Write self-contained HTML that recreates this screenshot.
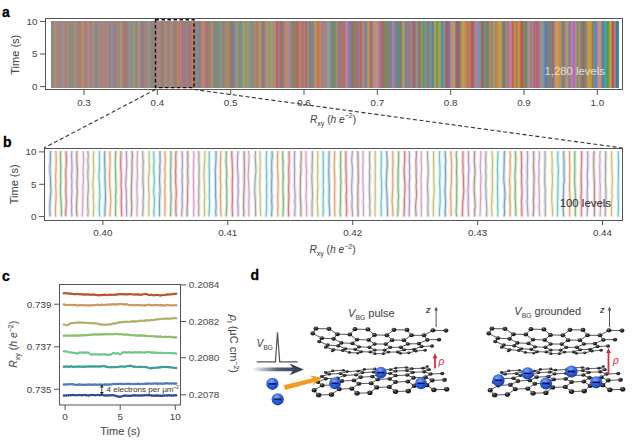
<!DOCTYPE html>
<html><head><meta charset="utf-8"><style>
html,body{margin:0;padding:0;background:#fff;}
svg{display:block;}
text{font-family:"Liberation Sans",sans-serif;}
</style></head><body>
<svg width="632" height="444" viewBox="0 0 632 444">
<rect width="632" height="444" fill="#fff"/>
<g id="pa">
<g shape-rendering="crispEdges">
<rect x="51.0" y="21" width="1.02" height="66.7" fill="rgb(137,142,114)"/>
<rect x="52.0" y="21" width="1.02" height="66.7" fill="rgb(138,137,132)"/>
<rect x="53.0" y="21" width="1.02" height="66.7" fill="rgb(147,141,132)"/>
<rect x="54.0" y="21" width="1.02" height="66.7" fill="rgb(150,147,131)"/>
<rect x="55.0" y="21" width="1.02" height="66.7" fill="rgb(161,146,121)"/>
<rect x="56.0" y="21" width="1.02" height="66.7" fill="rgb(176,136,111)"/>
<rect x="57.0" y="21" width="1.02" height="66.7" fill="rgb(178,124,113)"/>
<rect x="58.0" y="21" width="1.02" height="66.7" fill="rgb(172,126,127)"/>
<rect x="59.0" y="21" width="1.02" height="66.7" fill="rgb(160,135,139)"/>
<rect x="60.0" y="21" width="1.02" height="66.7" fill="rgb(156,132,133)"/>
<rect x="61.0" y="21" width="1.02" height="66.7" fill="rgb(147,137,137)"/>
<rect x="62.0" y="21" width="1.02" height="66.7" fill="rgb(144,143,146)"/>
<rect x="63.0" y="21" width="1.02" height="66.7" fill="rgb(169,136,148)"/>
<rect x="64.0" y="21" width="1.02" height="66.7" fill="rgb(176,130,140)"/>
<rect x="65.0" y="21" width="1.02" height="66.7" fill="rgb(166,127,119)"/>
<rect x="66.0" y="21" width="1.02" height="66.7" fill="rgb(154,140,112)"/>
<rect x="67.0" y="21" width="1.02" height="66.7" fill="rgb(162,144,117)"/>
<rect x="68.0" y="21" width="1.02" height="66.7" fill="rgb(155,137,130)"/>
<rect x="69.0" y="21" width="1.02" height="66.7" fill="rgb(140,141,122)"/>
<rect x="70.0" y="21" width="1.02" height="66.7" fill="rgb(137,143,128)"/>
<rect x="71.0" y="21" width="1.02" height="66.7" fill="rgb(147,135,129)"/>
<rect x="72.0" y="21" width="1.02" height="66.7" fill="rgb(161,129,119)"/>
<rect x="73.0" y="21" width="1.02" height="66.7" fill="rgb(168,136,118)"/>
<rect x="74.0" y="21" width="1.02" height="66.7" fill="rgb(145,147,137)"/>
<rect x="75.0" y="21" width="1.02" height="66.7" fill="rgb(149,148,131)"/>
<rect x="76.0" y="21" width="1.02" height="66.7" fill="rgb(161,139,118)"/>
<rect x="77.0" y="21" width="1.02" height="66.7" fill="rgb(159,130,121)"/>
<rect x="78.0" y="21" width="1.02" height="66.7" fill="rgb(158,130,127)"/>
<rect x="79.0" y="21" width="1.02" height="66.7" fill="rgb(167,124,120)"/>
<rect x="80.0" y="21" width="1.02" height="66.7" fill="rgb(177,123,111)"/>
<rect x="81.0" y="21" width="1.02" height="66.7" fill="rgb(182,133,107)"/>
<rect x="82.0" y="21" width="1.02" height="66.7" fill="rgb(177,142,108)"/>
<rect x="83.0" y="21" width="1.02" height="66.7" fill="rgb(169,144,111)"/>
<rect x="84.0" y="21" width="1.02" height="66.7" fill="rgb(161,132,119)"/>
<rect x="85.0" y="21" width="1.02" height="66.7" fill="rgb(159,128,131)"/>
<rect x="86.0" y="21" width="1.02" height="66.7" fill="rgb(163,129,138)"/>
<rect x="87.0" y="21" width="1.02" height="66.7" fill="rgb(174,132,123)"/>
<rect x="88.0" y="21" width="1.02" height="66.7" fill="rgb(182,134,117)"/>
<rect x="89.0" y="21" width="1.02" height="66.7" fill="rgb(176,132,134)"/>
<rect x="90.0" y="21" width="1.02" height="66.7" fill="rgb(161,129,128)"/>
<rect x="91.0" y="21" width="1.02" height="66.7" fill="rgb(161,133,124)"/>
<rect x="92.0" y="21" width="1.02" height="66.7" fill="rgb(172,137,116)"/>
<rect x="93.0" y="21" width="1.02" height="66.7" fill="rgb(153,144,131)"/>
<rect x="94.0" y="21" width="1.02" height="66.7" fill="rgb(138,145,143)"/>
<rect x="95.0" y="21" width="1.02" height="66.7" fill="rgb(148,134,130)"/>
<rect x="96.0" y="21" width="1.02" height="66.7" fill="rgb(151,131,126)"/>
<rect x="97.0" y="21" width="1.02" height="66.7" fill="rgb(140,141,140)"/>
<rect x="98.0" y="21" width="1.02" height="66.7" fill="rgb(145,141,139)"/>
<rect x="99.0" y="21" width="1.02" height="66.7" fill="rgb(160,136,126)"/>
<rect x="100.0" y="21" width="1.02" height="66.7" fill="rgb(172,135,116)"/>
<rect x="101.0" y="21" width="1.02" height="66.7" fill="rgb(161,135,126)"/>
<rect x="102.0" y="21" width="1.02" height="66.7" fill="rgb(163,135,124)"/>
<rect x="103.0" y="21" width="1.02" height="66.7" fill="rgb(179,134,112)"/>
<rect x="104.0" y="21" width="1.02" height="66.7" fill="rgb(174,133,121)"/>
<rect x="105.0" y="21" width="1.02" height="66.7" fill="rgb(161,132,135)"/>
<rect x="106.0" y="21" width="1.02" height="66.7" fill="rgb(159,134,136)"/>
<rect x="107.0" y="21" width="1.02" height="66.7" fill="rgb(168,133,140)"/>
<rect x="108.0" y="21" width="1.02" height="66.7" fill="rgb(167,129,133)"/>
<rect x="109.0" y="21" width="1.02" height="66.7" fill="rgb(159,126,123)"/>
<rect x="110.0" y="21" width="1.02" height="66.7" fill="rgb(152,132,128)"/>
<rect x="111.0" y="21" width="1.02" height="66.7" fill="rgb(139,142,142)"/>
<rect x="112.0" y="21" width="1.02" height="66.7" fill="rgb(132,143,148)"/>
<rect x="113.0" y="21" width="1.02" height="66.7" fill="rgb(140,134,146)"/>
<rect x="114.0" y="21" width="1.02" height="66.7" fill="rgb(159,125,137)"/>
<rect x="115.0" y="21" width="1.02" height="66.7" fill="rgb(167,121,122)"/>
<rect x="116.0" y="21" width="1.02" height="66.7" fill="rgb(162,130,130)"/>
<rect x="117.0" y="21" width="1.02" height="66.7" fill="rgb(162,135,136)"/>
<rect x="118.0" y="21" width="1.02" height="66.7" fill="rgb(146,141,120)"/>
<rect x="119.0" y="21" width="1.02" height="66.7" fill="rgb(147,146,110)"/>
<rect x="120.0" y="21" width="1.02" height="66.7" fill="rgb(165,149,110)"/>
<rect x="121.0" y="21" width="1.02" height="66.7" fill="rgb(173,144,121)"/>
<rect x="122.0" y="21" width="1.02" height="66.7" fill="rgb(177,130,132)"/>
<rect x="123.0" y="21" width="1.02" height="66.7" fill="rgb(177,115,116)"/>
<rect x="124.0" y="21" width="1.02" height="66.7" fill="rgb(169,117,109)"/>
<rect x="125.0" y="21" width="1.02" height="66.7" fill="rgb(152,129,109)"/>
<rect x="126.0" y="21" width="1.02" height="66.7" fill="rgb(158,125,116)"/>
<rect x="127.0" y="21" width="1.02" height="66.7" fill="rgb(149,133,136)"/>
<rect x="128.0" y="21" width="1.02" height="66.7" fill="rgb(159,132,147)"/>
<rect x="129.0" y="21" width="1.02" height="66.7" fill="rgb(164,135,150)"/>
<rect x="130.0" y="21" width="1.02" height="66.7" fill="rgb(137,147,149)"/>
<rect x="131.0" y="21" width="1.02" height="66.7" fill="rgb(128,148,134)"/>
<rect x="132.0" y="21" width="1.02" height="66.7" fill="rgb(136,146,114)"/>
<rect x="133.0" y="21" width="1.02" height="66.7" fill="rgb(156,148,108)"/>
<rect x="134.0" y="21" width="1.02" height="66.7" fill="rgb(160,147,115)"/>
<rect x="135.0" y="21" width="1.02" height="66.7" fill="rgb(136,136,138)"/>
<rect x="136.0" y="21" width="1.02" height="66.7" fill="rgb(135,136,139)"/>
<rect x="137.0" y="21" width="1.02" height="66.7" fill="rgb(159,145,120)"/>
<rect x="138.0" y="21" width="1.02" height="66.7" fill="rgb(174,143,126)"/>
<rect x="139.0" y="21" width="1.02" height="66.7" fill="rgb(174,135,141)"/>
<rect x="140.0" y="21" width="1.02" height="66.7" fill="rgb(156,134,137)"/>
<rect x="141.0" y="21" width="1.02" height="66.7" fill="rgb(138,133,140)"/>
<rect x="142.0" y="21" width="1.02" height="66.7" fill="rgb(138,129,138)"/>
<rect x="143.0" y="21" width="1.02" height="66.7" fill="rgb(165,120,117)"/>
<rect x="144.0" y="21" width="1.02" height="66.7" fill="rgb(180,126,106)"/>
<rect x="145.0" y="21" width="1.02" height="66.7" fill="rgb(166,132,117)"/>
<rect x="146.0" y="21" width="1.02" height="66.7" fill="rgb(135,137,141)"/>
<rect x="147.0" y="21" width="1.02" height="66.7" fill="rgb(138,145,142)"/>
<rect x="148.0" y="21" width="1.02" height="66.7" fill="rgb(165,141,120)"/>
<rect x="149.0" y="21" width="1.02" height="66.7" fill="rgb(142,147,139)"/>
<rect x="150.0" y="21" width="1.02" height="66.7" fill="rgb(134,145,146)"/>
<rect x="151.0" y="21" width="1.02" height="66.7" fill="rgb(150,130,124)"/>
<rect x="152.0" y="21" width="1.02" height="66.7" fill="rgb(141,136,110)"/>
<rect x="153.0" y="21" width="1.02" height="66.7" fill="rgb(138,137,110)"/>
<rect x="154.0" y="21" width="1.02" height="66.7" fill="rgb(152,127,116)"/>
<rect x="155.0" y="21" width="1.02" height="66.7" fill="rgb(155,128,123)"/>
<rect x="156.0" y="21" width="1.02" height="66.7" fill="rgb(154,132,132)"/>
<rect x="157.0" y="21" width="1.02" height="66.7" fill="rgb(161,131,137)"/>
<rect x="158.0" y="21" width="1.02" height="66.7" fill="rgb(172,131,126)"/>
<rect x="159.0" y="21" width="1.02" height="66.7" fill="rgb(170,130,132)"/>
<rect x="160.0" y="21" width="1.02" height="66.7" fill="rgb(157,130,139)"/>
<rect x="161.0" y="21" width="1.02" height="66.7" fill="rgb(142,136,122)"/>
<rect x="162.0" y="21" width="1.02" height="66.7" fill="rgb(147,131,109)"/>
<rect x="163.0" y="21" width="1.02" height="66.7" fill="rgb(170,119,106)"/>
<rect x="164.0" y="21" width="1.02" height="66.7" fill="rgb(174,134,105)"/>
<rect x="165.0" y="21" width="1.02" height="66.7" fill="rgb(166,147,109)"/>
<rect x="166.0" y="21" width="1.02" height="66.7" fill="rgb(148,142,126)"/>
<rect x="167.0" y="21" width="1.02" height="66.7" fill="rgb(138,133,143)"/>
<rect x="168.0" y="21" width="1.02" height="66.7" fill="rgb(154,128,148)"/>
<rect x="169.0" y="21" width="1.02" height="66.7" fill="rgb(167,129,135)"/>
<rect x="170.0" y="21" width="1.02" height="66.7" fill="rgb(185,133,107)"/>
<rect x="171.0" y="21" width="1.02" height="66.7" fill="rgb(185,133,107)"/>
<rect x="172.0" y="21" width="1.02" height="66.7" fill="rgb(167,129,136)"/>
<rect x="173.0" y="21" width="1.02" height="66.7" fill="rgb(153,131,140)"/>
<rect x="174.0" y="21" width="1.02" height="66.7" fill="rgb(139,137,115)"/>
<rect x="175.0" y="21" width="1.02" height="66.7" fill="rgb(153,127,106)"/>
<rect x="176.0" y="21" width="1.02" height="66.7" fill="rgb(171,124,105)"/>
<rect x="177.0" y="21" width="1.02" height="66.7" fill="rgb(173,140,104)"/>
<rect x="178.0" y="21" width="1.02" height="66.7" fill="rgb(175,131,105)"/>
<rect x="179.0" y="21" width="1.02" height="66.7" fill="rgb(179,119,118)"/>
<rect x="180.0" y="21" width="1.02" height="66.7" fill="rgb(182,126,140)"/>
<rect x="181.0" y="21" width="1.02" height="66.7" fill="rgb(181,121,132)"/>
<rect x="182.0" y="21" width="1.02" height="66.7" fill="rgb(177,113,113)"/>
<rect x="183.0" y="21" width="1.02" height="66.7" fill="rgb(164,121,119)"/>
<rect x="184.0" y="21" width="1.02" height="66.7" fill="rgb(144,131,134)"/>
<rect x="185.0" y="21" width="1.02" height="66.7" fill="rgb(133,131,146)"/>
<rect x="186.0" y="21" width="1.02" height="66.7" fill="rgb(149,128,150)"/>
<rect x="187.0" y="21" width="1.02" height="66.7" fill="rgb(160,124,145)"/>
<rect x="188.0" y="21" width="1.02" height="66.7" fill="rgb(170,116,124)"/>
<rect x="189.0" y="21" width="1.02" height="66.7" fill="rgb(171,112,111)"/>
<rect x="190.0" y="21" width="1.02" height="66.7" fill="rgb(162,119,112)"/>
<rect x="191.0" y="21" width="1.02" height="66.7" fill="rgb(169,126,108)"/>
<rect x="192.0" y="21" width="1.02" height="66.7" fill="rgb(185,129,100)"/>
<rect x="193.0" y="21" width="1.02" height="66.7" fill="rgb(182,120,102)"/>
<rect x="194.0" y="21" width="1.02" height="66.7" fill="rgb(169,116,109)"/>
<rect x="195.0" y="21" width="1.02" height="66.7" fill="rgb(152,125,121)"/>
<rect x="196.0" y="21" width="1.02" height="66.7" fill="rgb(129,142,144)"/>
<rect x="197.0" y="21" width="1.02" height="66.7" fill="rgb(121,139,150)"/>
<rect x="198.0" y="21" width="1.02" height="66.7" fill="rgb(125,132,145)"/>
<rect x="199.0" y="21" width="1.02" height="66.7" fill="rgb(138,126,131)"/>
<rect x="200.0" y="21" width="1.02" height="66.7" fill="rgb(159,124,115)"/>
<rect x="201.0" y="21" width="1.02" height="66.7" fill="rgb(183,130,100)"/>
<rect x="202.0" y="21" width="1.02" height="66.7" fill="rgb(190,133,106)"/>
<rect x="203.0" y="21" width="1.02" height="66.7" fill="rgb(186,132,137)"/>
<rect x="204.0" y="21" width="1.02" height="66.7" fill="rgb(183,128,144)"/>
<rect x="205.0" y="21" width="1.02" height="66.7" fill="rgb(181,114,120)"/>
<rect x="206.0" y="21" width="1.02" height="66.7" fill="rgb(172,113,106)"/>
<rect x="207.0" y="21" width="1.02" height="66.7" fill="rgb(145,130,104)"/>
<rect x="208.0" y="21" width="1.02" height="66.7" fill="rgb(136,136,107)"/>
<rect x="209.0" y="21" width="1.02" height="66.7" fill="rgb(154,126,117)"/>
<rect x="210.0" y="21" width="1.02" height="66.7" fill="rgb(173,127,129)"/>
<rect x="211.0" y="21" width="1.02" height="66.7" fill="rgb(187,132,116)"/>
<rect x="212.0" y="21" width="1.02" height="66.7" fill="rgb(179,136,100)"/>
<rect x="213.0" y="21" width="1.02" height="66.7" fill="rgb(138,142,103)"/>
<rect x="214.0" y="21" width="1.02" height="66.7" fill="rgb(123,141,116)"/>
<rect x="215.0" y="21" width="1.02" height="66.7" fill="rgb(120,134,141)"/>
<rect x="216.0" y="21" width="1.02" height="66.7" fill="rgb(124,132,146)"/>
<rect x="217.0" y="21" width="1.02" height="66.7" fill="rgb(136,134,134)"/>
<rect x="218.0" y="21" width="1.02" height="66.7" fill="rgb(133,140,116)"/>
<rect x="219.0" y="21" width="1.02" height="66.7" fill="rgb(124,145,112)"/>
<rect x="220.0" y="21" width="1.02" height="66.7" fill="rgb(119,151,135)"/>
<rect x="221.0" y="21" width="1.02" height="66.7" fill="rgb(122,149,147)"/>
<rect x="222.0" y="21" width="1.02" height="66.7" fill="rgb(142,132,129)"/>
<rect x="223.0" y="21" width="1.02" height="66.7" fill="rgb(155,125,114)"/>
<rect x="224.0" y="21" width="1.02" height="66.7" fill="rgb(160,136,110)"/>
<rect x="225.0" y="21" width="1.02" height="66.7" fill="rgb(151,141,119)"/>
<rect x="226.0" y="21" width="1.02" height="66.7" fill="rgb(152,135,123)"/>
<rect x="227.0" y="21" width="1.02" height="66.7" fill="rgb(181,134,101)"/>
<rect x="228.0" y="21" width="1.02" height="66.7" fill="rgb(175,137,95)"/>
<rect x="229.0" y="21" width="1.02" height="66.7" fill="rgb(141,139,101)"/>
<rect x="230.0" y="21" width="1.02" height="66.7" fill="rgb(151,124,102)"/>
<rect x="231.0" y="21" width="1.02" height="66.7" fill="rgb(164,112,110)"/>
<rect x="232.0" y="21" width="1.02" height="66.7" fill="rgb(135,123,136)"/>
<rect x="233.0" y="21" width="1.02" height="66.7" fill="rgb(126,129,149)"/>
<rect x="234.0" y="21" width="1.02" height="66.7" fill="rgb(142,130,152)"/>
<rect x="235.0" y="21" width="1.02" height="66.7" fill="rgb(135,141,156)"/>
<rect x="236.0" y="21" width="1.02" height="66.7" fill="rgb(129,153,148)"/>
<rect x="237.0" y="21" width="1.02" height="66.7" fill="rgb(151,154,115)"/>
<rect x="238.0" y="21" width="1.02" height="66.7" fill="rgb(145,150,102)"/>
<rect x="239.0" y="21" width="1.02" height="66.7" fill="rgb(133,141,104)"/>
<rect x="240.0" y="21" width="1.02" height="66.7" fill="rgb(140,132,120)"/>
<rect x="241.0" y="21" width="1.02" height="66.7" fill="rgb(122,149,150)"/>
<rect x="242.0" y="21" width="1.02" height="66.7" fill="rgb(122,156,150)"/>
<rect x="243.0" y="21" width="1.02" height="66.7" fill="rgb(152,156,119)"/>
<rect x="244.0" y="21" width="1.02" height="66.7" fill="rgb(163,154,101)"/>
<rect x="245.0" y="21" width="1.02" height="66.7" fill="rgb(144,150,100)"/>
<rect x="246.0" y="21" width="1.02" height="66.7" fill="rgb(139,149,100)"/>
<rect x="247.0" y="21" width="1.02" height="66.7" fill="rgb(161,152,101)"/>
<rect x="248.0" y="21" width="1.02" height="66.7" fill="rgb(163,146,112)"/>
<rect x="249.0" y="21" width="1.02" height="66.7" fill="rgb(147,140,131)"/>
<rect x="250.0" y="21" width="1.02" height="66.7" fill="rgb(126,148,150)"/>
<rect x="251.0" y="21" width="1.02" height="66.7" fill="rgb(115,154,151)"/>
<rect x="252.0" y="21" width="1.02" height="66.7" fill="rgb(121,148,130)"/>
<rect x="253.0" y="21" width="1.02" height="66.7" fill="rgb(144,139,121)"/>
<rect x="254.0" y="21" width="1.02" height="66.7" fill="rgb(172,134,109)"/>
<rect x="255.0" y="21" width="1.02" height="66.7" fill="rgb(187,132,96)"/>
<rect x="256.0" y="21" width="1.02" height="66.7" fill="rgb(173,125,102)"/>
<rect x="257.0" y="21" width="1.02" height="66.7" fill="rgb(161,126,107)"/>
<rect x="258.0" y="21" width="1.02" height="66.7" fill="rgb(167,146,101)"/>
<rect x="259.0" y="21" width="1.02" height="66.7" fill="rgb(177,151,95)"/>
<rect x="260.0" y="21" width="1.02" height="66.7" fill="rgb(188,138,94)"/>
<rect x="261.0" y="21" width="1.02" height="66.7" fill="rgb(168,132,111)"/>
<rect x="262.0" y="21" width="1.02" height="66.7" fill="rgb(126,131,141)"/>
<rect x="263.0" y="21" width="1.02" height="66.7" fill="rgb(123,129,151)"/>
<rect x="264.0" y="21" width="1.02" height="66.7" fill="rgb(154,127,145)"/>
<rect x="265.0" y="21" width="1.02" height="66.7" fill="rgb(177,132,117)"/>
<rect x="266.0" y="21" width="1.02" height="66.7" fill="rgb(180,146,98)"/>
<rect x="267.0" y="21" width="1.02" height="66.7" fill="rgb(179,150,94)"/>
<rect x="268.0" y="21" width="1.02" height="66.7" fill="rgb(175,143,104)"/>
<rect x="269.0" y="21" width="1.02" height="66.7" fill="rgb(132,152,142)"/>
<rect x="270.0" y="21" width="1.02" height="66.7" fill="rgb(137,157,133)"/>
<rect x="271.0" y="21" width="1.02" height="66.7" fill="rgb(165,157,104)"/>
<rect x="272.0" y="21" width="1.02" height="66.7" fill="rgb(170,150,107)"/>
<rect x="273.0" y="21" width="1.02" height="66.7" fill="rgb(163,136,134)"/>
<rect x="274.0" y="21" width="1.02" height="66.7" fill="rgb(168,144,116)"/>
<rect x="275.0" y="21" width="1.02" height="66.7" fill="rgb(175,140,99)"/>
<rect x="276.0" y="21" width="1.02" height="66.7" fill="rgb(181,110,97)"/>
<rect x="277.0" y="21" width="1.02" height="66.7" fill="rgb(178,104,109)"/>
<rect x="278.0" y="21" width="1.02" height="66.7" fill="rgb(162,119,143)"/>
<rect x="279.0" y="21" width="1.02" height="66.7" fill="rgb(162,119,143)"/>
<rect x="280.0" y="21" width="1.02" height="66.7" fill="rgb(178,104,109)"/>
<rect x="281.0" y="21" width="1.02" height="66.7" fill="rgb(173,106,97)"/>
<rect x="282.0" y="21" width="1.02" height="66.7" fill="rgb(140,130,98)"/>
<rect x="283.0" y="21" width="1.02" height="66.7" fill="rgb(127,142,104)"/>
<rect x="284.0" y="21" width="1.02" height="66.7" fill="rgb(152,138,128)"/>
<rect x="285.0" y="21" width="1.02" height="66.7" fill="rgb(183,132,139)"/>
<rect x="286.0" y="21" width="1.02" height="66.7" fill="rgb(196,132,109)"/>
<rect x="287.0" y="21" width="1.02" height="66.7" fill="rgb(195,132,113)"/>
<rect x="288.0" y="21" width="1.02" height="66.7" fill="rgb(188,130,146)"/>
<rect x="289.0" y="21" width="1.02" height="66.7" fill="rgb(173,128,154)"/>
<rect x="290.0" y="21" width="1.02" height="66.7" fill="rgb(147,132,135)"/>
<rect x="291.0" y="21" width="1.02" height="66.7" fill="rgb(123,142,107)"/>
<rect x="292.0" y="21" width="1.02" height="66.7" fill="rgb(126,138,101)"/>
<rect x="293.0" y="21" width="1.02" height="66.7" fill="rgb(147,122,108)"/>
<rect x="294.0" y="21" width="1.02" height="66.7" fill="rgb(148,121,108)"/>
<rect x="295.0" y="21" width="1.02" height="66.7" fill="rgb(137,130,102)"/>
<rect x="296.0" y="21" width="1.02" height="66.7" fill="rgb(157,117,97)"/>
<rect x="297.0" y="21" width="1.02" height="66.7" fill="rgb(179,102,95)"/>
<rect x="298.0" y="21" width="1.02" height="66.7" fill="rgb(188,107,93)"/>
<rect x="299.0" y="21" width="1.02" height="66.7" fill="rgb(196,127,88)"/>
<rect x="300.0" y="21" width="1.02" height="66.7" fill="rgb(186,133,97)"/>
<rect x="301.0" y="21" width="1.02" height="66.7" fill="rgb(161,129,119)"/>
<rect x="302.0" y="21" width="1.02" height="66.7" fill="rgb(167,117,118)"/>
<rect x="303.0" y="21" width="1.02" height="66.7" fill="rgb(182,114,124)"/>
<rect x="304.0" y="21" width="1.02" height="66.7" fill="rgb(179,122,137)"/>
<rect x="305.0" y="21" width="1.02" height="66.7" fill="rgb(160,119,118)"/>
<rect x="306.0" y="21" width="1.02" height="66.7" fill="rgb(160,118,106)"/>
<rect x="307.0" y="21" width="1.02" height="66.7" fill="rgb(181,126,95)"/>
<rect x="308.0" y="21" width="1.02" height="66.7" fill="rgb(179,131,100)"/>
<rect x="309.0" y="21" width="1.02" height="66.7" fill="rgb(127,130,139)"/>
<rect x="310.0" y="21" width="1.02" height="66.7" fill="rgb(116,130,148)"/>
<rect x="311.0" y="21" width="1.02" height="66.7" fill="rgb(136,132,137)"/>
<rect x="312.0" y="21" width="1.02" height="66.7" fill="rgb(128,131,142)"/>
<rect x="313.0" y="21" width="1.02" height="66.7" fill="rgb(123,135,140)"/>
<rect x="314.0" y="21" width="1.02" height="66.7" fill="rgb(157,150,108)"/>
<rect x="315.0" y="21" width="1.02" height="66.7" fill="rgb(182,149,90)"/>
<rect x="316.0" y="21" width="1.02" height="66.7" fill="rgb(196,134,85)"/>
<rect x="317.0" y="21" width="1.02" height="66.7" fill="rgb(195,119,87)"/>
<rect x="318.0" y="21" width="1.02" height="66.7" fill="rgb(193,113,89)"/>
<rect x="319.0" y="21" width="1.02" height="66.7" fill="rgb(199,127,84)"/>
<rect x="320.0" y="21" width="1.02" height="66.7" fill="rgb(195,131,94)"/>
<rect x="321.0" y="21" width="1.02" height="66.7" fill="rgb(167,129,123)"/>
<rect x="322.0" y="21" width="1.02" height="66.7" fill="rgb(143,135,126)"/>
<rect x="323.0" y="21" width="1.02" height="66.7" fill="rgb(159,135,136)"/>
<rect x="324.0" y="21" width="1.02" height="66.7" fill="rgb(173,128,154)"/>
<rect x="325.0" y="21" width="1.02" height="66.7" fill="rgb(162,124,157)"/>
<rect x="326.0" y="21" width="1.02" height="66.7" fill="rgb(160,130,144)"/>
<rect x="327.0" y="21" width="1.02" height="66.7" fill="rgb(165,152,109)"/>
<rect x="328.0" y="21" width="1.02" height="66.7" fill="rgb(144,160,122)"/>
<rect x="329.0" y="21" width="1.02" height="66.7" fill="rgb(111,160,156)"/>
<rect x="330.0" y="21" width="1.02" height="66.7" fill="rgb(113,151,154)"/>
<rect x="331.0" y="21" width="1.02" height="66.7" fill="rgb(141,125,122)"/>
<rect x="332.0" y="21" width="1.02" height="66.7" fill="rgb(137,120,122)"/>
<rect x="333.0" y="21" width="1.02" height="66.7" fill="rgb(114,132,130)"/>
<rect x="334.0" y="21" width="1.02" height="66.7" fill="rgb(110,144,105)"/>
<rect x="335.0" y="21" width="1.02" height="66.7" fill="rgb(127,145,92)"/>
<rect x="336.0" y="21" width="1.02" height="66.7" fill="rgb(173,136,88)"/>
<rect x="337.0" y="21" width="1.02" height="66.7" fill="rgb(167,132,107)"/>
<rect x="338.0" y="21" width="1.02" height="66.7" fill="rgb(129,128,144)"/>
<rect x="339.0" y="21" width="1.02" height="66.7" fill="rgb(142,124,157)"/>
<rect x="340.0" y="21" width="1.02" height="66.7" fill="rgb(160,117,146)"/>
<rect x="341.0" y="21" width="1.02" height="66.7" fill="rgb(180,107,108)"/>
<rect x="342.0" y="21" width="1.02" height="66.7" fill="rgb(189,117,90)"/>
<rect x="343.0" y="21" width="1.02" height="66.7" fill="rgb(170,119,98)"/>
<rect x="344.0" y="21" width="1.02" height="66.7" fill="rgb(163,118,116)"/>
<rect x="345.0" y="21" width="1.02" height="66.7" fill="rgb(184,126,150)"/>
<rect x="346.0" y="21" width="1.02" height="66.7" fill="rgb(188,128,160)"/>
<rect x="347.0" y="21" width="1.02" height="66.7" fill="rgb(174,125,159)"/>
<rect x="348.0" y="21" width="1.02" height="66.7" fill="rgb(160,122,158)"/>
<rect x="349.0" y="21" width="1.02" height="66.7" fill="rgb(146,123,157)"/>
<rect x="350.0" y="21" width="1.02" height="66.7" fill="rgb(114,127,155)"/>
<rect x="351.0" y="21" width="1.02" height="66.7" fill="rgb(120,122,142)"/>
<rect x="352.0" y="21" width="1.02" height="66.7" fill="rgb(166,103,104)"/>
<rect x="353.0" y="21" width="1.02" height="66.7" fill="rgb(159,112,91)"/>
<rect x="354.0" y="21" width="1.02" height="66.7" fill="rgb(120,139,92)"/>
<rect x="355.0" y="21" width="1.02" height="66.7" fill="rgb(120,139,92)"/>
<rect x="356.0" y="21" width="1.02" height="66.7" fill="rgb(157,114,96)"/>
<rect x="357.0" y="21" width="1.02" height="66.7" fill="rgb(170,107,120)"/>
<rect x="358.0" y="21" width="1.02" height="66.7" fill="rgb(160,118,150)"/>
<rect x="359.0" y="21" width="1.02" height="66.7" fill="rgb(161,116,147)"/>
<rect x="360.0" y="21" width="1.02" height="66.7" fill="rgb(178,102,109)"/>
<rect x="361.0" y="21" width="1.02" height="66.7" fill="rgb(183,112,91)"/>
<rect x="362.0" y="21" width="1.02" height="66.7" fill="rgb(174,144,97)"/>
<rect x="363.0" y="21" width="1.02" height="66.7" fill="rgb(164,138,129)"/>
<rect x="364.0" y="21" width="1.02" height="66.7" fill="rgb(152,125,153)"/>
<rect x="365.0" y="21" width="1.02" height="66.7" fill="rgb(129,125,157)"/>
<rect x="366.0" y="21" width="1.02" height="66.7" fill="rgb(122,134,142)"/>
<rect x="367.0" y="21" width="1.02" height="66.7" fill="rgb(160,155,100)"/>
<rect x="368.0" y="21" width="1.02" height="66.7" fill="rgb(176,156,87)"/>
<rect x="369.0" y="21" width="1.02" height="66.7" fill="rgb(180,131,88)"/>
<rect x="370.0" y="21" width="1.02" height="66.7" fill="rgb(181,104,93)"/>
<rect x="371.0" y="21" width="1.02" height="66.7" fill="rgb(167,112,110)"/>
<rect x="372.0" y="21" width="1.02" height="66.7" fill="rgb(157,128,131)"/>
<rect x="373.0" y="21" width="1.02" height="66.7" fill="rgb(174,134,141)"/>
<rect x="374.0" y="21" width="1.02" height="66.7" fill="rgb(180,148,117)"/>
<rect x="375.0" y="21" width="1.02" height="66.7" fill="rgb(178,156,99)"/>
<rect x="376.0" y="21" width="1.02" height="66.7" fill="rgb(184,145,124)"/>
<rect x="377.0" y="21" width="1.02" height="66.7" fill="rgb(191,132,154)"/>
<rect x="378.0" y="21" width="1.02" height="66.7" fill="rgb(183,126,161)"/>
<rect x="379.0" y="21" width="1.02" height="66.7" fill="rgb(162,122,160)"/>
<rect x="380.0" y="21" width="1.02" height="66.7" fill="rgb(160,117,151)"/>
<rect x="381.0" y="21" width="1.02" height="66.7" fill="rgb(174,103,119)"/>
<rect x="382.0" y="21" width="1.02" height="66.7" fill="rgb(177,98,94)"/>
<rect x="383.0" y="21" width="1.02" height="66.7" fill="rgb(147,119,89)"/>
<rect x="384.0" y="21" width="1.02" height="66.7" fill="rgb(123,135,93)"/>
<rect x="385.0" y="21" width="1.02" height="66.7" fill="rgb(140,121,101)"/>
<rect x="386.0" y="21" width="1.02" height="66.7" fill="rgb(136,125,100)"/>
<rect x="387.0" y="21" width="1.02" height="66.7" fill="rgb(112,143,92)"/>
<rect x="388.0" y="21" width="1.02" height="66.7" fill="rgb(113,144,100)"/>
<rect x="389.0" y="21" width="1.02" height="66.7" fill="rgb(131,131,135)"/>
<rect x="390.0" y="21" width="1.02" height="66.7" fill="rgb(120,126,154)"/>
<rect x="391.0" y="21" width="1.02" height="66.7" fill="rgb(122,128,158)"/>
<rect x="392.0" y="21" width="1.02" height="66.7" fill="rgb(168,127,161)"/>
<rect x="393.0" y="21" width="1.02" height="66.7" fill="rgb(166,122,161)"/>
<rect x="394.0" y="21" width="1.02" height="66.7" fill="rgb(152,121,160)"/>
<rect x="395.0" y="21" width="1.02" height="66.7" fill="rgb(131,124,159)"/>
<rect x="396.0" y="21" width="1.02" height="66.7" fill="rgb(105,129,152)"/>
<rect x="397.0" y="21" width="1.02" height="66.7" fill="rgb(100,137,128)"/>
<rect x="398.0" y="21" width="1.02" height="66.7" fill="rgb(102,143,106)"/>
<rect x="399.0" y="21" width="1.02" height="66.7" fill="rgb(103,136,125)"/>
<rect x="400.0" y="21" width="1.02" height="66.7" fill="rgb(117,124,133)"/>
<rect x="401.0" y="21" width="1.02" height="66.7" fill="rgb(147,122,109)"/>
<rect x="402.0" y="21" width="1.02" height="66.7" fill="rgb(167,145,91)"/>
<rect x="403.0" y="21" width="1.02" height="66.7" fill="rgb(172,160,86)"/>
<rect x="404.0" y="21" width="1.02" height="66.7" fill="rgb(154,153,104)"/>
<rect x="405.0" y="21" width="1.02" height="66.7" fill="rgb(118,133,144)"/>
<rect x="406.0" y="21" width="1.02" height="66.7" fill="rgb(130,123,159)"/>
<rect x="407.0" y="21" width="1.02" height="66.7" fill="rgb(151,120,161)"/>
<rect x="408.0" y="21" width="1.02" height="66.7" fill="rgb(145,126,147)"/>
<rect x="409.0" y="21" width="1.02" height="66.7" fill="rgb(125,140,112)"/>
<rect x="410.0" y="21" width="1.02" height="66.7" fill="rgb(151,136,131)"/>
<rect x="411.0" y="21" width="1.02" height="66.7" fill="rgb(169,121,149)"/>
<rect x="412.0" y="21" width="1.02" height="66.7" fill="rgb(175,104,124)"/>
<rect x="413.0" y="21" width="1.02" height="66.7" fill="rgb(174,95,102)"/>
<rect x="414.0" y="21" width="1.02" height="66.7" fill="rgb(141,111,122)"/>
<rect x="415.0" y="21" width="1.02" height="66.7" fill="rgb(143,126,122)"/>
<rect x="416.0" y="21" width="1.02" height="66.7" fill="rgb(169,138,104)"/>
<rect x="417.0" y="21" width="1.02" height="66.7" fill="rgb(115,152,149)"/>
<rect x="418.0" y="21" width="1.02" height="66.7" fill="rgb(105,135,153)"/>
<rect x="419.0" y="21" width="1.02" height="66.7" fill="rgb(149,108,116)"/>
<rect x="420.0" y="21" width="1.02" height="66.7" fill="rgb(179,111,89)"/>
<rect x="421.0" y="21" width="1.02" height="66.7" fill="rgb(163,147,83)"/>
<rect x="422.0" y="21" width="1.02" height="66.7" fill="rgb(116,152,86)"/>
<rect x="423.0" y="21" width="1.02" height="66.7" fill="rgb(100,151,95)"/>
<rect x="424.0" y="21" width="1.02" height="66.7" fill="rgb(95,157,129)"/>
<rect x="425.0" y="21" width="1.02" height="66.7" fill="rgb(96,159,158)"/>
<rect x="426.0" y="21" width="1.02" height="66.7" fill="rgb(116,142,142)"/>
<rect x="427.0" y="21" width="1.02" height="66.7" fill="rgb(142,120,115)"/>
<rect x="428.0" y="21" width="1.02" height="66.7" fill="rgb(146,124,120)"/>
<rect x="429.0" y="21" width="1.02" height="66.7" fill="rgb(139,134,133)"/>
<rect x="430.0" y="21" width="1.02" height="66.7" fill="rgb(117,146,150)"/>
<rect x="431.0" y="21" width="1.02" height="66.7" fill="rgb(96,149,163)"/>
<rect x="432.0" y="21" width="1.02" height="66.7" fill="rgb(95,134,158)"/>
<rect x="433.0" y="21" width="1.02" height="66.7" fill="rgb(116,138,137)"/>
<rect x="434.0" y="21" width="1.02" height="66.7" fill="rgb(162,158,94)"/>
<rect x="435.0" y="21" width="1.02" height="66.7" fill="rgb(165,162,81)"/>
<rect x="436.0" y="21" width="1.02" height="66.7" fill="rgb(126,155,84)"/>
<rect x="437.0" y="21" width="1.02" height="66.7" fill="rgb(113,152,84)"/>
<rect x="438.0" y="21" width="1.02" height="66.7" fill="rgb(144,158,82)"/>
<rect x="439.0" y="21" width="1.02" height="66.7" fill="rgb(168,163,82)"/>
<rect x="440.0" y="21" width="1.02" height="66.7" fill="rgb(153,155,101)"/>
<rect x="441.0" y="21" width="1.02" height="66.7" fill="rgb(107,135,145)"/>
<rect x="442.0" y="21" width="1.02" height="66.7" fill="rgb(91,138,162)"/>
<rect x="443.0" y="21" width="1.02" height="66.7" fill="rgb(88,159,170)"/>
<rect x="444.0" y="21" width="1.02" height="66.7" fill="rgb(103,153,159)"/>
<rect x="445.0" y="21" width="1.02" height="66.7" fill="rgb(154,112,114)"/>
<rect x="446.0" y="21" width="1.02" height="66.7" fill="rgb(178,91,93)"/>
<rect x="447.0" y="21" width="1.02" height="66.7" fill="rgb(150,102,113)"/>
<rect x="448.0" y="21" width="1.02" height="66.7" fill="rgb(120,117,133)"/>
<rect x="449.0" y="21" width="1.02" height="66.7" fill="rgb(148,115,123)"/>
<rect x="450.0" y="21" width="1.02" height="66.7" fill="rgb(185,122,148)"/>
<rect x="451.0" y="21" width="1.02" height="66.7" fill="rgb(196,129,160)"/>
<rect x="452.0" y="21" width="1.02" height="66.7" fill="rgb(191,141,136)"/>
<rect x="453.0" y="21" width="1.02" height="66.7" fill="rgb(180,160,92)"/>
<rect x="454.0" y="21" width="1.02" height="66.7" fill="rgb(164,160,91)"/>
<rect x="455.0" y="21" width="1.02" height="66.7" fill="rgb(133,135,121)"/>
<rect x="456.0" y="21" width="1.02" height="66.7" fill="rgb(153,103,110)"/>
<rect x="457.0" y="21" width="1.02" height="66.7" fill="rgb(173,90,95)"/>
<rect x="458.0" y="21" width="1.02" height="66.7" fill="rgb(140,105,120)"/>
<rect x="459.0" y="21" width="1.02" height="66.7" fill="rgb(115,123,140)"/>
<rect x="460.0" y="21" width="1.02" height="66.7" fill="rgb(161,129,106)"/>
<rect x="461.0" y="21" width="1.02" height="66.7" fill="rgb(198,137,75)"/>
<rect x="462.0" y="21" width="1.02" height="66.7" fill="rgb(187,157,75)"/>
<rect x="463.0" y="21" width="1.02" height="66.7" fill="rgb(182,162,76)"/>
<rect x="464.0" y="21" width="1.02" height="66.7" fill="rgb(196,149,72)"/>
<rect x="465.0" y="21" width="1.02" height="66.7" fill="rgb(211,135,67)"/>
<rect x="466.0" y="21" width="1.02" height="66.7" fill="rgb(200,131,79)"/>
<rect x="467.0" y="21" width="1.02" height="66.7" fill="rgb(157,131,117)"/>
<rect x="468.0" y="21" width="1.02" height="66.7" fill="rgb(153,131,120)"/>
<rect x="469.0" y="21" width="1.02" height="66.7" fill="rgb(189,129,89)"/>
<rect x="470.0" y="21" width="1.02" height="66.7" fill="rgb(203,114,74)"/>
<rect x="471.0" y="21" width="1.02" height="66.7" fill="rgb(195,89,78)"/>
<rect x="472.0" y="21" width="1.02" height="66.7" fill="rgb(183,90,89)"/>
<rect x="473.0" y="21" width="1.02" height="66.7" fill="rgb(156,117,116)"/>
<rect x="474.0" y="21" width="1.02" height="66.7" fill="rgb(149,130,132)"/>
<rect x="475.0" y="21" width="1.02" height="66.7" fill="rgb(171,129,149)"/>
<rect x="476.0" y="21" width="1.02" height="66.7" fill="rgb(188,126,164)"/>
<rect x="477.0" y="21" width="1.02" height="66.7" fill="rgb(168,125,167)"/>
<rect x="478.0" y="21" width="1.02" height="66.7" fill="rgb(127,139,170)"/>
<rect x="479.0" y="21" width="1.02" height="66.7" fill="rgb(91,161,174)"/>
<rect x="480.0" y="21" width="1.02" height="66.7" fill="rgb(104,150,156)"/>
<rect x="481.0" y="21" width="1.02" height="66.7" fill="rgb(170,98,98)"/>
<rect x="482.0" y="21" width="1.02" height="66.7" fill="rgb(175,92,80)"/>
<rect x="483.0" y="21" width="1.02" height="66.7" fill="rgb(130,126,93)"/>
<rect x="484.0" y="21" width="1.02" height="66.7" fill="rgb(134,128,134)"/>
<rect x="485.0" y="21" width="1.02" height="66.7" fill="rgb(134,128,138)"/>
<rect x="486.0" y="21" width="1.02" height="66.7" fill="rgb(104,145,96)"/>
<rect x="487.0" y="21" width="1.02" height="66.7" fill="rgb(92,146,97)"/>
<rect x="488.0" y="21" width="1.02" height="66.7" fill="rgb(110,132,128)"/>
<rect x="489.0" y="21" width="1.02" height="66.7" fill="rgb(181,130,90)"/>
<rect x="490.0" y="21" width="1.02" height="66.7" fill="rgb(199,131,79)"/>
<rect x="491.0" y="21" width="1.02" height="66.7" fill="rgb(157,131,116)"/>
<rect x="492.0" y="21" width="1.02" height="66.7" fill="rgb(147,137,121)"/>
<rect x="493.0" y="21" width="1.02" height="66.7" fill="rgb(164,154,95)"/>
<rect x="494.0" y="21" width="1.02" height="66.7" fill="rgb(166,156,92)"/>
<rect x="495.0" y="21" width="1.02" height="66.7" fill="rgb(155,137,113)"/>
<rect x="496.0" y="21" width="1.02" height="66.7" fill="rgb(180,131,96)"/>
<rect x="497.0" y="21" width="1.02" height="66.7" fill="rgb(205,136,70)"/>
<rect x="498.0" y="21" width="1.02" height="66.7" fill="rgb(195,152,69)"/>
<rect x="499.0" y="21" width="1.02" height="66.7" fill="rgb(181,165,73)"/>
<rect x="500.0" y="21" width="1.02" height="66.7" fill="rgb(185,161,72)"/>
<rect x="501.0" y="21" width="1.02" height="66.7" fill="rgb(194,141,75)"/>
<rect x="502.0" y="21" width="1.02" height="66.7" fill="rgb(150,129,112)"/>
<rect x="503.0" y="21" width="1.02" height="66.7" fill="rgb(97,127,151)"/>
<rect x="504.0" y="21" width="1.02" height="66.7" fill="rgb(104,127,146)"/>
<rect x="505.0" y="21" width="1.02" height="66.7" fill="rgb(167,129,100)"/>
<rect x="506.0" y="21" width="1.02" height="66.7" fill="rgb(185,131,90)"/>
<rect x="507.0" y="21" width="1.02" height="66.7" fill="rgb(153,131,119)"/>
<rect x="508.0" y="21" width="1.02" height="66.7" fill="rgb(150,130,135)"/>
<rect x="509.0" y="21" width="1.02" height="66.7" fill="rgb(181,128,156)"/>
<rect x="510.0" y="21" width="1.02" height="66.7" fill="rgb(199,126,168)"/>
<rect x="511.0" y="21" width="1.02" height="66.7" fill="rgb(200,117,154)"/>
<rect x="512.0" y="21" width="1.02" height="66.7" fill="rgb(199,96,100)"/>
<rect x="513.0" y="21" width="1.02" height="66.7" fill="rgb(205,107,71)"/>
<rect x="514.0" y="21" width="1.02" height="66.7" fill="rgb(202,139,66)"/>
<rect x="515.0" y="21" width="1.02" height="66.7" fill="rgb(179,152,75)"/>
<rect x="516.0" y="21" width="1.02" height="66.7" fill="rgb(159,128,88)"/>
<rect x="517.0" y="21" width="1.02" height="66.7" fill="rgb(162,134,86)"/>
<rect x="518.0" y="21" width="1.02" height="66.7" fill="rgb(183,153,73)"/>
<rect x="519.0" y="21" width="1.02" height="66.7" fill="rgb(209,133,64)"/>
<rect x="520.0" y="21" width="1.02" height="66.7" fill="rgb(207,103,67)"/>
<rect x="521.0" y="21" width="1.02" height="66.7" fill="rgb(196,83,75)"/>
<rect x="522.0" y="21" width="1.02" height="66.7" fill="rgb(180,91,90)"/>
<rect x="523.0" y="21" width="1.02" height="66.7" fill="rgb(147,122,117)"/>
<rect x="524.0" y="21" width="1.02" height="66.7" fill="rgb(122,138,111)"/>
<rect x="525.0" y="21" width="1.02" height="66.7" fill="rgb(100,147,89)"/>
<rect x="526.0" y="21" width="1.02" height="66.7" fill="rgb(114,142,102)"/>
<rect x="527.0" y="21" width="1.02" height="66.7" fill="rgb(156,131,137)"/>
<rect x="528.0" y="21" width="1.02" height="66.7" fill="rgb(194,126,165)"/>
<rect x="529.0" y="21" width="1.02" height="66.7" fill="rgb(180,131,152)"/>
<rect x="530.0" y="21" width="1.02" height="66.7" fill="rgb(120,144,103)"/>
<rect x="531.0" y="21" width="1.02" height="66.7" fill="rgb(137,140,117)"/>
<rect x="532.0" y="21" width="1.02" height="66.7" fill="rgb(182,126,150)"/>
<rect x="533.0" y="21" width="1.02" height="66.7" fill="rgb(172,114,128)"/>
<rect x="534.0" y="21" width="1.02" height="66.7" fill="rgb(162,110,115)"/>
<rect x="535.0" y="21" width="1.02" height="66.7" fill="rgb(187,111,134)"/>
<rect x="536.0" y="21" width="1.02" height="66.7" fill="rgb(192,92,108)"/>
<rect x="537.0" y="21" width="1.02" height="66.7" fill="rgb(174,96,124)"/>
<rect x="538.0" y="21" width="1.02" height="66.7" fill="rgb(159,112,156)"/>
<rect x="539.0" y="21" width="1.02" height="66.7" fill="rgb(172,119,138)"/>
<rect x="540.0" y="21" width="1.02" height="66.7" fill="rgb(191,133,92)"/>
<rect x="541.0" y="21" width="1.02" height="66.7" fill="rgb(136,154,128)"/>
<rect x="542.0" y="21" width="1.02" height="66.7" fill="rgb(104,161,170)"/>
<rect x="543.0" y="21" width="1.02" height="66.7" fill="rgb(142,141,174)"/>
<rect x="544.0" y="21" width="1.02" height="66.7" fill="rgb(125,128,167)"/>
<rect x="545.0" y="21" width="1.02" height="66.7" fill="rgb(89,125,164)"/>
<rect x="546.0" y="21" width="1.02" height="66.7" fill="rgb(99,122,165)"/>
<rect x="547.0" y="21" width="1.02" height="66.7" fill="rgb(133,120,159)"/>
<rect x="548.0" y="21" width="1.02" height="66.7" fill="rgb(120,133,122)"/>
<rect x="549.0" y="21" width="1.02" height="66.7" fill="rgb(96,146,89)"/>
<rect x="550.0" y="21" width="1.02" height="66.7" fill="rgb(109,139,108)"/>
<rect x="551.0" y="21" width="1.02" height="66.7" fill="rgb(142,119,144)"/>
<rect x="552.0" y="21" width="1.02" height="66.7" fill="rgb(150,108,121)"/>
<rect x="553.0" y="21" width="1.02" height="66.7" fill="rgb(158,108,112)"/>
<rect x="554.0" y="21" width="1.02" height="66.7" fill="rgb(187,123,143)"/>
<rect x="555.0" y="21" width="1.02" height="66.7" fill="rgb(192,144,126)"/>
<rect x="556.0" y="21" width="1.02" height="66.7" fill="rgb(182,165,81)"/>
<rect x="557.0" y="21" width="1.02" height="66.7" fill="rgb(186,165,66)"/>
<rect x="558.0" y="21" width="1.02" height="66.7" fill="rgb(208,144,59)"/>
<rect x="559.0" y="21" width="1.02" height="66.7" fill="rgb(219,132,70)"/>
<rect x="560.0" y="21" width="1.02" height="66.7" fill="rgb(201,130,113)"/>
<rect x="561.0" y="21" width="1.02" height="66.7" fill="rgb(146,139,115)"/>
<rect x="562.0" y="21" width="1.02" height="66.7" fill="rgb(103,146,94)"/>
<rect x="563.0" y="21" width="1.02" height="66.7" fill="rgb(119,133,122)"/>
<rect x="564.0" y="21" width="1.02" height="66.7" fill="rgb(147,121,155)"/>
<rect x="565.0" y="21" width="1.02" height="66.7" fill="rgb(162,134,134)"/>
<rect x="566.0" y="21" width="1.02" height="66.7" fill="rgb(173,161,86)"/>
<rect x="567.0" y="21" width="1.02" height="66.7" fill="rgb(165,157,89)"/>
<rect x="568.0" y="21" width="1.02" height="66.7" fill="rgb(147,134,127)"/>
<rect x="569.0" y="21" width="1.02" height="66.7" fill="rgb(149,119,159)"/>
<rect x="570.0" y="21" width="1.02" height="66.7" fill="rgb(163,117,170)"/>
<rect x="571.0" y="21" width="1.02" height="66.7" fill="rgb(191,122,173)"/>
<rect x="572.0" y="21" width="1.02" height="66.7" fill="rgb(183,120,172)"/>
<rect x="573.0" y="21" width="1.02" height="66.7" fill="rgb(161,116,171)"/>
<rect x="574.0" y="21" width="1.02" height="66.7" fill="rgb(167,117,171)"/>
<rect x="575.0" y="21" width="1.02" height="66.7" fill="rgb(194,124,171)"/>
<rect x="576.0" y="21" width="1.02" height="66.7" fill="rgb(172,132,146)"/>
<rect x="577.0" y="21" width="1.02" height="66.7" fill="rgb(119,150,89)"/>
<rect x="578.0" y="21" width="1.02" height="66.7" fill="rgb(142,161,74)"/>
<rect x="579.0" y="21" width="1.02" height="66.7" fill="rgb(154,150,98)"/>
<rect x="580.0" y="21" width="1.02" height="66.7" fill="rgb(143,134,122)"/>
<rect x="581.0" y="21" width="1.02" height="66.7" fill="rgb(140,126,123)"/>
<rect x="582.0" y="21" width="1.02" height="66.7" fill="rgb(144,112,106)"/>
<rect x="583.0" y="21" width="1.02" height="66.7" fill="rgb(146,107,99)"/>
<rect x="584.0" y="21" width="1.02" height="66.7" fill="rgb(142,118,114)"/>
<rect x="585.0" y="21" width="1.02" height="66.7" fill="rgb(139,128,126)"/>
<rect x="586.0" y="21" width="1.02" height="66.7" fill="rgb(144,136,119)"/>
<rect x="587.0" y="21" width="1.02" height="66.7" fill="rgb(165,158,87)"/>
<rect x="588.0" y="21" width="1.02" height="66.7" fill="rgb(185,164,66)"/>
<rect x="589.0" y="21" width="1.02" height="66.7" fill="rgb(207,148,57)"/>
<rect x="590.0" y="21" width="1.02" height="66.7" fill="rgb(204,150,57)"/>
<rect x="591.0" y="21" width="1.02" height="66.7" fill="rgb(189,149,63)"/>
<rect x="592.0" y="21" width="1.02" height="66.7" fill="rgb(177,111,82)"/>
<rect x="593.0" y="21" width="1.02" height="66.7" fill="rgb(122,132,135)"/>
<rect x="594.0" y="21" width="1.02" height="66.7" fill="rgb(76,158,173)"/>
<rect x="595.0" y="21" width="1.02" height="66.7" fill="rgb(76,142,173)"/>
<rect x="596.0" y="21" width="1.02" height="66.7" fill="rgb(118,127,170)"/>
<rect x="597.0" y="21" width="1.02" height="66.7" fill="rgb(187,124,174)"/>
<rect x="598.0" y="21" width="1.02" height="66.7" fill="rgb(203,132,159)"/>
<rect x="599.0" y="21" width="1.02" height="66.7" fill="rgb(190,156,103)"/>
<rect x="600.0" y="21" width="1.02" height="66.7" fill="rgb(177,160,88)"/>
<rect x="601.0" y="21" width="1.02" height="66.7" fill="rgb(154,130,142)"/>
<rect x="602.0" y="21" width="1.02" height="66.7" fill="rgb(118,119,167)"/>
<rect x="603.0" y="21" width="1.02" height="66.7" fill="rgb(80,129,169)"/>
<rect x="604.0" y="21" width="1.02" height="66.7" fill="rgb(67,153,177)"/>
<rect x="605.0" y="21" width="1.02" height="66.7" fill="rgb(66,168,169)"/>
<rect x="606.0" y="21" width="1.02" height="66.7" fill="rgb(72,162,119)"/>
<rect x="607.0" y="21" width="1.02" height="66.7" fill="rgb(78,155,78)"/>
<rect x="608.0" y="21" width="1.02" height="66.7" fill="rgb(94,156,69)"/>
<rect x="609.0" y="21" width="1.02" height="66.7" fill="rgb(145,166,65)"/>
<rect x="610.0" y="21" width="1.02" height="66.7" fill="rgb(176,167,63)"/>
<rect x="611.0" y="21" width="1.02" height="66.7" fill="rgb(187,136,64)"/>
<rect x="612.0" y="21" width="1.02" height="66.7" fill="rgb(196,83,66)"/>
<rect x="613.0" y="21" width="1.02" height="66.7" fill="rgb(201,78,88)"/>
<rect x="614.0" y="21" width="1.02" height="66.7" fill="rgb(198,113,148)"/>
<rect x="615.0" y="21" width="1.02" height="66.7" fill="rgb(167,127,149)"/>
<rect x="616.0" y="21" width="1.02" height="66.7" fill="rgb(145,127,139)"/>
<rect x="617.0" y="21" width="1.02" height="66.7" fill="rgb(147,118,157)"/>
<rect x="618.0" y="21" width="0.52" height="66.7" fill="rgb(152,112,173)"/>
</g>
</g>
<rect x="615.8" y="21" width="2.7" height="66.7" fill="rgb(40,140,150)"/>
<rect x="45.5" y="18.5" width="577" height="71" fill="none" stroke="#555" stroke-width="1"/>
<line x1="40" y1="21.4" x2="45" y2="21.4" stroke="#555" stroke-width="1"/>
<text x="37.50" y="24.70" font-size="9.8" text-anchor="end" fill="#4a4a4a"  stroke="#4a4a4a" stroke-width="0.08">10</text>
<line x1="40" y1="54" x2="45" y2="54" stroke="#555" stroke-width="1"/>
<text x="37.50" y="57.30" font-size="9.8" text-anchor="end" fill="#4a4a4a"  stroke="#4a4a4a" stroke-width="0.08">5</text>
<line x1="40" y1="86.6" x2="45" y2="86.6" stroke="#555" stroke-width="1"/>
<text x="37.50" y="89.90" font-size="9.8" text-anchor="end" fill="#4a4a4a"  stroke="#4a4a4a" stroke-width="0.08">0</text>
<line x1="84.00" y1="89.5" x2="84.00" y2="95" stroke="#555" stroke-width="1"/>
<text x="84.00" y="106.00" font-size="9.8" text-anchor="middle" fill="#4a4a4a"  stroke="#4a4a4a" stroke-width="0.08">0.3</text>
<line x1="157.33" y1="89.5" x2="157.33" y2="95" stroke="#555" stroke-width="1"/>
<text x="157.33" y="106.00" font-size="9.8" text-anchor="middle" fill="#4a4a4a"  stroke="#4a4a4a" stroke-width="0.08">0.4</text>
<line x1="230.66" y1="89.5" x2="230.66" y2="95" stroke="#555" stroke-width="1"/>
<text x="230.66" y="106.00" font-size="9.8" text-anchor="middle" fill="#4a4a4a"  stroke="#4a4a4a" stroke-width="0.08">0.5</text>
<line x1="303.99" y1="89.5" x2="303.99" y2="95" stroke="#555" stroke-width="1"/>
<text x="303.99" y="106.00" font-size="9.8" text-anchor="middle" fill="#4a4a4a"  stroke="#4a4a4a" stroke-width="0.08">0.6</text>
<line x1="377.32" y1="89.5" x2="377.32" y2="95" stroke="#555" stroke-width="1"/>
<text x="377.32" y="106.00" font-size="9.8" text-anchor="middle" fill="#4a4a4a"  stroke="#4a4a4a" stroke-width="0.08">0.7</text>
<line x1="450.65" y1="89.5" x2="450.65" y2="95" stroke="#555" stroke-width="1"/>
<text x="450.65" y="106.00" font-size="9.8" text-anchor="middle" fill="#4a4a4a"  stroke="#4a4a4a" stroke-width="0.08">0.8</text>
<line x1="523.98" y1="89.5" x2="523.98" y2="95" stroke="#555" stroke-width="1"/>
<text x="523.98" y="106.00" font-size="9.8" text-anchor="middle" fill="#4a4a4a"  stroke="#4a4a4a" stroke-width="0.08">0.9</text>
<line x1="597.31" y1="89.5" x2="597.31" y2="95" stroke="#555" stroke-width="1"/>
<text x="597.31" y="106.00" font-size="9.8" text-anchor="middle" fill="#4a4a4a"  stroke="#4a4a4a" stroke-width="0.08">1.0</text>
<text transform="translate(18.9,54.75) rotate(-90)" x="0" y="0" font-size="11" text-anchor="middle" fill="#4a4a4a" stroke="#4a4a4a" stroke-width="0.08">Time (s)</text>
<text x="544.5" y="75.3" font-size="10.5" fill="#ffffff" fill-opacity="0.75" stroke="none" textLength="60.5" lengthAdjust="spacingAndGlyphs">1,280 levels</text>
<text x="310" y="122.7" font-size="10.2" fill="#4a4a4a" stroke="#4a4a4a" stroke-width="0.08"><tspan font-style="italic">R</tspan><tspan font-size="7" dy="3">xy</tspan><tspan dy="-3"> (</tspan><tspan font-style="italic">h e</tspan><tspan font-size="7" dy="-4.5">−2</tspan><tspan dy="4.5">)</tspan></text>
<rect x="155.5" y="19.7" width="38.5" height="67.9" fill="none" stroke="#111" stroke-width="1.4" stroke-dasharray="3.5 2.5"/>
<line x1="155.5" y1="89.5" x2="44" y2="148" stroke="#333" stroke-width="1.1" stroke-dasharray="4 2.5"/>
<line x1="194" y1="89.5" x2="622.5" y2="148" stroke="#333" stroke-width="1.1" stroke-dasharray="4 2.5"/>
<text x="2.00" y="17.00" font-size="14" text-anchor="start" fill="#000" font-weight="bold" stroke="#000" stroke-width="0.3">a</text>
<g fill="none" stroke-width="3.5" stroke-opacity="0.2" stroke-linecap="butt"><polyline points="50.50,151.00 50.38,156.05 50.39,161.09 49.90,166.14 49.89,171.18 50.33,176.23 50.56,181.28 50.74,186.32 50.96,191.37 50.51,196.42 50.08,201.46 49.82,206.51 49.94,211.55 50.16,216.60" stroke="#1f77b4"/><polyline points="55.97,151.00 56.03,156.05 56.18,161.09 56.03,166.14 56.00,171.18 55.54,176.23 55.85,181.28 55.61,186.32 56.01,191.37 56.06,196.42 55.81,201.46 55.49,206.51 55.37,211.55 55.61,216.60" stroke="#ff7f0e"/><polyline points="60.69,151.00 60.43,156.05 60.63,161.09 60.82,166.14 60.78,171.18 60.62,176.23 60.83,181.28 60.47,186.32 60.47,191.37 60.60,196.42 61.11,201.46 61.21,206.51 61.47,211.55 61.32,216.60" stroke="#2ca02c"/><polyline points="65.88,151.00 66.33,156.05 66.43,161.09 66.16,166.14 65.74,171.18 65.84,176.23 66.06,181.28 66.00,186.32 65.83,191.37 66.05,196.42 66.42,201.46 66.09,206.51 65.70,211.55 65.68,216.60" stroke="#d62728"/><polyline points="71.84,151.00 71.54,156.05 71.83,161.09 71.99,166.14 71.90,171.18 71.59,176.23 72.01,181.28 71.76,186.32 72.00,191.37 71.68,196.42 71.45,201.46 71.74,206.51 71.55,211.55 71.97,216.60" stroke="#9467bd"/><polyline points="76.93,151.00 76.78,156.05 76.84,161.09 77.08,166.14 77.49,171.18 77.11,176.23 77.05,181.28 76.85,186.32 77.35,191.37 77.01,196.42 76.69,201.46 76.47,206.51 76.60,211.55 77.11,216.60" stroke="#8c564b"/><polyline points="83.16,151.00 83.52,156.05 83.72,161.09 83.35,166.14 82.97,171.18 83.34,176.23 83.43,181.28 82.90,186.32 83.06,191.37 82.93,196.42 82.83,201.46 82.73,206.51 82.52,211.55 82.24,216.60" stroke="#e377c2"/><polyline points="87.82,151.00 88.24,156.05 87.84,161.09 88.26,166.14 87.92,171.18 87.81,176.23 88.12,181.28 88.34,186.32 88.17,191.37 87.72,196.42 87.77,201.46 87.72,206.51 88.14,211.55 87.82,216.60" stroke="#7f7f7f"/><polyline points="93.82,151.00 93.33,156.05 93.30,161.09 93.62,166.14 93.80,171.18 93.32,176.23 92.98,181.28 92.77,186.32 93.34,191.37 93.18,196.42 93.48,201.46 93.82,206.51 93.58,211.55 93.36,216.60" stroke="#bcbd22"/><polyline points="99.54,151.00 99.31,156.05 99.53,161.09 99.35,166.14 99.19,171.18 98.85,176.23 99.24,181.28 99.65,186.32 99.70,191.37 99.99,196.42 99.43,201.46 99.21,206.51 99.26,211.55 99.70,216.60" stroke="#17becf"/><polyline points="104.83,151.00 104.65,156.05 104.67,161.09 104.74,166.14 105.15,171.18 104.82,176.23 105.10,181.28 105.25,186.32 105.42,191.37 105.50,196.42 105.42,201.46 105.12,206.51 104.91,211.55 104.80,216.60" stroke="#1f77b4"/><polyline points="109.92,151.00 109.77,156.05 110.14,161.09 109.97,166.14 109.69,171.18 109.48,176.23 109.76,181.28 109.77,186.32 110.32,191.37 110.63,196.42 110.93,201.46 110.54,206.51 110.11,211.55 109.82,216.60" stroke="#ff7f0e"/><polyline points="115.72,151.00 115.62,156.05 115.38,161.09 115.36,166.14 115.51,171.18 115.67,176.23 115.84,181.28 116.04,186.32 116.03,191.37 115.57,196.42 115.85,201.46 115.58,206.51 115.63,211.55 115.50,216.60" stroke="#2ca02c"/><polyline points="120.99,151.00 120.85,156.05 120.75,161.09 120.61,166.14 121.12,171.18 121.22,176.23 121.08,181.28 121.04,186.32 121.51,191.37 121.44,196.42 121.15,201.46 121.44,206.51 121.51,211.55 121.84,216.60" stroke="#d62728"/><polyline points="126.22,151.00 126.49,156.05 126.70,161.09 126.91,166.14 126.32,171.18 126.13,176.23 125.84,181.28 125.70,186.32 126.26,191.37 126.32,196.42 126.66,201.46 126.43,206.51 126.68,211.55 126.50,216.60" stroke="#9467bd"/><polyline points="132.11,151.00 132.42,156.05 131.93,161.09 131.99,166.14 132.06,171.18 131.77,176.23 131.69,181.28 131.45,186.32 131.33,191.37 131.29,196.42 131.55,201.46 131.78,206.51 131.56,211.55 131.24,216.60" stroke="#8c564b"/><polyline points="137.61,151.00 137.30,156.05 137.19,161.09 137.02,166.14 137.40,171.18 137.46,176.23 137.09,181.28 136.86,186.32 136.95,191.37 137.15,196.42 137.36,201.46 137.04,206.51 136.88,211.55 137.22,216.60" stroke="#e377c2"/><polyline points="142.87,151.00 142.76,156.05 143.23,161.09 143.02,166.14 143.08,171.18 142.95,176.23 142.91,181.28 143.26,186.32 143.61,191.37 143.33,196.42 142.99,201.46 143.20,206.51 142.91,211.55 142.53,216.60" stroke="#7f7f7f"/><polyline points="148.91,151.00 149.20,156.05 149.06,161.09 149.35,166.14 149.21,171.18 148.86,176.23 148.49,181.28 148.68,186.32 148.88,191.37 149.26,196.42 148.83,201.46 148.98,206.51 148.87,211.55 148.90,216.60" stroke="#bcbd22"/><polyline points="153.73,151.00 153.80,156.05 154.19,161.09 153.78,166.14 153.81,171.18 154.10,176.23 154.44,181.28 154.03,186.32 153.68,191.37 154.12,196.42 154.46,201.46 154.28,206.51 153.80,211.55 154.19,216.60" stroke="#17becf"/><polyline points="159.99,151.00 159.99,156.05 160.16,161.09 159.73,166.14 159.94,171.18 159.62,176.23 159.55,181.28 159.87,186.32 160.08,191.37 159.69,196.42 159.44,201.46 159.42,206.51 159.51,211.55 159.45,216.60" stroke="#1f77b4"/><polyline points="164.78,151.00 165.04,156.05 165.36,161.09 164.86,166.14 164.96,171.18 165.18,176.23 164.74,181.28 165.10,186.32 164.75,191.37 164.91,196.42 164.97,201.46 165.09,206.51 164.90,211.55 164.86,216.60" stroke="#ff7f0e"/><polyline points="170.86,151.00 171.01,156.05 170.94,161.09 170.88,166.14 170.49,171.18 170.72,176.23 170.77,181.28 170.60,186.32 170.92,191.37 171.15,196.42 171.05,201.46 170.74,206.51 170.77,211.55 170.49,216.60" stroke="#2ca02c"/><polyline points="176.07,151.00 175.74,156.05 175.81,161.09 175.91,166.14 175.59,171.18 175.86,176.23 175.59,181.28 175.95,186.32 176.23,191.37 176.21,196.42 175.81,201.46 175.91,206.51 175.87,211.55 176.33,216.60" stroke="#d62728"/><polyline points="182.00,151.00 182.33,156.05 182.34,161.09 182.41,166.14 181.94,171.18 182.27,176.23 182.10,181.28 182.36,186.32 182.51,191.37 181.99,196.42 182.15,201.46 182.37,206.51 181.81,211.55 181.65,216.60" stroke="#9467bd"/><polyline points="187.49,151.00 187.91,156.05 187.68,161.09 187.97,166.14 187.62,171.18 187.67,176.23 188.05,181.28 187.72,186.32 187.54,191.37 187.62,196.42 187.51,201.46 187.20,206.51 187.11,211.55 187.02,216.60" stroke="#8c564b"/><polyline points="193.66,151.00 193.94,156.05 193.53,161.09 193.76,166.14 193.36,171.18 193.43,176.23 193.57,181.28 193.43,186.32 193.77,191.37 193.73,196.42 193.73,201.46 193.99,206.51 193.51,211.55 193.92,216.60" stroke="#e377c2"/><polyline points="198.76,151.00 199.04,156.05 198.78,161.09 199.22,166.14 199.17,171.18 198.96,176.23 199.15,181.28 199.01,186.32 198.69,191.37 198.94,196.42 198.54,201.46 198.90,206.51 198.68,211.55 198.85,216.60" stroke="#7f7f7f"/><polyline points="204.80,151.00 204.92,156.05 204.71,161.09 204.29,166.14 204.03,171.18 203.95,176.23 204.28,181.28 204.36,186.32 204.48,191.37 204.89,196.42 204.53,201.46 204.36,206.51 204.60,211.55 204.24,216.60" stroke="#bcbd22"/><polyline points="209.43,151.00 209.13,156.05 209.14,161.09 209.03,166.14 209.26,171.18 209.42,176.23 209.21,181.28 209.42,186.32 209.43,191.37 209.16,196.42 209.64,201.46 209.40,206.51 209.15,211.55 208.93,216.60" stroke="#17becf"/><polyline points="215.98,151.00 216.12,156.05 215.90,161.09 215.63,166.14 215.23,171.18 215.49,176.23 215.59,181.28 215.49,186.32 215.66,191.37 215.62,196.42 216.00,201.46 216.10,206.51 215.76,211.55 216.07,216.60" stroke="#1f77b4"/><polyline points="220.83,151.00 220.75,156.05 220.54,161.09 220.25,166.14 220.65,171.18 220.29,176.23 220.49,181.28 220.95,186.32 220.61,191.37 220.42,196.42 220.62,201.46 220.69,206.51 220.84,211.55 221.09,216.60" stroke="#ff7f0e"/><polyline points="226.37,151.00 226.25,156.05 225.96,161.09 226.46,166.14 226.72,171.18 226.84,176.23 226.34,181.28 226.69,186.32 226.85,191.37 226.72,196.42 226.87,201.46 226.73,206.51 226.44,211.55 226.14,216.60" stroke="#2ca02c"/><polyline points="231.82,151.00 231.80,156.05 232.13,161.09 232.32,166.14 232.58,171.18 232.64,176.23 232.32,181.28 232.33,186.32 232.24,191.37 232.47,196.42 232.41,201.46 232.15,206.51 232.29,211.55 232.66,216.60" stroke="#d62728"/><polyline points="238.15,151.00 237.65,156.05 237.50,161.09 237.38,166.14 237.72,171.18 238.13,176.23 238.24,181.28 237.97,186.32 238.25,191.37 237.98,196.42 237.72,201.46 238.09,206.51 238.12,211.55 238.20,216.60" stroke="#9467bd"/><polyline points="244.23,151.00 244.09,156.05 244.29,161.09 244.32,166.14 244.47,171.18 244.23,176.23 244.30,181.28 244.22,186.32 243.94,191.37 243.66,196.42 243.82,201.46 243.47,206.51 243.92,211.55 243.59,216.60" stroke="#8c564b"/><polyline points="248.64,151.00 249.10,156.05 248.93,161.09 248.64,166.14 248.34,171.18 248.14,176.23 248.55,181.28 248.79,186.32 249.01,191.37 249.19,196.42 248.76,201.46 248.90,206.51 248.80,211.55 249.12,216.60" stroke="#e377c2"/><polyline points="255.58,151.00 255.12,156.05 255.47,161.09 255.75,166.14 255.98,171.18 255.43,176.23 255.13,181.28 254.84,186.32 254.57,191.37 255.07,196.42 255.39,201.46 255.46,206.51 255.67,211.55 255.66,216.60" stroke="#7f7f7f"/><polyline points="260.15,151.00 259.91,156.05 260.30,161.09 260.11,166.14 260.07,171.18 260.13,176.23 259.84,181.28 259.83,186.32 259.84,191.37 260.22,196.42 260.19,201.46 260.13,206.51 260.63,211.55 260.59,216.60" stroke="#bcbd22"/><polyline points="266.70,151.00 266.28,156.05 266.30,161.09 266.34,166.14 266.65,171.18 266.51,176.23 266.71,181.28 266.71,186.32 266.44,191.37 266.79,196.42 266.39,201.46 266.73,206.51 266.41,211.55 266.05,216.60" stroke="#17becf"/><polyline points="271.98,151.00 272.31,156.05 271.73,161.09 271.73,166.14 271.73,171.18 271.99,176.23 271.65,181.28 271.68,186.32 271.58,191.37 271.91,196.42 271.66,201.46 272.06,206.51 271.79,211.55 271.54,216.60" stroke="#1f77b4"/><polyline points="277.83,151.00 277.51,156.05 277.72,161.09 277.40,166.14 277.77,171.18 277.96,176.23 278.16,181.28 278.17,186.32 277.95,191.37 277.83,196.42 277.74,201.46 278.10,206.51 277.67,211.55 278.05,216.60" stroke="#ff7f0e"/><polyline points="282.73,151.00 282.61,156.05 283.06,161.09 283.03,166.14 282.92,171.18 283.26,176.23 282.95,181.28 282.93,186.32 282.97,191.37 283.19,196.42 283.34,201.46 283.35,206.51 283.11,211.55 282.93,216.60" stroke="#2ca02c"/><polyline points="289.06,151.00 289.11,156.05 289.21,161.09 288.80,166.14 288.74,171.18 288.98,176.23 288.99,181.28 288.61,186.32 288.63,191.37 288.99,196.42 288.71,201.46 288.47,206.51 288.39,211.55 288.68,216.60" stroke="#d62728"/><polyline points="294.73,151.00 294.53,156.05 294.47,161.09 294.49,166.14 294.67,171.18 294.49,176.23 294.50,181.28 294.40,186.32 294.98,191.37 295.19,196.42 294.80,201.46 295.26,206.51 294.85,211.55 294.81,216.60" stroke="#9467bd"/><polyline points="301.09,151.00 301.21,156.05 301.04,161.09 300.73,166.14 300.88,171.18 300.53,176.23 300.38,181.28 300.42,186.32 300.16,191.37 300.28,196.42 300.69,201.46 300.90,206.51 300.88,211.55 300.98,216.60" stroke="#8c564b"/><polyline points="305.83,151.00 306.01,156.05 305.96,161.09 306.22,166.14 306.53,171.18 306.35,176.23 306.35,181.28 306.49,186.32 306.32,191.37 306.03,196.42 306.25,201.46 306.53,206.51 306.64,211.55 306.66,216.60" stroke="#e377c2"/><polyline points="312.31,151.00 312.38,156.05 312.28,161.09 312.08,166.14 312.21,171.18 311.86,176.23 311.88,181.28 312.20,186.32 312.37,191.37 312.41,196.42 312.13,201.46 312.07,206.51 312.06,211.55 312.19,216.60" stroke="#7f7f7f"/><polyline points="317.67,151.00 317.99,156.05 317.59,161.09 317.70,166.14 317.88,171.18 317.68,176.23 317.63,181.28 317.99,186.32 317.47,191.37 317.52,196.42 317.24,201.46 317.56,206.51 317.92,211.55 317.82,216.60" stroke="#bcbd22"/><polyline points="323.07,151.00 323.09,156.05 323.25,161.09 323.18,166.14 323.25,171.18 323.45,176.23 323.34,181.28 323.16,186.32 323.49,191.37 323.10,196.42 323.23,201.46 323.07,206.51 323.27,211.55 322.88,216.60" stroke="#17becf"/><polyline points="329.33,151.00 328.99,156.05 328.94,161.09 329.01,166.14 328.73,171.18 328.88,176.23 328.98,181.28 329.29,186.32 329.21,191.37 329.09,196.42 328.96,201.46 329.31,206.51 329.72,211.55 329.66,216.60" stroke="#1f77b4"/><polyline points="334.83,151.00 334.67,156.05 334.40,161.09 334.14,166.14 334.50,171.18 334.79,176.23 334.84,181.28 334.73,186.32 334.74,191.37 334.46,196.42 334.89,201.46 334.67,206.51 334.76,211.55 334.97,216.60" stroke="#ff7f0e"/><polyline points="340.78,151.00 340.61,156.05 340.71,161.09 340.42,166.14 340.82,171.18 340.69,176.23 341.02,181.28 340.76,186.32 340.67,191.37 340.50,196.42 340.53,201.46 340.35,206.51 340.07,211.55 340.47,216.60" stroke="#2ca02c"/><polyline points="345.92,151.00 345.81,156.05 345.89,161.09 345.90,166.14 346.09,171.18 346.23,176.23 346.09,181.28 346.46,186.32 346.66,191.37 346.13,196.42 346.40,201.46 346.66,206.51 346.74,211.55 346.26,216.60" stroke="#d62728"/><polyline points="352.44,151.00 352.00,156.05 351.69,161.09 352.26,166.14 352.41,171.18 352.18,176.23 351.89,181.28 351.72,186.32 351.68,191.37 352.11,196.42 352.04,201.46 351.84,206.51 352.33,211.55 352.57,216.60" stroke="#9467bd"/><polyline points="357.89,151.00 357.89,156.05 358.03,161.09 358.03,166.14 358.22,171.18 358.27,176.23 358.34,181.28 357.85,186.32 357.93,191.37 357.85,196.42 357.96,201.46 357.79,206.51 358.05,211.55 357.95,216.60" stroke="#8c564b"/><polyline points="363.19,151.00 362.96,156.05 363.09,161.09 362.81,166.14 362.97,171.18 362.80,176.23 362.98,181.28 363.11,186.32 363.23,191.37 363.59,196.42 363.13,201.46 363.50,206.51 363.45,211.55 363.49,216.60" stroke="#e377c2"/><polyline points="369.80,151.00 369.61,156.05 369.51,161.09 369.90,166.14 369.43,171.18 369.57,176.23 369.67,181.28 369.23,186.32 369.40,191.37 369.59,196.42 369.93,201.46 369.66,206.51 370.02,211.55 369.88,216.60" stroke="#7f7f7f"/><polyline points="375.49,151.00 375.00,156.05 375.23,161.09 375.31,166.14 375.13,171.18 375.44,176.23 375.24,181.28 375.19,186.32 375.20,191.37 375.42,196.42 375.10,201.46 375.06,206.51 375.02,211.55 375.11,216.60" stroke="#bcbd22"/><polyline points="381.05,151.00 381.37,156.05 381.25,161.09 381.24,166.14 381.04,171.18 381.10,176.23 381.54,181.28 381.57,186.32 381.71,191.37 381.42,196.42 381.21,201.46 381.04,206.51 381.17,211.55 381.30,216.60" stroke="#17becf"/><polyline points="386.60,151.00 386.90,156.05 387.25,161.09 387.21,166.14 386.76,171.18 386.66,176.23 386.34,181.28 386.27,186.32 386.84,191.37 386.98,196.42 387.11,201.46 387.32,206.51 387.56,211.55 387.48,216.60" stroke="#1f77b4"/><polyline points="392.76,151.00 392.89,156.05 392.90,161.09 392.98,166.14 392.64,171.18 392.78,176.23 392.71,181.28 392.91,186.32 392.50,191.37 392.28,196.42 392.00,201.46 392.43,206.51 392.84,211.55 392.92,216.60" stroke="#ff7f0e"/><polyline points="398.54,151.00 398.70,156.05 398.62,161.09 398.31,166.14 398.13,171.18 398.10,176.23 398.00,181.28 398.02,186.32 398.21,191.37 398.59,196.42 398.12,201.46 398.22,206.51 397.85,211.55 397.65,216.60" stroke="#2ca02c"/><polyline points="404.50,151.00 404.83,156.05 404.67,161.09 404.19,166.14 404.17,171.18 404.33,176.23 404.73,181.28 405.04,186.32 404.84,191.37 404.64,196.42 404.25,201.46 404.42,206.51 404.19,211.55 403.97,216.60" stroke="#d62728"/><polyline points="409.21,151.00 409.48,156.05 409.21,161.09 409.72,166.14 409.35,171.18 409.74,176.23 409.39,181.28 409.06,186.32 409.41,191.37 409.26,196.42 409.56,201.46 409.32,206.51 409.03,211.55 409.44,216.60" stroke="#9467bd"/><polyline points="416.31,151.00 416.41,156.05 415.94,161.09 416.07,166.14 416.23,171.18 416.13,176.23 416.46,181.28 416.11,186.32 416.47,191.37 416.52,196.42 415.95,201.46 415.56,206.51 415.82,211.55 416.15,216.60" stroke="#8c564b"/><polyline points="421.18,151.00 421.42,156.05 421.11,161.09 421.48,166.14 421.43,171.18 421.03,176.23 421.01,181.28 421.17,186.32 421.17,191.37 421.37,196.42 421.06,201.46 421.39,206.51 421.26,211.55 421.41,216.60" stroke="#e377c2"/><polyline points="427.55,151.00 427.47,156.05 427.76,161.09 428.09,166.14 428.19,171.18 428.07,176.23 427.76,181.28 427.35,186.32 427.83,191.37 427.94,196.42 428.12,201.46 427.83,206.51 427.85,211.55 428.18,216.60" stroke="#7f7f7f"/><polyline points="433.71,151.00 433.53,156.05 433.50,161.09 433.86,166.14 433.69,171.18 433.82,176.23 433.85,181.28 434.12,186.32 434.23,191.37 433.87,196.42 433.38,201.46 433.25,206.51 433.30,211.55 433.47,216.60" stroke="#bcbd22"/><polyline points="439.79,151.00 439.31,156.05 439.64,161.09 439.85,166.14 440.04,171.18 439.93,176.23 439.60,181.28 439.86,186.32 440.00,191.37 440.00,196.42 440.18,201.46 439.84,206.51 439.38,211.55 439.45,216.60" stroke="#17becf"/><polyline points="445.06,151.00 445.35,156.05 445.70,161.09 445.36,166.14 445.44,171.18 445.55,176.23 445.45,181.28 445.16,186.32 445.00,191.37 445.31,196.42 445.55,201.46 445.45,206.51 445.06,211.55 445.40,216.60" stroke="#1f77b4"/><polyline points="450.94,151.00 451.07,156.05 451.43,161.09 451.67,166.14 451.54,171.18 451.41,176.23 451.41,181.28 451.07,186.32 450.84,191.37 450.67,196.42 450.98,201.46 450.92,206.51 451.05,211.55 451.00,216.60" stroke="#ff7f0e"/><polyline points="456.53,151.00 456.24,156.05 456.83,161.09 456.73,166.14 456.43,171.18 456.66,176.23 456.95,181.28 456.63,186.32 456.77,191.37 456.66,196.42 456.73,201.46 456.35,206.51 456.10,211.55 456.73,216.60" stroke="#2ca02c"/><polyline points="462.98,151.00 463.04,156.05 462.82,161.09 463.11,166.14 463.01,171.18 463.38,176.23 463.48,181.28 463.60,186.32 463.81,191.37 463.36,196.42 462.86,201.46 462.64,206.51 462.48,211.55 462.28,216.60" stroke="#d62728"/><polyline points="468.27,151.00 468.57,156.05 468.43,161.09 468.74,166.14 468.93,171.18 468.35,176.23 468.39,181.28 468.26,186.32 467.93,191.37 468.40,196.42 468.14,201.46 468.22,206.51 468.34,211.55 468.69,216.60" stroke="#9467bd"/><polyline points="474.52,151.00 474.50,156.05 474.25,161.09 474.75,166.14 475.12,171.18 474.73,176.23 474.31,181.28 474.19,186.32 474.19,191.37 474.66,196.42 474.98,201.46 475.15,206.51 474.61,211.55 474.85,216.60" stroke="#8c564b"/><polyline points="480.66,151.00 481.03,156.05 480.51,161.09 480.22,166.14 480.53,171.18 480.90,176.23 480.94,181.28 480.65,186.32 480.69,191.37 480.86,196.42 480.43,201.46 480.32,206.51 480.18,211.55 479.97,216.60" stroke="#e377c2"/><polyline points="485.98,151.00 485.84,156.05 485.67,161.09 486.00,166.14 485.66,171.18 486.03,176.23 485.84,181.28 485.58,186.32 486.14,191.37 485.94,196.42 486.40,201.46 486.67,206.51 486.87,211.55 486.38,216.60" stroke="#7f7f7f"/><polyline points="491.80,151.00 492.27,156.05 492.52,161.09 492.51,166.14 492.36,171.18 492.16,176.23 492.43,181.28 492.32,186.32 492.38,191.37 492.01,196.42 491.81,201.46 491.54,206.51 491.90,211.55 492.02,216.60" stroke="#bcbd22"/><polyline points="498.13,151.00 497.84,156.05 497.76,161.09 497.49,166.14 497.39,171.18 497.81,176.23 497.67,181.28 497.43,186.32 497.54,191.37 497.47,196.42 497.91,201.46 497.56,206.51 498.04,211.55 497.60,216.60" stroke="#17becf"/><polyline points="504.48,151.00 504.20,156.05 504.22,161.09 504.08,166.14 503.95,171.18 503.82,176.23 503.86,181.28 504.42,186.32 504.81,191.37 505.03,196.42 504.48,201.46 504.26,206.51 504.62,211.55 504.16,216.60" stroke="#1f77b4"/><polyline points="509.96,151.00 510.42,156.05 509.92,161.09 510.25,166.14 510.08,171.18 509.79,176.23 509.48,181.28 509.95,186.32 510.03,191.37 509.80,196.42 509.84,201.46 510.28,206.51 510.00,211.55 510.10,216.60" stroke="#ff7f0e"/><polyline points="515.33,151.00 515.64,156.05 515.80,161.09 515.49,166.14 515.17,171.18 514.95,176.23 515.24,181.28 515.34,186.32 515.23,191.37 515.09,196.42 515.34,201.46 515.59,206.51 515.86,211.55 515.85,216.60" stroke="#2ca02c"/><polyline points="521.23,151.00 521.53,156.05 521.47,161.09 521.70,166.14 521.29,171.18 521.64,176.23 521.49,181.28 521.81,186.32 522.05,191.37 521.91,196.42 521.40,201.46 521.81,206.51 521.72,211.55 522.00,216.60" stroke="#d62728"/><polyline points="527.33,151.00 527.69,156.05 527.55,161.09 527.28,166.14 527.26,171.18 527.44,176.23 527.07,181.28 527.24,186.32 527.30,191.37 527.40,196.42 527.14,201.46 527.46,206.51 527.76,211.55 528.02,216.60" stroke="#9467bd"/><polyline points="533.77,151.00 533.61,156.05 533.82,161.09 533.38,166.14 533.76,171.18 534.09,176.23 533.93,181.28 533.84,186.32 533.79,191.37 533.76,196.42 533.31,201.46 533.79,206.51 533.49,211.55 533.26,216.60" stroke="#8c564b"/><polyline points="539.17,151.00 539.50,156.05 539.06,161.09 538.82,166.14 539.15,171.18 538.96,176.23 538.68,181.28 538.97,186.32 539.16,191.37 539.24,196.42 539.45,201.46 539.10,206.51 539.49,211.55 539.64,216.60" stroke="#e377c2"/><polyline points="544.98,151.00 545.07,156.05 545.14,161.09 545.00,166.14 544.77,171.18 544.85,176.23 544.68,181.28 544.94,186.32 545.35,191.37 545.04,196.42 545.18,201.46 545.42,206.51 545.10,211.55 545.43,216.60" stroke="#7f7f7f"/><polyline points="551.89,151.00 551.85,156.05 552.18,161.09 552.14,166.14 552.01,171.18 552.37,176.23 552.49,181.28 552.20,186.32 551.92,191.37 551.80,196.42 551.80,201.46 552.26,206.51 552.43,211.55 552.64,216.60" stroke="#bcbd22"/><polyline points="558.16,151.00 557.69,156.05 557.76,161.09 558.18,166.14 558.45,171.18 558.06,176.23 557.94,181.28 558.03,186.32 557.86,191.37 557.89,196.42 557.52,201.46 557.57,206.51 557.66,211.55 557.32,216.60" stroke="#17becf"/><polyline points="563.70,151.00 563.82,156.05 564.03,161.09 563.93,166.14 564.00,171.18 564.12,176.23 564.20,181.28 563.54,186.32 563.59,191.37 563.31,196.42 563.46,201.46 563.22,206.51 563.29,211.55 563.65,216.60" stroke="#1f77b4"/><polyline points="569.48,151.00 569.56,156.05 569.54,161.09 569.96,166.14 569.70,171.18 569.53,176.23 569.70,181.28 569.38,186.32 569.55,191.37 569.98,196.42 569.90,201.46 569.64,206.51 569.63,211.55 569.67,216.60" stroke="#ff7f0e"/><polyline points="574.99,151.00 574.78,156.05 574.76,161.09 574.85,166.14 574.81,171.18 574.74,176.23 574.57,181.28 574.83,186.32 575.26,191.37 575.36,196.42 575.41,201.46 575.50,206.51 575.19,211.55 575.40,216.60" stroke="#2ca02c"/><polyline points="581.60,151.00 581.68,156.05 581.62,161.09 581.44,166.14 581.26,171.18 581.12,176.23 581.26,181.28 581.25,186.32 581.42,191.37 581.05,196.42 581.08,201.46 581.53,206.51 581.32,211.55 581.44,216.60" stroke="#d62728"/><polyline points="587.42,151.00 587.88,156.05 587.62,161.09 587.84,166.14 587.48,171.18 587.15,176.23 587.60,181.28 587.55,186.32 587.19,191.37 587.22,196.42 587.28,201.46 587.58,206.51 587.25,211.55 587.13,216.60" stroke="#9467bd"/><polyline points="594.19,151.00 593.84,156.05 593.75,161.09 593.70,166.14 593.93,171.18 594.05,176.23 594.32,181.28 594.49,186.32 594.36,191.37 594.45,196.42 594.51,201.46 594.57,206.51 594.38,211.55 594.50,216.60" stroke="#8c564b"/><polyline points="600.16,151.00 599.74,156.05 600.07,161.09 599.58,166.14 599.87,171.18 599.93,176.23 599.89,181.28 600.25,186.32 600.18,191.37 600.00,196.42 600.18,201.46 600.38,206.51 600.30,211.55 600.05,216.60" stroke="#e377c2"/><polyline points="605.60,151.00 605.80,156.05 605.58,161.09 605.50,166.14 605.59,171.18 605.51,176.23 605.39,181.28 605.71,186.32 605.98,191.37 605.88,196.42 605.76,201.46 605.46,206.51 605.34,211.55 605.13,216.60" stroke="#7f7f7f"/><polyline points="611.84,151.00 611.47,156.05 611.91,161.09 611.72,166.14 612.03,171.18 612.23,176.23 612.48,181.28 612.02,186.32 611.88,191.37 612.19,196.42 611.66,201.46 611.31,206.51 611.50,211.55 611.58,216.60" stroke="#bcbd22"/><polyline points="618.32,151.00 618.28,156.05 618.64,161.09 618.49,166.14 618.38,171.18 618.45,176.23 618.25,181.28 618.08,186.32 618.16,191.37 618.02,196.42 618.41,201.46 618.46,206.51 618.37,211.55 617.95,216.60" stroke="#17becf"/></g>
<g fill="none" stroke-width="1.1" stroke-opacity="0.72" stroke-linecap="butt"><polyline points="50.50,151.00 50.38,156.05 50.39,161.09 49.90,166.14 49.89,171.18 50.33,176.23 50.56,181.28 50.74,186.32 50.96,191.37 50.51,196.42 50.08,201.46 49.82,206.51 49.94,211.55 50.16,216.60" stroke="rgb(90,134,165)"/><polyline points="55.97,151.00 56.03,156.05 56.18,161.09 56.03,166.14 56.00,171.18 55.54,176.23 55.85,181.28 55.61,186.32 56.01,191.37 56.06,196.42 55.81,201.46 55.49,206.51 55.37,211.55 55.61,216.60" stroke="rgb(202,138,82)"/><polyline points="60.69,151.00 60.43,156.05 60.63,161.09 60.82,166.14 60.78,171.18 60.62,176.23 60.83,181.28 60.47,186.32 60.47,191.37 60.60,196.42 61.11,201.46 61.21,206.51 61.47,211.55 61.32,216.60" stroke="rgb(97,155,97)"/><polyline points="65.88,151.00 66.33,156.05 66.43,161.09 66.16,166.14 65.74,171.18 65.84,176.23 66.06,181.28 66.00,186.32 65.83,191.37 66.05,196.42 66.42,201.46 66.09,206.51 65.70,211.55 65.68,216.60" stroke="rgb(182,94,95)"/><polyline points="71.84,151.00 71.54,156.05 71.83,161.09 71.99,166.14 71.90,171.18 71.59,176.23 72.01,181.28 71.76,186.32 72.00,191.37 71.68,196.42 71.45,201.46 71.74,206.51 71.55,211.55 71.97,216.60" stroke="rgb(149,126,169)"/><polyline points="76.93,151.00 76.78,156.05 76.84,161.09 77.08,166.14 77.49,171.18 77.11,176.23 77.05,181.28 76.85,186.32 77.35,191.37 77.01,196.42 76.69,201.46 76.47,206.51 76.60,211.55 77.11,216.60" stroke="rgb(145,118,112)"/><polyline points="83.16,151.00 83.52,156.05 83.72,161.09 83.35,166.14 82.97,171.18 83.34,176.23 83.43,181.28 82.90,186.32 83.06,191.37 82.93,196.42 82.83,201.46 82.73,206.51 82.52,211.55 82.24,216.60" stroke="rgb(188,134,172)"/><polyline points="87.82,151.00 88.24,156.05 87.84,161.09 88.26,166.14 87.92,171.18 87.81,176.23 88.12,181.28 88.34,186.32 88.17,191.37 87.72,196.42 87.77,201.46 87.72,206.51 88.14,211.55 87.82,216.60" stroke="rgb(138,138,138)"/><polyline points="93.82,151.00 93.33,156.05 93.30,161.09 93.62,166.14 93.80,171.18 93.32,176.23 92.98,181.28 92.77,186.32 93.34,191.37 93.18,196.42 93.48,201.46 93.82,206.51 93.58,211.55 93.36,216.60" stroke="rgb(169,169,92)"/><polyline points="99.54,151.00 99.31,156.05 99.53,161.09 99.35,166.14 99.19,171.18 98.85,176.23 99.24,181.28 99.65,186.32 99.70,191.37 99.99,196.42 99.43,201.46 99.21,206.51 99.26,211.55 99.70,216.60" stroke="rgb(86,170,178)"/><polyline points="104.83,151.00 104.65,156.05 104.67,161.09 104.74,166.14 105.15,171.18 104.82,176.23 105.10,181.28 105.25,186.32 105.42,191.37 105.50,196.42 105.42,201.46 105.12,206.51 104.91,211.55 104.80,216.60" stroke="rgb(90,134,165)"/><polyline points="109.92,151.00 109.77,156.05 110.14,161.09 109.97,166.14 109.69,171.18 109.48,176.23 109.76,181.28 109.77,186.32 110.32,191.37 110.63,196.42 110.93,201.46 110.54,206.51 110.11,211.55 109.82,216.60" stroke="rgb(202,138,82)"/><polyline points="115.72,151.00 115.62,156.05 115.38,161.09 115.36,166.14 115.51,171.18 115.67,176.23 115.84,181.28 116.04,186.32 116.03,191.37 115.57,196.42 115.85,201.46 115.58,206.51 115.63,211.55 115.50,216.60" stroke="rgb(97,155,97)"/><polyline points="120.99,151.00 120.85,156.05 120.75,161.09 120.61,166.14 121.12,171.18 121.22,176.23 121.08,181.28 121.04,186.32 121.51,191.37 121.44,196.42 121.15,201.46 121.44,206.51 121.51,211.55 121.84,216.60" stroke="rgb(182,94,95)"/><polyline points="126.22,151.00 126.49,156.05 126.70,161.09 126.91,166.14 126.32,171.18 126.13,176.23 125.84,181.28 125.70,186.32 126.26,191.37 126.32,196.42 126.66,201.46 126.43,206.51 126.68,211.55 126.50,216.60" stroke="rgb(149,126,169)"/><polyline points="132.11,151.00 132.42,156.05 131.93,161.09 131.99,166.14 132.06,171.18 131.77,176.23 131.69,181.28 131.45,186.32 131.33,191.37 131.29,196.42 131.55,201.46 131.78,206.51 131.56,211.55 131.24,216.60" stroke="rgb(145,118,112)"/><polyline points="137.61,151.00 137.30,156.05 137.19,161.09 137.02,166.14 137.40,171.18 137.46,176.23 137.09,181.28 136.86,186.32 136.95,191.37 137.15,196.42 137.36,201.46 137.04,206.51 136.88,211.55 137.22,216.60" stroke="rgb(188,134,172)"/><polyline points="142.87,151.00 142.76,156.05 143.23,161.09 143.02,166.14 143.08,171.18 142.95,176.23 142.91,181.28 143.26,186.32 143.61,191.37 143.33,196.42 142.99,201.46 143.20,206.51 142.91,211.55 142.53,216.60" stroke="rgb(138,138,138)"/><polyline points="148.91,151.00 149.20,156.05 149.06,161.09 149.35,166.14 149.21,171.18 148.86,176.23 148.49,181.28 148.68,186.32 148.88,191.37 149.26,196.42 148.83,201.46 148.98,206.51 148.87,211.55 148.90,216.60" stroke="rgb(169,169,92)"/><polyline points="153.73,151.00 153.80,156.05 154.19,161.09 153.78,166.14 153.81,171.18 154.10,176.23 154.44,181.28 154.03,186.32 153.68,191.37 154.12,196.42 154.46,201.46 154.28,206.51 153.80,211.55 154.19,216.60" stroke="rgb(86,170,178)"/><polyline points="159.99,151.00 159.99,156.05 160.16,161.09 159.73,166.14 159.94,171.18 159.62,176.23 159.55,181.28 159.87,186.32 160.08,191.37 159.69,196.42 159.44,201.46 159.42,206.51 159.51,211.55 159.45,216.60" stroke="rgb(90,134,165)"/><polyline points="164.78,151.00 165.04,156.05 165.36,161.09 164.86,166.14 164.96,171.18 165.18,176.23 164.74,181.28 165.10,186.32 164.75,191.37 164.91,196.42 164.97,201.46 165.09,206.51 164.90,211.55 164.86,216.60" stroke="rgb(202,138,82)"/><polyline points="170.86,151.00 171.01,156.05 170.94,161.09 170.88,166.14 170.49,171.18 170.72,176.23 170.77,181.28 170.60,186.32 170.92,191.37 171.15,196.42 171.05,201.46 170.74,206.51 170.77,211.55 170.49,216.60" stroke="rgb(97,155,97)"/><polyline points="176.07,151.00 175.74,156.05 175.81,161.09 175.91,166.14 175.59,171.18 175.86,176.23 175.59,181.28 175.95,186.32 176.23,191.37 176.21,196.42 175.81,201.46 175.91,206.51 175.87,211.55 176.33,216.60" stroke="rgb(182,94,95)"/><polyline points="182.00,151.00 182.33,156.05 182.34,161.09 182.41,166.14 181.94,171.18 182.27,176.23 182.10,181.28 182.36,186.32 182.51,191.37 181.99,196.42 182.15,201.46 182.37,206.51 181.81,211.55 181.65,216.60" stroke="rgb(149,126,169)"/><polyline points="187.49,151.00 187.91,156.05 187.68,161.09 187.97,166.14 187.62,171.18 187.67,176.23 188.05,181.28 187.72,186.32 187.54,191.37 187.62,196.42 187.51,201.46 187.20,206.51 187.11,211.55 187.02,216.60" stroke="rgb(145,118,112)"/><polyline points="193.66,151.00 193.94,156.05 193.53,161.09 193.76,166.14 193.36,171.18 193.43,176.23 193.57,181.28 193.43,186.32 193.77,191.37 193.73,196.42 193.73,201.46 193.99,206.51 193.51,211.55 193.92,216.60" stroke="rgb(188,134,172)"/><polyline points="198.76,151.00 199.04,156.05 198.78,161.09 199.22,166.14 199.17,171.18 198.96,176.23 199.15,181.28 199.01,186.32 198.69,191.37 198.94,196.42 198.54,201.46 198.90,206.51 198.68,211.55 198.85,216.60" stroke="rgb(138,138,138)"/><polyline points="204.80,151.00 204.92,156.05 204.71,161.09 204.29,166.14 204.03,171.18 203.95,176.23 204.28,181.28 204.36,186.32 204.48,191.37 204.89,196.42 204.53,201.46 204.36,206.51 204.60,211.55 204.24,216.60" stroke="rgb(169,169,92)"/><polyline points="209.43,151.00 209.13,156.05 209.14,161.09 209.03,166.14 209.26,171.18 209.42,176.23 209.21,181.28 209.42,186.32 209.43,191.37 209.16,196.42 209.64,201.46 209.40,206.51 209.15,211.55 208.93,216.60" stroke="rgb(86,170,178)"/><polyline points="215.98,151.00 216.12,156.05 215.90,161.09 215.63,166.14 215.23,171.18 215.49,176.23 215.59,181.28 215.49,186.32 215.66,191.37 215.62,196.42 216.00,201.46 216.10,206.51 215.76,211.55 216.07,216.60" stroke="rgb(90,134,165)"/><polyline points="220.83,151.00 220.75,156.05 220.54,161.09 220.25,166.14 220.65,171.18 220.29,176.23 220.49,181.28 220.95,186.32 220.61,191.37 220.42,196.42 220.62,201.46 220.69,206.51 220.84,211.55 221.09,216.60" stroke="rgb(202,138,82)"/><polyline points="226.37,151.00 226.25,156.05 225.96,161.09 226.46,166.14 226.72,171.18 226.84,176.23 226.34,181.28 226.69,186.32 226.85,191.37 226.72,196.42 226.87,201.46 226.73,206.51 226.44,211.55 226.14,216.60" stroke="rgb(97,155,97)"/><polyline points="231.82,151.00 231.80,156.05 232.13,161.09 232.32,166.14 232.58,171.18 232.64,176.23 232.32,181.28 232.33,186.32 232.24,191.37 232.47,196.42 232.41,201.46 232.15,206.51 232.29,211.55 232.66,216.60" stroke="rgb(182,94,95)"/><polyline points="238.15,151.00 237.65,156.05 237.50,161.09 237.38,166.14 237.72,171.18 238.13,176.23 238.24,181.28 237.97,186.32 238.25,191.37 237.98,196.42 237.72,201.46 238.09,206.51 238.12,211.55 238.20,216.60" stroke="rgb(149,126,169)"/><polyline points="244.23,151.00 244.09,156.05 244.29,161.09 244.32,166.14 244.47,171.18 244.23,176.23 244.30,181.28 244.22,186.32 243.94,191.37 243.66,196.42 243.82,201.46 243.47,206.51 243.92,211.55 243.59,216.60" stroke="rgb(145,118,112)"/><polyline points="248.64,151.00 249.10,156.05 248.93,161.09 248.64,166.14 248.34,171.18 248.14,176.23 248.55,181.28 248.79,186.32 249.01,191.37 249.19,196.42 248.76,201.46 248.90,206.51 248.80,211.55 249.12,216.60" stroke="rgb(188,134,172)"/><polyline points="255.58,151.00 255.12,156.05 255.47,161.09 255.75,166.14 255.98,171.18 255.43,176.23 255.13,181.28 254.84,186.32 254.57,191.37 255.07,196.42 255.39,201.46 255.46,206.51 255.67,211.55 255.66,216.60" stroke="rgb(138,138,138)"/><polyline points="260.15,151.00 259.91,156.05 260.30,161.09 260.11,166.14 260.07,171.18 260.13,176.23 259.84,181.28 259.83,186.32 259.84,191.37 260.22,196.42 260.19,201.46 260.13,206.51 260.63,211.55 260.59,216.60" stroke="rgb(169,169,92)"/><polyline points="266.70,151.00 266.28,156.05 266.30,161.09 266.34,166.14 266.65,171.18 266.51,176.23 266.71,181.28 266.71,186.32 266.44,191.37 266.79,196.42 266.39,201.46 266.73,206.51 266.41,211.55 266.05,216.60" stroke="rgb(86,170,178)"/><polyline points="271.98,151.00 272.31,156.05 271.73,161.09 271.73,166.14 271.73,171.18 271.99,176.23 271.65,181.28 271.68,186.32 271.58,191.37 271.91,196.42 271.66,201.46 272.06,206.51 271.79,211.55 271.54,216.60" stroke="rgb(90,134,165)"/><polyline points="277.83,151.00 277.51,156.05 277.72,161.09 277.40,166.14 277.77,171.18 277.96,176.23 278.16,181.28 278.17,186.32 277.95,191.37 277.83,196.42 277.74,201.46 278.10,206.51 277.67,211.55 278.05,216.60" stroke="rgb(202,138,82)"/><polyline points="282.73,151.00 282.61,156.05 283.06,161.09 283.03,166.14 282.92,171.18 283.26,176.23 282.95,181.28 282.93,186.32 282.97,191.37 283.19,196.42 283.34,201.46 283.35,206.51 283.11,211.55 282.93,216.60" stroke="rgb(97,155,97)"/><polyline points="289.06,151.00 289.11,156.05 289.21,161.09 288.80,166.14 288.74,171.18 288.98,176.23 288.99,181.28 288.61,186.32 288.63,191.37 288.99,196.42 288.71,201.46 288.47,206.51 288.39,211.55 288.68,216.60" stroke="rgb(182,94,95)"/><polyline points="294.73,151.00 294.53,156.05 294.47,161.09 294.49,166.14 294.67,171.18 294.49,176.23 294.50,181.28 294.40,186.32 294.98,191.37 295.19,196.42 294.80,201.46 295.26,206.51 294.85,211.55 294.81,216.60" stroke="rgb(149,126,169)"/><polyline points="301.09,151.00 301.21,156.05 301.04,161.09 300.73,166.14 300.88,171.18 300.53,176.23 300.38,181.28 300.42,186.32 300.16,191.37 300.28,196.42 300.69,201.46 300.90,206.51 300.88,211.55 300.98,216.60" stroke="rgb(145,118,112)"/><polyline points="305.83,151.00 306.01,156.05 305.96,161.09 306.22,166.14 306.53,171.18 306.35,176.23 306.35,181.28 306.49,186.32 306.32,191.37 306.03,196.42 306.25,201.46 306.53,206.51 306.64,211.55 306.66,216.60" stroke="rgb(188,134,172)"/><polyline points="312.31,151.00 312.38,156.05 312.28,161.09 312.08,166.14 312.21,171.18 311.86,176.23 311.88,181.28 312.20,186.32 312.37,191.37 312.41,196.42 312.13,201.46 312.07,206.51 312.06,211.55 312.19,216.60" stroke="rgb(138,138,138)"/><polyline points="317.67,151.00 317.99,156.05 317.59,161.09 317.70,166.14 317.88,171.18 317.68,176.23 317.63,181.28 317.99,186.32 317.47,191.37 317.52,196.42 317.24,201.46 317.56,206.51 317.92,211.55 317.82,216.60" stroke="rgb(169,169,92)"/><polyline points="323.07,151.00 323.09,156.05 323.25,161.09 323.18,166.14 323.25,171.18 323.45,176.23 323.34,181.28 323.16,186.32 323.49,191.37 323.10,196.42 323.23,201.46 323.07,206.51 323.27,211.55 322.88,216.60" stroke="rgb(86,170,178)"/><polyline points="329.33,151.00 328.99,156.05 328.94,161.09 329.01,166.14 328.73,171.18 328.88,176.23 328.98,181.28 329.29,186.32 329.21,191.37 329.09,196.42 328.96,201.46 329.31,206.51 329.72,211.55 329.66,216.60" stroke="rgb(90,134,165)"/><polyline points="334.83,151.00 334.67,156.05 334.40,161.09 334.14,166.14 334.50,171.18 334.79,176.23 334.84,181.28 334.73,186.32 334.74,191.37 334.46,196.42 334.89,201.46 334.67,206.51 334.76,211.55 334.97,216.60" stroke="rgb(202,138,82)"/><polyline points="340.78,151.00 340.61,156.05 340.71,161.09 340.42,166.14 340.82,171.18 340.69,176.23 341.02,181.28 340.76,186.32 340.67,191.37 340.50,196.42 340.53,201.46 340.35,206.51 340.07,211.55 340.47,216.60" stroke="rgb(97,155,97)"/><polyline points="345.92,151.00 345.81,156.05 345.89,161.09 345.90,166.14 346.09,171.18 346.23,176.23 346.09,181.28 346.46,186.32 346.66,191.37 346.13,196.42 346.40,201.46 346.66,206.51 346.74,211.55 346.26,216.60" stroke="rgb(182,94,95)"/><polyline points="352.44,151.00 352.00,156.05 351.69,161.09 352.26,166.14 352.41,171.18 352.18,176.23 351.89,181.28 351.72,186.32 351.68,191.37 352.11,196.42 352.04,201.46 351.84,206.51 352.33,211.55 352.57,216.60" stroke="rgb(149,126,169)"/><polyline points="357.89,151.00 357.89,156.05 358.03,161.09 358.03,166.14 358.22,171.18 358.27,176.23 358.34,181.28 357.85,186.32 357.93,191.37 357.85,196.42 357.96,201.46 357.79,206.51 358.05,211.55 357.95,216.60" stroke="rgb(145,118,112)"/><polyline points="363.19,151.00 362.96,156.05 363.09,161.09 362.81,166.14 362.97,171.18 362.80,176.23 362.98,181.28 363.11,186.32 363.23,191.37 363.59,196.42 363.13,201.46 363.50,206.51 363.45,211.55 363.49,216.60" stroke="rgb(188,134,172)"/><polyline points="369.80,151.00 369.61,156.05 369.51,161.09 369.90,166.14 369.43,171.18 369.57,176.23 369.67,181.28 369.23,186.32 369.40,191.37 369.59,196.42 369.93,201.46 369.66,206.51 370.02,211.55 369.88,216.60" stroke="rgb(138,138,138)"/><polyline points="375.49,151.00 375.00,156.05 375.23,161.09 375.31,166.14 375.13,171.18 375.44,176.23 375.24,181.28 375.19,186.32 375.20,191.37 375.42,196.42 375.10,201.46 375.06,206.51 375.02,211.55 375.11,216.60" stroke="rgb(169,169,92)"/><polyline points="381.05,151.00 381.37,156.05 381.25,161.09 381.24,166.14 381.04,171.18 381.10,176.23 381.54,181.28 381.57,186.32 381.71,191.37 381.42,196.42 381.21,201.46 381.04,206.51 381.17,211.55 381.30,216.60" stroke="rgb(86,170,178)"/><polyline points="386.60,151.00 386.90,156.05 387.25,161.09 387.21,166.14 386.76,171.18 386.66,176.23 386.34,181.28 386.27,186.32 386.84,191.37 386.98,196.42 387.11,201.46 387.32,206.51 387.56,211.55 387.48,216.60" stroke="rgb(90,134,165)"/><polyline points="392.76,151.00 392.89,156.05 392.90,161.09 392.98,166.14 392.64,171.18 392.78,176.23 392.71,181.28 392.91,186.32 392.50,191.37 392.28,196.42 392.00,201.46 392.43,206.51 392.84,211.55 392.92,216.60" stroke="rgb(202,138,82)"/><polyline points="398.54,151.00 398.70,156.05 398.62,161.09 398.31,166.14 398.13,171.18 398.10,176.23 398.00,181.28 398.02,186.32 398.21,191.37 398.59,196.42 398.12,201.46 398.22,206.51 397.85,211.55 397.65,216.60" stroke="rgb(97,155,97)"/><polyline points="404.50,151.00 404.83,156.05 404.67,161.09 404.19,166.14 404.17,171.18 404.33,176.23 404.73,181.28 405.04,186.32 404.84,191.37 404.64,196.42 404.25,201.46 404.42,206.51 404.19,211.55 403.97,216.60" stroke="rgb(182,94,95)"/><polyline points="409.21,151.00 409.48,156.05 409.21,161.09 409.72,166.14 409.35,171.18 409.74,176.23 409.39,181.28 409.06,186.32 409.41,191.37 409.26,196.42 409.56,201.46 409.32,206.51 409.03,211.55 409.44,216.60" stroke="rgb(149,126,169)"/><polyline points="416.31,151.00 416.41,156.05 415.94,161.09 416.07,166.14 416.23,171.18 416.13,176.23 416.46,181.28 416.11,186.32 416.47,191.37 416.52,196.42 415.95,201.46 415.56,206.51 415.82,211.55 416.15,216.60" stroke="rgb(145,118,112)"/><polyline points="421.18,151.00 421.42,156.05 421.11,161.09 421.48,166.14 421.43,171.18 421.03,176.23 421.01,181.28 421.17,186.32 421.17,191.37 421.37,196.42 421.06,201.46 421.39,206.51 421.26,211.55 421.41,216.60" stroke="rgb(188,134,172)"/><polyline points="427.55,151.00 427.47,156.05 427.76,161.09 428.09,166.14 428.19,171.18 428.07,176.23 427.76,181.28 427.35,186.32 427.83,191.37 427.94,196.42 428.12,201.46 427.83,206.51 427.85,211.55 428.18,216.60" stroke="rgb(138,138,138)"/><polyline points="433.71,151.00 433.53,156.05 433.50,161.09 433.86,166.14 433.69,171.18 433.82,176.23 433.85,181.28 434.12,186.32 434.23,191.37 433.87,196.42 433.38,201.46 433.25,206.51 433.30,211.55 433.47,216.60" stroke="rgb(169,169,92)"/><polyline points="439.79,151.00 439.31,156.05 439.64,161.09 439.85,166.14 440.04,171.18 439.93,176.23 439.60,181.28 439.86,186.32 440.00,191.37 440.00,196.42 440.18,201.46 439.84,206.51 439.38,211.55 439.45,216.60" stroke="rgb(86,170,178)"/><polyline points="445.06,151.00 445.35,156.05 445.70,161.09 445.36,166.14 445.44,171.18 445.55,176.23 445.45,181.28 445.16,186.32 445.00,191.37 445.31,196.42 445.55,201.46 445.45,206.51 445.06,211.55 445.40,216.60" stroke="rgb(90,134,165)"/><polyline points="450.94,151.00 451.07,156.05 451.43,161.09 451.67,166.14 451.54,171.18 451.41,176.23 451.41,181.28 451.07,186.32 450.84,191.37 450.67,196.42 450.98,201.46 450.92,206.51 451.05,211.55 451.00,216.60" stroke="rgb(202,138,82)"/><polyline points="456.53,151.00 456.24,156.05 456.83,161.09 456.73,166.14 456.43,171.18 456.66,176.23 456.95,181.28 456.63,186.32 456.77,191.37 456.66,196.42 456.73,201.46 456.35,206.51 456.10,211.55 456.73,216.60" stroke="rgb(97,155,97)"/><polyline points="462.98,151.00 463.04,156.05 462.82,161.09 463.11,166.14 463.01,171.18 463.38,176.23 463.48,181.28 463.60,186.32 463.81,191.37 463.36,196.42 462.86,201.46 462.64,206.51 462.48,211.55 462.28,216.60" stroke="rgb(182,94,95)"/><polyline points="468.27,151.00 468.57,156.05 468.43,161.09 468.74,166.14 468.93,171.18 468.35,176.23 468.39,181.28 468.26,186.32 467.93,191.37 468.40,196.42 468.14,201.46 468.22,206.51 468.34,211.55 468.69,216.60" stroke="rgb(149,126,169)"/><polyline points="474.52,151.00 474.50,156.05 474.25,161.09 474.75,166.14 475.12,171.18 474.73,176.23 474.31,181.28 474.19,186.32 474.19,191.37 474.66,196.42 474.98,201.46 475.15,206.51 474.61,211.55 474.85,216.60" stroke="rgb(145,118,112)"/><polyline points="480.66,151.00 481.03,156.05 480.51,161.09 480.22,166.14 480.53,171.18 480.90,176.23 480.94,181.28 480.65,186.32 480.69,191.37 480.86,196.42 480.43,201.46 480.32,206.51 480.18,211.55 479.97,216.60" stroke="rgb(188,134,172)"/><polyline points="485.98,151.00 485.84,156.05 485.67,161.09 486.00,166.14 485.66,171.18 486.03,176.23 485.84,181.28 485.58,186.32 486.14,191.37 485.94,196.42 486.40,201.46 486.67,206.51 486.87,211.55 486.38,216.60" stroke="rgb(138,138,138)"/><polyline points="491.80,151.00 492.27,156.05 492.52,161.09 492.51,166.14 492.36,171.18 492.16,176.23 492.43,181.28 492.32,186.32 492.38,191.37 492.01,196.42 491.81,201.46 491.54,206.51 491.90,211.55 492.02,216.60" stroke="rgb(169,169,92)"/><polyline points="498.13,151.00 497.84,156.05 497.76,161.09 497.49,166.14 497.39,171.18 497.81,176.23 497.67,181.28 497.43,186.32 497.54,191.37 497.47,196.42 497.91,201.46 497.56,206.51 498.04,211.55 497.60,216.60" stroke="rgb(86,170,178)"/><polyline points="504.48,151.00 504.20,156.05 504.22,161.09 504.08,166.14 503.95,171.18 503.82,176.23 503.86,181.28 504.42,186.32 504.81,191.37 505.03,196.42 504.48,201.46 504.26,206.51 504.62,211.55 504.16,216.60" stroke="rgb(90,134,165)"/><polyline points="509.96,151.00 510.42,156.05 509.92,161.09 510.25,166.14 510.08,171.18 509.79,176.23 509.48,181.28 509.95,186.32 510.03,191.37 509.80,196.42 509.84,201.46 510.28,206.51 510.00,211.55 510.10,216.60" stroke="rgb(202,138,82)"/><polyline points="515.33,151.00 515.64,156.05 515.80,161.09 515.49,166.14 515.17,171.18 514.95,176.23 515.24,181.28 515.34,186.32 515.23,191.37 515.09,196.42 515.34,201.46 515.59,206.51 515.86,211.55 515.85,216.60" stroke="rgb(97,155,97)"/><polyline points="521.23,151.00 521.53,156.05 521.47,161.09 521.70,166.14 521.29,171.18 521.64,176.23 521.49,181.28 521.81,186.32 522.05,191.37 521.91,196.42 521.40,201.46 521.81,206.51 521.72,211.55 522.00,216.60" stroke="rgb(182,94,95)"/><polyline points="527.33,151.00 527.69,156.05 527.55,161.09 527.28,166.14 527.26,171.18 527.44,176.23 527.07,181.28 527.24,186.32 527.30,191.37 527.40,196.42 527.14,201.46 527.46,206.51 527.76,211.55 528.02,216.60" stroke="rgb(149,126,169)"/><polyline points="533.77,151.00 533.61,156.05 533.82,161.09 533.38,166.14 533.76,171.18 534.09,176.23 533.93,181.28 533.84,186.32 533.79,191.37 533.76,196.42 533.31,201.46 533.79,206.51 533.49,211.55 533.26,216.60" stroke="rgb(145,118,112)"/><polyline points="539.17,151.00 539.50,156.05 539.06,161.09 538.82,166.14 539.15,171.18 538.96,176.23 538.68,181.28 538.97,186.32 539.16,191.37 539.24,196.42 539.45,201.46 539.10,206.51 539.49,211.55 539.64,216.60" stroke="rgb(188,134,172)"/><polyline points="544.98,151.00 545.07,156.05 545.14,161.09 545.00,166.14 544.77,171.18 544.85,176.23 544.68,181.28 544.94,186.32 545.35,191.37 545.04,196.42 545.18,201.46 545.42,206.51 545.10,211.55 545.43,216.60" stroke="rgb(138,138,138)"/><polyline points="551.89,151.00 551.85,156.05 552.18,161.09 552.14,166.14 552.01,171.18 552.37,176.23 552.49,181.28 552.20,186.32 551.92,191.37 551.80,196.42 551.80,201.46 552.26,206.51 552.43,211.55 552.64,216.60" stroke="rgb(169,169,92)"/><polyline points="558.16,151.00 557.69,156.05 557.76,161.09 558.18,166.14 558.45,171.18 558.06,176.23 557.94,181.28 558.03,186.32 557.86,191.37 557.89,196.42 557.52,201.46 557.57,206.51 557.66,211.55 557.32,216.60" stroke="rgb(86,170,178)"/><polyline points="563.70,151.00 563.82,156.05 564.03,161.09 563.93,166.14 564.00,171.18 564.12,176.23 564.20,181.28 563.54,186.32 563.59,191.37 563.31,196.42 563.46,201.46 563.22,206.51 563.29,211.55 563.65,216.60" stroke="rgb(90,134,165)"/><polyline points="569.48,151.00 569.56,156.05 569.54,161.09 569.96,166.14 569.70,171.18 569.53,176.23 569.70,181.28 569.38,186.32 569.55,191.37 569.98,196.42 569.90,201.46 569.64,206.51 569.63,211.55 569.67,216.60" stroke="rgb(202,138,82)"/><polyline points="574.99,151.00 574.78,156.05 574.76,161.09 574.85,166.14 574.81,171.18 574.74,176.23 574.57,181.28 574.83,186.32 575.26,191.37 575.36,196.42 575.41,201.46 575.50,206.51 575.19,211.55 575.40,216.60" stroke="rgb(97,155,97)"/><polyline points="581.60,151.00 581.68,156.05 581.62,161.09 581.44,166.14 581.26,171.18 581.12,176.23 581.26,181.28 581.25,186.32 581.42,191.37 581.05,196.42 581.08,201.46 581.53,206.51 581.32,211.55 581.44,216.60" stroke="rgb(182,94,95)"/><polyline points="587.42,151.00 587.88,156.05 587.62,161.09 587.84,166.14 587.48,171.18 587.15,176.23 587.60,181.28 587.55,186.32 587.19,191.37 587.22,196.42 587.28,201.46 587.58,206.51 587.25,211.55 587.13,216.60" stroke="rgb(149,126,169)"/><polyline points="594.19,151.00 593.84,156.05 593.75,161.09 593.70,166.14 593.93,171.18 594.05,176.23 594.32,181.28 594.49,186.32 594.36,191.37 594.45,196.42 594.51,201.46 594.57,206.51 594.38,211.55 594.50,216.60" stroke="rgb(145,118,112)"/><polyline points="600.16,151.00 599.74,156.05 600.07,161.09 599.58,166.14 599.87,171.18 599.93,176.23 599.89,181.28 600.25,186.32 600.18,191.37 600.00,196.42 600.18,201.46 600.38,206.51 600.30,211.55 600.05,216.60" stroke="rgb(188,134,172)"/><polyline points="605.60,151.00 605.80,156.05 605.58,161.09 605.50,166.14 605.59,171.18 605.51,176.23 605.39,181.28 605.71,186.32 605.98,191.37 605.88,196.42 605.76,201.46 605.46,206.51 605.34,211.55 605.13,216.60" stroke="rgb(138,138,138)"/><polyline points="611.84,151.00 611.47,156.05 611.91,161.09 611.72,166.14 612.03,171.18 612.23,176.23 612.48,181.28 612.02,186.32 611.88,191.37 612.19,196.42 611.66,201.46 611.31,206.51 611.50,211.55 611.58,216.60" stroke="rgb(169,169,92)"/><polyline points="618.32,151.00 618.28,156.05 618.64,161.09 618.49,166.14 618.38,171.18 618.45,176.23 618.25,181.28 618.08,186.32 618.16,191.37 618.02,196.42 618.41,201.46 618.46,206.51 618.37,211.55 617.95,216.60" stroke="rgb(86,170,178)"/></g>
<rect x="44.5" y="148.5" width="578" height="72" fill="none" stroke="#555" stroke-width="1"/>
<line x1="39" y1="151.9" x2="44" y2="151.9" stroke="#555" stroke-width="1"/>
<text x="36.50" y="155.20" font-size="9.8" text-anchor="end" fill="#4a4a4a"  stroke="#4a4a4a" stroke-width="0.08">10</text>
<line x1="39" y1="184.3" x2="44" y2="184.3" stroke="#555" stroke-width="1"/>
<text x="36.50" y="187.60" font-size="9.8" text-anchor="end" fill="#4a4a4a"  stroke="#4a4a4a" stroke-width="0.08">5</text>
<line x1="39" y1="216.6" x2="44" y2="216.6" stroke="#555" stroke-width="1"/>
<text x="36.50" y="219.90" font-size="9.8" text-anchor="end" fill="#4a4a4a"  stroke="#4a4a4a" stroke-width="0.08">0</text>
<line x1="102.90" y1="220.2" x2="102.90" y2="225" stroke="#555" stroke-width="1"/>
<text x="102.90" y="235.90" font-size="9.8" text-anchor="middle" fill="#4a4a4a"  stroke="#4a4a4a" stroke-width="0.08">0.40</text>
<line x1="227.80" y1="220.2" x2="227.80" y2="225" stroke="#555" stroke-width="1"/>
<text x="227.80" y="235.90" font-size="9.8" text-anchor="middle" fill="#4a4a4a"  stroke="#4a4a4a" stroke-width="0.08">0.41</text>
<line x1="352.70" y1="220.2" x2="352.70" y2="225" stroke="#555" stroke-width="1"/>
<text x="352.70" y="235.90" font-size="9.8" text-anchor="middle" fill="#4a4a4a"  stroke="#4a4a4a" stroke-width="0.08">0.42</text>
<line x1="477.60" y1="220.2" x2="477.60" y2="225" stroke="#555" stroke-width="1"/>
<text x="477.60" y="235.90" font-size="9.8" text-anchor="middle" fill="#4a4a4a"  stroke="#4a4a4a" stroke-width="0.08">0.43</text>
<line x1="602.50" y1="220.2" x2="602.50" y2="225" stroke="#555" stroke-width="1"/>
<text x="602.50" y="235.90" font-size="9.8" text-anchor="middle" fill="#4a4a4a"  stroke="#4a4a4a" stroke-width="0.08">0.44</text>
<text transform="translate(18.4,184.3) rotate(-90)" x="0" y="0" font-size="11" text-anchor="middle" fill="#4a4a4a" stroke="#4a4a4a" stroke-width="0.08">Time (s)</text>
<text x="559.7" y="207" font-size="10.5" fill="#333" textLength="51.3" lengthAdjust="spacingAndGlyphs" stroke="#333" stroke-width="0.08">100 levels</text>
<text x="309.4" y="253" font-size="10.2" fill="#4a4a4a" stroke="#4a4a4a" stroke-width="0.08"><tspan font-style="italic">R</tspan><tspan font-size="7" dy="3">xy</tspan><tspan dy="-3"> (</tspan><tspan font-style="italic">h e</tspan><tspan font-size="7" dy="-4.5">−2</tspan><tspan dy="4.5">)</tspan></text>
<text x="3.00" y="147.00" font-size="14" text-anchor="start" fill="#000" font-weight="bold" stroke="#000" stroke-width="0.3">b</text>
<text x="2.00" y="281.00" font-size="14" text-anchor="start" fill="#000" font-weight="bold" stroke="#000" stroke-width="0.3">c</text>
<polyline points="64.00,293.14 66.24,293.29 68.48,293.51 70.72,293.66 72.96,293.95 75.20,294.13 77.44,294.03 79.68,294.15 81.92,294.34 84.16,294.61 86.40,294.38 88.64,294.56 90.88,294.79 93.12,294.56 95.36,294.72 97.60,295.14 99.84,295.16 102.08,294.93 104.32,294.65 106.56,294.97 108.80,294.79 111.04,294.77 113.28,294.78 115.52,294.65 117.76,294.34 120.00,294.13 122.24,294.22 124.48,294.35 126.72,294.37 128.96,294.23 131.20,294.25 133.44,294.50 135.68,294.51 137.92,294.41 140.16,294.74 142.40,294.47 144.64,294.07 146.88,294.16 149.12,294.99 151.36,294.84 153.60,295.13 155.84,294.88 158.08,295.12 160.32,295.44 162.56,295.10 164.80,294.93 167.04,294.49 169.28,294.43 171.52,294.25 173.76,293.89 176.00,293.87" fill="none" stroke="#b4582c" stroke-width="1.6" stroke-linejoin="round"/>
<g fill="#b4582c"><circle cx="64.00" cy="293.14" r="1.25"/><circle cx="66.24" cy="293.29" r="1.25"/><circle cx="68.48" cy="293.51" r="1.25"/><circle cx="70.72" cy="293.66" r="1.25"/><circle cx="72.96" cy="293.95" r="1.25"/><circle cx="75.20" cy="294.13" r="1.25"/><circle cx="77.44" cy="294.03" r="1.25"/><circle cx="79.68" cy="294.15" r="1.25"/><circle cx="81.92" cy="294.34" r="1.25"/><circle cx="84.16" cy="294.61" r="1.25"/><circle cx="86.40" cy="294.38" r="1.25"/><circle cx="88.64" cy="294.56" r="1.25"/><circle cx="90.88" cy="294.79" r="1.25"/><circle cx="93.12" cy="294.56" r="1.25"/><circle cx="95.36" cy="294.72" r="1.25"/><circle cx="97.60" cy="295.14" r="1.25"/><circle cx="99.84" cy="295.16" r="1.25"/><circle cx="102.08" cy="294.93" r="1.25"/><circle cx="104.32" cy="294.65" r="1.25"/><circle cx="106.56" cy="294.97" r="1.25"/><circle cx="108.80" cy="294.79" r="1.25"/><circle cx="111.04" cy="294.77" r="1.25"/><circle cx="113.28" cy="294.78" r="1.25"/><circle cx="115.52" cy="294.65" r="1.25"/><circle cx="117.76" cy="294.34" r="1.25"/><circle cx="120.00" cy="294.13" r="1.25"/><circle cx="122.24" cy="294.22" r="1.25"/><circle cx="124.48" cy="294.35" r="1.25"/><circle cx="126.72" cy="294.37" r="1.25"/><circle cx="128.96" cy="294.23" r="1.25"/><circle cx="131.20" cy="294.25" r="1.25"/><circle cx="133.44" cy="294.50" r="1.25"/><circle cx="135.68" cy="294.51" r="1.25"/><circle cx="137.92" cy="294.41" r="1.25"/><circle cx="140.16" cy="294.74" r="1.25"/><circle cx="142.40" cy="294.47" r="1.25"/><circle cx="144.64" cy="294.07" r="1.25"/><circle cx="146.88" cy="294.16" r="1.25"/><circle cx="149.12" cy="294.99" r="1.25"/><circle cx="151.36" cy="294.84" r="1.25"/><circle cx="153.60" cy="295.13" r="1.25"/><circle cx="155.84" cy="294.88" r="1.25"/><circle cx="158.08" cy="295.12" r="1.25"/><circle cx="160.32" cy="295.44" r="1.25"/><circle cx="162.56" cy="295.10" r="1.25"/><circle cx="164.80" cy="294.93" r="1.25"/><circle cx="167.04" cy="294.49" r="1.25"/><circle cx="169.28" cy="294.43" r="1.25"/><circle cx="171.52" cy="294.25" r="1.25"/><circle cx="173.76" cy="293.89" r="1.25"/><circle cx="176.00" cy="293.87" r="1.25"/></g>
<polyline points="64.00,304.62 66.24,304.97 68.48,304.89 70.72,304.93 72.96,304.91 75.20,305.06 77.44,305.49 79.68,305.29 81.92,305.25 84.16,305.23 86.40,305.35 88.64,305.45 90.88,305.28 93.12,305.33 95.36,304.90 97.60,304.82 99.84,305.14 102.08,304.83 104.32,304.93 106.56,304.66 108.80,304.48 111.04,304.44 113.28,304.27 115.52,304.58 117.76,304.33 120.00,304.12 122.24,304.31 124.48,304.40 126.72,304.37 128.96,304.92 131.20,304.89 133.44,305.21 135.68,305.08 137.92,305.31 140.16,305.25 142.40,305.28 144.64,305.59 146.88,305.09 149.12,304.86 151.36,305.19 153.60,305.18 155.84,304.97 158.08,305.15 160.32,305.37 162.56,305.17 164.80,305.44 167.04,305.12 169.28,305.23 171.52,305.43 173.76,305.22 176.00,305.30" fill="none" stroke="#c99a5e" stroke-width="1.6" stroke-linejoin="round"/>
<g fill="#c99a5e"><circle cx="64.00" cy="304.62" r="1.25"/><circle cx="66.24" cy="304.97" r="1.25"/><circle cx="68.48" cy="304.89" r="1.25"/><circle cx="70.72" cy="304.93" r="1.25"/><circle cx="72.96" cy="304.91" r="1.25"/><circle cx="75.20" cy="305.06" r="1.25"/><circle cx="77.44" cy="305.49" r="1.25"/><circle cx="79.68" cy="305.29" r="1.25"/><circle cx="81.92" cy="305.25" r="1.25"/><circle cx="84.16" cy="305.23" r="1.25"/><circle cx="86.40" cy="305.35" r="1.25"/><circle cx="88.64" cy="305.45" r="1.25"/><circle cx="90.88" cy="305.28" r="1.25"/><circle cx="93.12" cy="305.33" r="1.25"/><circle cx="95.36" cy="304.90" r="1.25"/><circle cx="97.60" cy="304.82" r="1.25"/><circle cx="99.84" cy="305.14" r="1.25"/><circle cx="102.08" cy="304.83" r="1.25"/><circle cx="104.32" cy="304.93" r="1.25"/><circle cx="106.56" cy="304.66" r="1.25"/><circle cx="108.80" cy="304.48" r="1.25"/><circle cx="111.04" cy="304.44" r="1.25"/><circle cx="113.28" cy="304.27" r="1.25"/><circle cx="115.52" cy="304.58" r="1.25"/><circle cx="117.76" cy="304.33" r="1.25"/><circle cx="120.00" cy="304.12" r="1.25"/><circle cx="122.24" cy="304.31" r="1.25"/><circle cx="124.48" cy="304.40" r="1.25"/><circle cx="126.72" cy="304.37" r="1.25"/><circle cx="128.96" cy="304.92" r="1.25"/><circle cx="131.20" cy="304.89" r="1.25"/><circle cx="133.44" cy="305.21" r="1.25"/><circle cx="135.68" cy="305.08" r="1.25"/><circle cx="137.92" cy="305.31" r="1.25"/><circle cx="140.16" cy="305.25" r="1.25"/><circle cx="142.40" cy="305.28" r="1.25"/><circle cx="144.64" cy="305.59" r="1.25"/><circle cx="146.88" cy="305.09" r="1.25"/><circle cx="149.12" cy="304.86" r="1.25"/><circle cx="151.36" cy="305.19" r="1.25"/><circle cx="153.60" cy="305.18" r="1.25"/><circle cx="155.84" cy="304.97" r="1.25"/><circle cx="158.08" cy="305.15" r="1.25"/><circle cx="160.32" cy="305.37" r="1.25"/><circle cx="162.56" cy="305.17" r="1.25"/><circle cx="164.80" cy="305.44" r="1.25"/><circle cx="167.04" cy="305.12" r="1.25"/><circle cx="169.28" cy="305.23" r="1.25"/><circle cx="171.52" cy="305.43" r="1.25"/><circle cx="173.76" cy="305.22" r="1.25"/><circle cx="176.00" cy="305.30" r="1.25"/></g>
<polyline points="64.00,324.39 66.24,325.37 68.48,324.41 70.72,323.29 72.96,323.01 75.20,322.86 77.44,322.52 79.68,322.67 81.92,322.44 84.16,322.74 86.40,322.68 88.64,323.05 90.88,323.14 93.12,323.31 95.36,323.33 97.60,323.68 99.84,324.34 102.08,324.42 104.32,324.68 106.56,324.62 108.80,324.49 111.04,324.15 113.28,323.58 115.52,323.42 117.76,322.79 120.00,322.23 122.24,322.34 124.48,321.87 126.72,321.79 128.96,321.91 131.20,321.39 133.44,321.39 135.68,321.42 137.92,321.24 140.16,320.75 142.40,320.68 144.64,320.70 146.88,320.37 149.12,320.49 151.36,319.91 153.60,320.04 155.84,319.58 158.08,319.20 160.32,319.08 162.56,318.68 164.80,318.72 167.04,318.42 169.28,318.68 171.52,318.47 173.76,318.30 176.00,318.17" fill="none" stroke="#b2b06a" stroke-width="1.6" stroke-linejoin="round"/>
<g fill="#b2b06a"><circle cx="64.00" cy="324.39" r="1.25"/><circle cx="66.24" cy="325.37" r="1.25"/><circle cx="68.48" cy="324.41" r="1.25"/><circle cx="70.72" cy="323.29" r="1.25"/><circle cx="72.96" cy="323.01" r="1.25"/><circle cx="75.20" cy="322.86" r="1.25"/><circle cx="77.44" cy="322.52" r="1.25"/><circle cx="79.68" cy="322.67" r="1.25"/><circle cx="81.92" cy="322.44" r="1.25"/><circle cx="84.16" cy="322.74" r="1.25"/><circle cx="86.40" cy="322.68" r="1.25"/><circle cx="88.64" cy="323.05" r="1.25"/><circle cx="90.88" cy="323.14" r="1.25"/><circle cx="93.12" cy="323.31" r="1.25"/><circle cx="95.36" cy="323.33" r="1.25"/><circle cx="97.60" cy="323.68" r="1.25"/><circle cx="99.84" cy="324.34" r="1.25"/><circle cx="102.08" cy="324.42" r="1.25"/><circle cx="104.32" cy="324.68" r="1.25"/><circle cx="106.56" cy="324.62" r="1.25"/><circle cx="108.80" cy="324.49" r="1.25"/><circle cx="111.04" cy="324.15" r="1.25"/><circle cx="113.28" cy="323.58" r="1.25"/><circle cx="115.52" cy="323.42" r="1.25"/><circle cx="117.76" cy="322.79" r="1.25"/><circle cx="120.00" cy="322.23" r="1.25"/><circle cx="122.24" cy="322.34" r="1.25"/><circle cx="124.48" cy="321.87" r="1.25"/><circle cx="126.72" cy="321.79" r="1.25"/><circle cx="128.96" cy="321.91" r="1.25"/><circle cx="131.20" cy="321.39" r="1.25"/><circle cx="133.44" cy="321.39" r="1.25"/><circle cx="135.68" cy="321.42" r="1.25"/><circle cx="137.92" cy="321.24" r="1.25"/><circle cx="140.16" cy="320.75" r="1.25"/><circle cx="142.40" cy="320.68" r="1.25"/><circle cx="144.64" cy="320.70" r="1.25"/><circle cx="146.88" cy="320.37" r="1.25"/><circle cx="149.12" cy="320.49" r="1.25"/><circle cx="151.36" cy="319.91" r="1.25"/><circle cx="153.60" cy="320.04" r="1.25"/><circle cx="155.84" cy="319.58" r="1.25"/><circle cx="158.08" cy="319.20" r="1.25"/><circle cx="160.32" cy="319.08" r="1.25"/><circle cx="162.56" cy="318.68" r="1.25"/><circle cx="164.80" cy="318.72" r="1.25"/><circle cx="167.04" cy="318.42" r="1.25"/><circle cx="169.28" cy="318.68" r="1.25"/><circle cx="171.52" cy="318.47" r="1.25"/><circle cx="173.76" cy="318.30" r="1.25"/><circle cx="176.00" cy="318.17" r="1.25"/></g>
<polyline points="64.00,335.75 66.24,335.53 68.48,335.83 70.72,335.43 72.96,335.59 75.20,335.58 77.44,335.42 79.68,335.64 81.92,335.33 84.16,335.33 86.40,335.15 88.64,334.89 90.88,334.79 93.12,334.51 95.36,334.42 97.60,334.62 99.84,334.22 102.08,334.38 104.32,334.10 106.56,334.33 108.80,334.23 111.04,334.30 113.28,334.20 115.52,334.08 117.76,334.21 120.00,334.16 122.24,334.25 124.48,334.69 126.72,334.62 128.96,334.82 131.20,335.21 133.44,335.29 135.68,335.48 137.92,335.62 140.16,335.39 142.40,335.61 144.64,335.63 146.88,336.09 149.12,336.23 151.36,336.18 153.60,336.31 155.84,336.53 158.08,336.64 160.32,336.51 162.56,336.90 164.80,336.75 167.04,336.99 169.28,336.86 171.52,336.92 173.76,337.41 176.00,337.42" fill="none" stroke="#8cbf6c" stroke-width="1.6" stroke-linejoin="round"/>
<g fill="#8cbf6c"><circle cx="64.00" cy="335.75" r="1.25"/><circle cx="66.24" cy="335.53" r="1.25"/><circle cx="68.48" cy="335.83" r="1.25"/><circle cx="70.72" cy="335.43" r="1.25"/><circle cx="72.96" cy="335.59" r="1.25"/><circle cx="75.20" cy="335.58" r="1.25"/><circle cx="77.44" cy="335.42" r="1.25"/><circle cx="79.68" cy="335.64" r="1.25"/><circle cx="81.92" cy="335.33" r="1.25"/><circle cx="84.16" cy="335.33" r="1.25"/><circle cx="86.40" cy="335.15" r="1.25"/><circle cx="88.64" cy="334.89" r="1.25"/><circle cx="90.88" cy="334.79" r="1.25"/><circle cx="93.12" cy="334.51" r="1.25"/><circle cx="95.36" cy="334.42" r="1.25"/><circle cx="97.60" cy="334.62" r="1.25"/><circle cx="99.84" cy="334.22" r="1.25"/><circle cx="102.08" cy="334.38" r="1.25"/><circle cx="104.32" cy="334.10" r="1.25"/><circle cx="106.56" cy="334.33" r="1.25"/><circle cx="108.80" cy="334.23" r="1.25"/><circle cx="111.04" cy="334.30" r="1.25"/><circle cx="113.28" cy="334.20" r="1.25"/><circle cx="115.52" cy="334.08" r="1.25"/><circle cx="117.76" cy="334.21" r="1.25"/><circle cx="120.00" cy="334.16" r="1.25"/><circle cx="122.24" cy="334.25" r="1.25"/><circle cx="124.48" cy="334.69" r="1.25"/><circle cx="126.72" cy="334.62" r="1.25"/><circle cx="128.96" cy="334.82" r="1.25"/><circle cx="131.20" cy="335.21" r="1.25"/><circle cx="133.44" cy="335.29" r="1.25"/><circle cx="135.68" cy="335.48" r="1.25"/><circle cx="137.92" cy="335.62" r="1.25"/><circle cx="140.16" cy="335.39" r="1.25"/><circle cx="142.40" cy="335.61" r="1.25"/><circle cx="144.64" cy="335.63" r="1.25"/><circle cx="146.88" cy="336.09" r="1.25"/><circle cx="149.12" cy="336.23" r="1.25"/><circle cx="151.36" cy="336.18" r="1.25"/><circle cx="153.60" cy="336.31" r="1.25"/><circle cx="155.84" cy="336.53" r="1.25"/><circle cx="158.08" cy="336.64" r="1.25"/><circle cx="160.32" cy="336.51" r="1.25"/><circle cx="162.56" cy="336.90" r="1.25"/><circle cx="164.80" cy="336.75" r="1.25"/><circle cx="167.04" cy="336.99" r="1.25"/><circle cx="169.28" cy="336.86" r="1.25"/><circle cx="171.52" cy="336.92" r="1.25"/><circle cx="173.76" cy="337.41" r="1.25"/><circle cx="176.00" cy="337.42" r="1.25"/></g>
<polyline points="64.00,351.31 66.24,351.46 68.48,351.94 70.72,352.43 72.96,352.76 75.20,353.12 77.44,353.46 79.68,352.45 81.92,352.45 84.16,352.66 86.40,352.48 88.64,352.86 90.88,354.44 93.12,354.52 95.36,354.30 97.60,354.40 99.84,354.54 102.08,354.38 104.32,354.22 106.56,354.65 108.80,354.63 111.04,354.35 113.28,353.07 115.52,353.48 117.76,353.35 120.00,354.27 122.24,352.80 124.48,352.20 126.72,352.53 128.96,352.23 131.20,352.58 133.44,352.49 135.68,352.15 137.92,352.44 140.16,352.28 142.40,352.45 144.64,352.48 146.88,352.20 149.12,352.10 151.36,352.58 153.60,352.41 155.84,352.76 158.08,352.74 160.32,352.86 162.56,353.00 164.80,352.99 167.04,353.00 169.28,352.89 171.52,353.31 173.76,353.27 176.00,353.41" fill="none" stroke="#72c68e" stroke-width="1.6" stroke-linejoin="round"/>
<g fill="#72c68e"><circle cx="64.00" cy="351.31" r="1.25"/><circle cx="66.24" cy="351.46" r="1.25"/><circle cx="68.48" cy="351.94" r="1.25"/><circle cx="70.72" cy="352.43" r="1.25"/><circle cx="72.96" cy="352.76" r="1.25"/><circle cx="75.20" cy="353.12" r="1.25"/><circle cx="77.44" cy="353.46" r="1.25"/><circle cx="79.68" cy="352.45" r="1.25"/><circle cx="81.92" cy="352.45" r="1.25"/><circle cx="84.16" cy="352.66" r="1.25"/><circle cx="86.40" cy="352.48" r="1.25"/><circle cx="88.64" cy="352.86" r="1.25"/><circle cx="90.88" cy="354.44" r="1.25"/><circle cx="93.12" cy="354.52" r="1.25"/><circle cx="95.36" cy="354.30" r="1.25"/><circle cx="97.60" cy="354.40" r="1.25"/><circle cx="99.84" cy="354.54" r="1.25"/><circle cx="102.08" cy="354.38" r="1.25"/><circle cx="104.32" cy="354.22" r="1.25"/><circle cx="106.56" cy="354.65" r="1.25"/><circle cx="108.80" cy="354.63" r="1.25"/><circle cx="111.04" cy="354.35" r="1.25"/><circle cx="113.28" cy="353.07" r="1.25"/><circle cx="115.52" cy="353.48" r="1.25"/><circle cx="117.76" cy="353.35" r="1.25"/><circle cx="120.00" cy="354.27" r="1.25"/><circle cx="122.24" cy="352.80" r="1.25"/><circle cx="124.48" cy="352.20" r="1.25"/><circle cx="126.72" cy="352.53" r="1.25"/><circle cx="128.96" cy="352.23" r="1.25"/><circle cx="131.20" cy="352.58" r="1.25"/><circle cx="133.44" cy="352.49" r="1.25"/><circle cx="135.68" cy="352.15" r="1.25"/><circle cx="137.92" cy="352.44" r="1.25"/><circle cx="140.16" cy="352.28" r="1.25"/><circle cx="142.40" cy="352.45" r="1.25"/><circle cx="144.64" cy="352.48" r="1.25"/><circle cx="146.88" cy="352.20" r="1.25"/><circle cx="149.12" cy="352.10" r="1.25"/><circle cx="151.36" cy="352.58" r="1.25"/><circle cx="153.60" cy="352.41" r="1.25"/><circle cx="155.84" cy="352.76" r="1.25"/><circle cx="158.08" cy="352.74" r="1.25"/><circle cx="160.32" cy="352.86" r="1.25"/><circle cx="162.56" cy="353.00" r="1.25"/><circle cx="164.80" cy="352.99" r="1.25"/><circle cx="167.04" cy="353.00" r="1.25"/><circle cx="169.28" cy="352.89" r="1.25"/><circle cx="171.52" cy="353.31" r="1.25"/><circle cx="173.76" cy="353.27" r="1.25"/><circle cx="176.00" cy="353.41" r="1.25"/></g>
<polyline points="64.00,366.81 66.24,366.41 68.48,366.73 70.72,366.37 72.96,366.70 75.20,366.75 77.44,366.48 79.68,366.62 81.92,366.83 84.16,366.67 86.40,366.62 88.64,366.47 90.88,366.38 93.12,366.53 95.36,366.56 97.60,366.45 99.84,366.51 102.08,366.21 104.32,366.27 106.56,366.73 108.80,367.30 111.04,367.20 113.28,367.16 115.52,366.94 117.76,367.00 120.00,366.53 122.24,366.44 124.48,366.68 126.72,366.25 128.96,365.90 131.20,365.74 133.44,366.78 135.68,366.73 137.92,366.93 140.16,366.72 142.40,367.06 144.64,367.11 146.88,367.14 149.12,367.95 151.36,368.36 153.60,367.83 155.84,367.75 158.08,367.61 160.32,367.36 162.56,367.11 164.80,367.11 167.04,366.98 169.28,367.13 171.52,367.48 173.76,367.81 176.00,367.91" fill="none" stroke="#3a9f92" stroke-width="1.6" stroke-linejoin="round"/>
<g fill="#3a9f92"><circle cx="64.00" cy="366.81" r="1.25"/><circle cx="66.24" cy="366.41" r="1.25"/><circle cx="68.48" cy="366.73" r="1.25"/><circle cx="70.72" cy="366.37" r="1.25"/><circle cx="72.96" cy="366.70" r="1.25"/><circle cx="75.20" cy="366.75" r="1.25"/><circle cx="77.44" cy="366.48" r="1.25"/><circle cx="79.68" cy="366.62" r="1.25"/><circle cx="81.92" cy="366.83" r="1.25"/><circle cx="84.16" cy="366.67" r="1.25"/><circle cx="86.40" cy="366.62" r="1.25"/><circle cx="88.64" cy="366.47" r="1.25"/><circle cx="90.88" cy="366.38" r="1.25"/><circle cx="93.12" cy="366.53" r="1.25"/><circle cx="95.36" cy="366.56" r="1.25"/><circle cx="97.60" cy="366.45" r="1.25"/><circle cx="99.84" cy="366.51" r="1.25"/><circle cx="102.08" cy="366.21" r="1.25"/><circle cx="104.32" cy="366.27" r="1.25"/><circle cx="106.56" cy="366.73" r="1.25"/><circle cx="108.80" cy="367.30" r="1.25"/><circle cx="111.04" cy="367.20" r="1.25"/><circle cx="113.28" cy="367.16" r="1.25"/><circle cx="115.52" cy="366.94" r="1.25"/><circle cx="117.76" cy="367.00" r="1.25"/><circle cx="120.00" cy="366.53" r="1.25"/><circle cx="122.24" cy="366.44" r="1.25"/><circle cx="124.48" cy="366.68" r="1.25"/><circle cx="126.72" cy="366.25" r="1.25"/><circle cx="128.96" cy="365.90" r="1.25"/><circle cx="131.20" cy="365.74" r="1.25"/><circle cx="133.44" cy="366.78" r="1.25"/><circle cx="135.68" cy="366.73" r="1.25"/><circle cx="137.92" cy="366.93" r="1.25"/><circle cx="140.16" cy="366.72" r="1.25"/><circle cx="142.40" cy="367.06" r="1.25"/><circle cx="144.64" cy="367.11" r="1.25"/><circle cx="146.88" cy="367.14" r="1.25"/><circle cx="149.12" cy="367.95" r="1.25"/><circle cx="151.36" cy="368.36" r="1.25"/><circle cx="153.60" cy="367.83" r="1.25"/><circle cx="155.84" cy="367.75" r="1.25"/><circle cx="158.08" cy="367.61" r="1.25"/><circle cx="160.32" cy="367.36" r="1.25"/><circle cx="162.56" cy="367.11" r="1.25"/><circle cx="164.80" cy="367.11" r="1.25"/><circle cx="167.04" cy="366.98" r="1.25"/><circle cx="169.28" cy="367.13" r="1.25"/><circle cx="171.52" cy="367.48" r="1.25"/><circle cx="173.76" cy="367.81" r="1.25"/><circle cx="176.00" cy="367.91" r="1.25"/></g>
<polyline points="64.00,384.48 66.24,384.44 68.48,384.36 70.72,384.32 72.96,384.31 75.20,384.81 77.44,384.70 79.68,384.38 81.92,384.71 84.16,384.85 86.40,384.66 88.64,384.44 90.88,384.64 93.12,384.63 95.36,384.52 97.60,384.71 99.84,384.45 102.08,384.84 104.32,384.62 106.56,384.53 108.80,384.61 111.04,384.39 113.28,384.11 115.52,384.03 117.76,383.90 120.00,383.76 122.24,384.11 124.48,384.12 126.72,383.83 128.96,383.75 131.20,383.96 133.44,384.04 135.68,384.06 137.92,383.66 140.16,383.94 142.40,383.94 144.64,383.87 146.88,383.64 149.12,383.55 151.36,383.85 153.60,383.57 155.84,383.57 158.08,383.63 160.32,383.52 162.56,383.72 164.80,383.40 167.04,383.27 169.28,383.51 171.52,383.52 173.76,383.59 176.00,383.50" fill="none" stroke="#4a7cba" stroke-width="1.6" stroke-linejoin="round"/>
<g fill="#4a7cba"><circle cx="64.00" cy="384.48" r="1.25"/><circle cx="66.24" cy="384.44" r="1.25"/><circle cx="68.48" cy="384.36" r="1.25"/><circle cx="70.72" cy="384.32" r="1.25"/><circle cx="72.96" cy="384.31" r="1.25"/><circle cx="75.20" cy="384.81" r="1.25"/><circle cx="77.44" cy="384.70" r="1.25"/><circle cx="79.68" cy="384.38" r="1.25"/><circle cx="81.92" cy="384.71" r="1.25"/><circle cx="84.16" cy="384.85" r="1.25"/><circle cx="86.40" cy="384.66" r="1.25"/><circle cx="88.64" cy="384.44" r="1.25"/><circle cx="90.88" cy="384.64" r="1.25"/><circle cx="93.12" cy="384.63" r="1.25"/><circle cx="95.36" cy="384.52" r="1.25"/><circle cx="97.60" cy="384.71" r="1.25"/><circle cx="99.84" cy="384.45" r="1.25"/><circle cx="102.08" cy="384.84" r="1.25"/><circle cx="104.32" cy="384.62" r="1.25"/><circle cx="106.56" cy="384.53" r="1.25"/><circle cx="108.80" cy="384.61" r="1.25"/><circle cx="111.04" cy="384.39" r="1.25"/><circle cx="113.28" cy="384.11" r="1.25"/><circle cx="115.52" cy="384.03" r="1.25"/><circle cx="117.76" cy="383.90" r="1.25"/><circle cx="120.00" cy="383.76" r="1.25"/><circle cx="122.24" cy="384.11" r="1.25"/><circle cx="124.48" cy="384.12" r="1.25"/><circle cx="126.72" cy="383.83" r="1.25"/><circle cx="128.96" cy="383.75" r="1.25"/><circle cx="131.20" cy="383.96" r="1.25"/><circle cx="133.44" cy="384.04" r="1.25"/><circle cx="135.68" cy="384.06" r="1.25"/><circle cx="137.92" cy="383.66" r="1.25"/><circle cx="140.16" cy="383.94" r="1.25"/><circle cx="142.40" cy="383.94" r="1.25"/><circle cx="144.64" cy="383.87" r="1.25"/><circle cx="146.88" cy="383.64" r="1.25"/><circle cx="149.12" cy="383.55" r="1.25"/><circle cx="151.36" cy="383.85" r="1.25"/><circle cx="153.60" cy="383.57" r="1.25"/><circle cx="155.84" cy="383.57" r="1.25"/><circle cx="158.08" cy="383.63" r="1.25"/><circle cx="160.32" cy="383.52" r="1.25"/><circle cx="162.56" cy="383.72" r="1.25"/><circle cx="164.80" cy="383.40" r="1.25"/><circle cx="167.04" cy="383.27" r="1.25"/><circle cx="169.28" cy="383.51" r="1.25"/><circle cx="171.52" cy="383.52" r="1.25"/><circle cx="173.76" cy="383.59" r="1.25"/><circle cx="176.00" cy="383.50" r="1.25"/></g>
<polyline points="64.00,395.50 66.24,395.52 68.48,395.28 70.72,395.28 72.96,395.10 75.20,395.17 77.44,395.30 79.68,395.05 81.92,395.34 84.16,395.08 86.40,395.21 88.64,395.47 90.88,395.02 93.12,394.99 95.36,395.18 97.60,395.05 99.84,395.31 102.08,394.97 104.32,395.40 106.56,395.42 108.80,395.40 111.04,395.24 113.28,395.18 115.52,395.67 117.76,396.48 120.00,396.66 122.24,396.22 124.48,395.57 126.72,395.66 128.96,395.72 131.20,395.75 133.44,395.36 135.68,395.41 137.92,395.46 140.16,395.51 142.40,395.38 144.64,395.29 146.88,395.22 149.12,395.32 151.36,395.38 153.60,395.64 155.84,395.60 158.08,395.58 160.32,395.64 162.56,395.63 164.80,395.46 167.04,395.56 169.28,395.18 171.52,395.49 173.76,395.45 176.00,395.30" fill="none" stroke="#2d4996" stroke-width="1.6" stroke-linejoin="round"/>
<g fill="#2d4996"><circle cx="64.00" cy="395.50" r="1.25"/><circle cx="66.24" cy="395.52" r="1.25"/><circle cx="68.48" cy="395.28" r="1.25"/><circle cx="70.72" cy="395.28" r="1.25"/><circle cx="72.96" cy="395.10" r="1.25"/><circle cx="75.20" cy="395.17" r="1.25"/><circle cx="77.44" cy="395.30" r="1.25"/><circle cx="79.68" cy="395.05" r="1.25"/><circle cx="81.92" cy="395.34" r="1.25"/><circle cx="84.16" cy="395.08" r="1.25"/><circle cx="86.40" cy="395.21" r="1.25"/><circle cx="88.64" cy="395.47" r="1.25"/><circle cx="90.88" cy="395.02" r="1.25"/><circle cx="93.12" cy="394.99" r="1.25"/><circle cx="95.36" cy="395.18" r="1.25"/><circle cx="97.60" cy="395.05" r="1.25"/><circle cx="99.84" cy="395.31" r="1.25"/><circle cx="102.08" cy="394.97" r="1.25"/><circle cx="104.32" cy="395.40" r="1.25"/><circle cx="106.56" cy="395.42" r="1.25"/><circle cx="108.80" cy="395.40" r="1.25"/><circle cx="111.04" cy="395.24" r="1.25"/><circle cx="113.28" cy="395.18" r="1.25"/><circle cx="115.52" cy="395.67" r="1.25"/><circle cx="117.76" cy="396.48" r="1.25"/><circle cx="120.00" cy="396.66" r="1.25"/><circle cx="122.24" cy="396.22" r="1.25"/><circle cx="124.48" cy="395.57" r="1.25"/><circle cx="126.72" cy="395.66" r="1.25"/><circle cx="128.96" cy="395.72" r="1.25"/><circle cx="131.20" cy="395.75" r="1.25"/><circle cx="133.44" cy="395.36" r="1.25"/><circle cx="135.68" cy="395.41" r="1.25"/><circle cx="137.92" cy="395.46" r="1.25"/><circle cx="140.16" cy="395.51" r="1.25"/><circle cx="142.40" cy="395.38" r="1.25"/><circle cx="144.64" cy="395.29" r="1.25"/><circle cx="146.88" cy="395.22" r="1.25"/><circle cx="149.12" cy="395.32" r="1.25"/><circle cx="151.36" cy="395.38" r="1.25"/><circle cx="153.60" cy="395.64" r="1.25"/><circle cx="155.84" cy="395.60" r="1.25"/><circle cx="158.08" cy="395.58" r="1.25"/><circle cx="160.32" cy="395.64" r="1.25"/><circle cx="162.56" cy="395.63" r="1.25"/><circle cx="164.80" cy="395.46" r="1.25"/><circle cx="167.04" cy="395.56" r="1.25"/><circle cx="169.28" cy="395.18" r="1.25"/><circle cx="171.52" cy="395.49" r="1.25"/><circle cx="173.76" cy="395.45" r="1.25"/><circle cx="176.00" cy="395.30" r="1.25"/></g>
<rect x="59.5" y="284.5" width="121" height="120.5" fill="none" stroke="#555" stroke-width="1"/>
<line x1="54" y1="304.2" x2="59.5" y2="304.2" stroke="#555" stroke-width="1"/>
<text x="51.40" y="307.50" font-size="9.8" text-anchor="end" fill="#4a4a4a"  stroke="#4a4a4a" stroke-width="0.08">0.739</text>
<line x1="54" y1="346.8" x2="59.5" y2="346.8" stroke="#555" stroke-width="1"/>
<text x="51.40" y="350.10" font-size="9.8" text-anchor="end" fill="#4a4a4a"  stroke="#4a4a4a" stroke-width="0.08">0.737</text>
<line x1="54" y1="389.2" x2="59.5" y2="389.2" stroke="#555" stroke-width="1"/>
<text x="51.40" y="392.50" font-size="9.8" text-anchor="end" fill="#4a4a4a"  stroke="#4a4a4a" stroke-width="0.08">0.735</text>
<line x1="181" y1="284.9" x2="186" y2="284.9" stroke="#555" stroke-width="1"/>
<text x="188.80" y="288.20" font-size="9.8" text-anchor="start" fill="#555"  textLength="30.6" lengthAdjust="spacingAndGlyphs" stroke="#555" stroke-width="0.08">0.2084</text>
<line x1="181" y1="321.5" x2="186" y2="321.5" stroke="#555" stroke-width="1"/>
<text x="188.80" y="324.80" font-size="9.8" text-anchor="start" fill="#555"  textLength="30.6" lengthAdjust="spacingAndGlyphs" stroke="#555" stroke-width="0.08">0.2082</text>
<line x1="181" y1="357.7" x2="186" y2="357.7" stroke="#555" stroke-width="1"/>
<text x="188.80" y="361.00" font-size="9.8" text-anchor="start" fill="#555"  textLength="30.6" lengthAdjust="spacingAndGlyphs" stroke="#555" stroke-width="0.08">0.2080</text>
<line x1="181" y1="394.8" x2="186" y2="394.8" stroke="#555" stroke-width="1"/>
<text x="188.80" y="398.10" font-size="9.8" text-anchor="start" fill="#555"  textLength="30.6" lengthAdjust="spacingAndGlyphs" stroke="#555" stroke-width="0.08">0.2078</text>
<line x1="65.1" y1="405" x2="65.1" y2="410" stroke="#555" stroke-width="1"/>
<text x="65.10" y="420.30" font-size="9.8" text-anchor="middle" fill="#4a4a4a"  stroke="#4a4a4a" stroke-width="0.08">0</text>
<line x1="120.2" y1="405" x2="120.2" y2="410" stroke="#555" stroke-width="1"/>
<text x="120.20" y="420.30" font-size="9.8" text-anchor="middle" fill="#4a4a4a"  stroke="#4a4a4a" stroke-width="0.08">5</text>
<line x1="175.3" y1="405" x2="175.3" y2="410" stroke="#555" stroke-width="1"/>
<text x="175.30" y="420.30" font-size="9.8" text-anchor="middle" fill="#4a4a4a"  stroke="#4a4a4a" stroke-width="0.08">10</text>
<text x="120.2" y="435" font-size="11" text-anchor="middle" fill="#4a4a4a" stroke="#4a4a4a" stroke-width="0.08">Time (s)</text>
<line x1="101.8" y1="385.5" x2="101.8" y2="394" stroke="#333" stroke-width="0.8"/>
<path d="M99.8,387.5 L101.8,384.2 L103.8,387.5 Z M99.8,392 L101.8,395.3 L103.8,392 Z" fill="#333"/>
<text x="106.5" y="391.6" font-size="7.3" fill="#444" stroke="#444" stroke-width="0.08"><tspan textLength="67" lengthAdjust="spacingAndGlyphs">4 electrons per µm</tspan><tspan font-size="4.5" dy="-3">−2</tspan></text>
<text transform="translate(17,344.3) rotate(-90)" font-size="10.5" text-anchor="middle" fill="#4a4a4a" stroke="#4a4a4a" stroke-width="0.08"><tspan font-style="italic">R</tspan><tspan font-size="7" dy="2.5">xy</tspan><tspan dy="-2.5"> (</tspan><tspan font-style="italic">h e</tspan><tspan font-size="7" dy="-4">−2</tspan><tspan dy="4">)</tspan></text>
<text transform="translate(229.5,343.9) rotate(90)" font-size="11" text-anchor="middle" fill="#4a4a4a" stroke="#4a4a4a" stroke-width="0.08"><tspan font-style="italic">ρ</tspan><tspan font-size="7" dy="2.5">l</tspan><tspan dy="-2.5"> (µC cm</tspan><tspan font-size="7" dy="-4">−2</tspan><tspan dy="4">)</tspan></text>
<text x="250.50" y="280.00" font-size="14" text-anchor="start" fill="#000" font-weight="bold" stroke="#000" stroke-width="0.3">d</text>
<defs>
<radialGradient id="atom" cx="0.38" cy="0.32" r="0.7"><stop offset="0" stop-color="#777"/><stop offset="0.45" stop-color="#2a2a2a"/><stop offset="1" stop-color="#111"/></radialGradient>
<radialGradient id="eball" cx="0.42" cy="0.32" r="0.72"><stop offset="0" stop-color="#7fa8ff"/><stop offset="0.55" stop-color="#2a5ee0"/><stop offset="1" stop-color="#1838a0"/></radialGradient>
<linearGradient id="darr" x1="252" y1="0" x2="303" y2="0" gradientUnits="userSpaceOnUse"><stop offset="0" stop-color="#3a4560" stop-opacity="0"/><stop offset="0.5" stop-color="#3a4560" stop-opacity="0.85"/><stop offset="1" stop-color="#323c56"/></linearGradient>
</defs>
<g stroke="#444" stroke-width="0.9">
<line x1="337.44" y1="334.18" x2="349.80" y2="334.50"/>
<line x1="418.90" y1="343.67" x2="427.28" y2="339.85"/>
<line x1="392.13" y1="340.15" x2="403.85" y2="340.15"/>
<line x1="369.45" y1="347.18" x2="374.72" y2="349.99"/>
<line x1="397.63" y1="351.92" x2="400.32" y2="353.33"/>
<line x1="411.58" y1="335.32" x2="423.94" y2="335.32"/>
<line x1="423.94" y1="335.32" x2="432.96" y2="330.36"/>
<line x1="400.74" y1="347.24" x2="404.07" y2="349.72"/>
<line x1="374.82" y1="353.69" x2="383.32" y2="353.74"/>
<line x1="413.86" y1="349.30" x2="421.59" y2="346.52"/>
<line x1="312.73" y1="333.38" x2="315.96" y2="328.61"/>
<line x1="406.96" y1="329.97" x2="411.58" y2="335.32"/>
<line x1="368.71" y1="339.88" x2="374.61" y2="343.99"/>
<line x1="386.87" y1="335.15" x2="393.96" y2="329.78"/>
<line x1="369.45" y1="347.18" x2="374.61" y2="343.99"/>
<line x1="397.63" y1="351.92" x2="404.07" y2="349.72"/>
<line x1="370.20" y1="351.99" x2="374.82" y2="353.69"/>
<line x1="319.26" y1="341.51" x2="321.85" y2="338.20"/>
<line x1="415.91" y1="351.01" x2="425.05" y2="350.29"/>
<line x1="374.72" y1="349.99" x2="384.50" y2="350.06"/>
<line x1="321.85" y1="338.20" x2="333.56" y2="338.76"/>
<line x1="338.17" y1="345.77" x2="345.36" y2="348.76"/>
<line x1="403.85" y1="340.15" x2="407.83" y2="343.94"/>
<line x1="333.63" y1="349.65" x2="342.77" y2="350.50"/>
<line x1="374.51" y1="334.99" x2="386.87" y2="335.15"/>
<line x1="327.74" y1="345.00" x2="338.17" y2="345.77"/>
<line x1="368.71" y1="339.88" x2="374.51" y2="334.99"/>
<line x1="393.96" y1="329.78" x2="406.96" y2="329.97"/>
<line x1="384.50" y1="350.06" x2="388.48" y2="352.12"/>
<line x1="374.61" y1="343.99" x2="385.69" y2="344.10"/>
<line x1="370.20" y1="351.99" x2="374.72" y2="349.99"/>
<line x1="328.96" y1="328.80" x2="337.44" y2="334.18"/>
<line x1="352.47" y1="343.38" x2="359.02" y2="346.86"/>
<line x1="357.82" y1="353.06" x2="361.05" y2="351.67"/>
<line x1="356.99" y1="339.60" x2="368.71" y2="339.88"/>
<line x1="349.80" y1="334.50" x2="356.99" y2="339.60"/>
<line x1="325.79" y1="347.12" x2="333.63" y2="349.65"/>
<line x1="342.77" y1="350.50" x2="349.32" y2="352.48"/>
<line x1="385.69" y1="344.10" x2="390.31" y2="347.37"/>
<line x1="333.56" y1="338.76" x2="341.40" y2="342.88"/>
<line x1="367.96" y1="329.39" x2="374.51" y2="334.99"/>
<line x1="400.74" y1="347.24" x2="407.83" y2="343.94"/>
<line x1="403.85" y1="340.15" x2="411.58" y2="335.32"/>
<line x1="355.15" y1="349.34" x2="361.05" y2="351.67"/>
<line x1="361.05" y1="351.67" x2="370.20" y2="351.99"/>
<line x1="359.02" y1="346.86" x2="369.45" y2="347.18"/>
<line x1="342.77" y1="350.50" x2="345.36" y2="348.76"/>
<line x1="338.17" y1="345.77" x2="341.40" y2="342.88"/>
<line x1="349.32" y1="352.48" x2="357.82" y2="353.06"/>
<line x1="421.59" y1="346.52" x2="432.02" y2="345.94"/>
<line x1="407.83" y1="343.94" x2="418.90" y2="343.67"/>
<line x1="385.69" y1="344.10" x2="392.13" y2="340.15"/>
<line x1="315.96" y1="328.61" x2="328.96" y2="328.80"/>
<line x1="354.96" y1="329.19" x2="367.96" y2="329.39"/>
<line x1="427.28" y1="339.85" x2="438.99" y2="339.56"/>
<line x1="404.07" y1="349.72" x2="413.86" y2="349.30"/>
<line x1="355.15" y1="349.34" x2="359.02" y2="346.86"/>
<line x1="413.86" y1="349.30" x2="415.91" y2="351.01"/>
<line x1="352.47" y1="343.38" x2="356.99" y2="339.60"/>
<line x1="418.90" y1="343.67" x2="421.59" y2="346.52"/>
<line x1="400.32" y1="353.33" x2="408.82" y2="352.85"/>
<line x1="383.32" y1="353.74" x2="388.48" y2="352.12"/>
<line x1="319.26" y1="341.51" x2="327.74" y2="345.00"/>
<line x1="312.73" y1="333.38" x2="321.85" y2="338.20"/>
<line x1="333.56" y1="338.76" x2="337.44" y2="334.18"/>
<line x1="432.96" y1="330.36" x2="445.96" y2="330.56"/>
<line x1="390.31" y1="347.37" x2="400.74" y2="347.24"/>
<line x1="384.50" y1="350.06" x2="390.31" y2="347.37"/>
<line x1="386.87" y1="335.15" x2="392.13" y2="340.15"/>
<line x1="345.36" y1="348.76" x2="355.15" y2="349.34"/>
<line x1="332.32" y1="350.79" x2="333.63" y2="349.65"/>
<line x1="423.94" y1="335.32" x2="427.28" y2="339.85"/>
<line x1="388.48" y1="352.12" x2="397.63" y2="351.92"/>
<line x1="408.82" y1="352.85" x2="415.91" y2="351.01"/>
<line x1="341.40" y1="342.88" x2="352.47" y2="343.38"/>
<line x1="349.80" y1="334.50" x2="354.96" y2="329.19"/>
<line x1="325.79" y1="347.12" x2="327.74" y2="345.00"/>
</g>
<g fill="url(#atom)">
<ellipse cx="332.32" cy="350.79" rx="1.62" ry="1.38"/>
<ellipse cx="349.32" cy="352.48" rx="1.62" ry="1.38"/>
<ellipse cx="357.82" cy="353.06" rx="1.62" ry="1.38"/>
<ellipse cx="374.82" cy="353.69" rx="1.62" ry="1.38"/>
<ellipse cx="383.32" cy="353.74" rx="1.62" ry="1.38"/>
<ellipse cx="400.32" cy="353.33" rx="1.62" ry="1.38"/>
<ellipse cx="408.82" cy="352.85" rx="1.62" ry="1.38"/>
<ellipse cx="333.63" cy="349.65" rx="1.74" ry="1.49"/>
<ellipse cx="342.77" cy="350.50" rx="1.74" ry="1.49"/>
<ellipse cx="361.05" cy="351.67" rx="1.74" ry="1.49"/>
<ellipse cx="370.20" cy="351.99" rx="1.74" ry="1.49"/>
<ellipse cx="388.48" cy="352.12" rx="1.74" ry="1.49"/>
<ellipse cx="397.63" cy="351.92" rx="1.74" ry="1.49"/>
<ellipse cx="415.91" cy="351.01" rx="1.74" ry="1.49"/>
<ellipse cx="425.05" cy="350.29" rx="1.74" ry="1.49"/>
<ellipse cx="345.36" cy="348.76" rx="1.87" ry="1.59"/>
<ellipse cx="374.72" cy="349.99" rx="1.87" ry="1.59"/>
<ellipse cx="404.07" cy="349.72" rx="1.87" ry="1.59"/>
<ellipse cx="325.79" cy="347.12" rx="1.87" ry="1.59"/>
<ellipse cx="355.15" cy="349.34" rx="1.87" ry="1.59"/>
<ellipse cx="384.50" cy="350.06" rx="1.87" ry="1.59"/>
<ellipse cx="413.86" cy="349.30" rx="1.87" ry="1.59"/>
<ellipse cx="327.74" cy="345.00" rx="1.99" ry="1.70"/>
<ellipse cx="338.17" cy="345.77" rx="1.99" ry="1.70"/>
<ellipse cx="359.02" cy="346.86" rx="1.99" ry="1.70"/>
<ellipse cx="369.45" cy="347.18" rx="1.99" ry="1.70"/>
<ellipse cx="390.31" cy="347.37" rx="1.99" ry="1.70"/>
<ellipse cx="400.74" cy="347.24" rx="1.99" ry="1.70"/>
<ellipse cx="421.59" cy="346.52" rx="1.99" ry="1.70"/>
<ellipse cx="432.02" cy="345.94" rx="1.99" ry="1.70"/>
<ellipse cx="319.26" cy="341.51" rx="2.11" ry="1.80"/>
<ellipse cx="341.40" cy="342.88" rx="2.11" ry="1.80"/>
<ellipse cx="352.47" cy="343.38" rx="2.11" ry="1.80"/>
<ellipse cx="374.61" cy="343.99" rx="2.11" ry="1.80"/>
<ellipse cx="385.69" cy="344.10" rx="2.11" ry="1.80"/>
<ellipse cx="407.83" cy="343.94" rx="2.11" ry="1.80"/>
<ellipse cx="418.90" cy="343.67" rx="2.11" ry="1.80"/>
<ellipse cx="321.85" cy="338.20" rx="2.24" ry="1.91"/>
<ellipse cx="333.56" cy="338.76" rx="2.24" ry="1.91"/>
<ellipse cx="356.99" cy="339.60" rx="2.24" ry="1.91"/>
<ellipse cx="368.71" cy="339.88" rx="2.24" ry="1.91"/>
<ellipse cx="392.13" cy="340.15" rx="2.24" ry="1.91"/>
<ellipse cx="403.85" cy="340.15" rx="2.24" ry="1.91"/>
<ellipse cx="427.28" cy="339.85" rx="2.24" ry="1.91"/>
<ellipse cx="438.99" cy="339.56" rx="2.24" ry="1.91"/>
<ellipse cx="312.73" cy="333.38" rx="2.36" ry="2.01"/>
<ellipse cx="337.44" cy="334.18" rx="2.36" ry="2.01"/>
<ellipse cx="349.80" cy="334.50" rx="2.36" ry="2.01"/>
<ellipse cx="374.51" cy="334.99" rx="2.36" ry="2.01"/>
<ellipse cx="386.87" cy="335.15" rx="2.36" ry="2.01"/>
<ellipse cx="411.58" cy="335.32" rx="2.36" ry="2.01"/>
<ellipse cx="423.94" cy="335.32" rx="2.36" ry="2.01"/>
<ellipse cx="315.96" cy="328.61" rx="2.48" ry="2.12"/>
<ellipse cx="354.96" cy="329.19" rx="2.48" ry="2.12"/>
<ellipse cx="393.96" cy="329.78" rx="2.48" ry="2.12"/>
<ellipse cx="432.96" cy="330.36" rx="2.48" ry="2.12"/>
<ellipse cx="328.96" cy="328.80" rx="2.48" ry="2.12"/>
<ellipse cx="367.96" cy="329.39" rx="2.48" ry="2.12"/>
<ellipse cx="406.96" cy="329.97" rx="2.48" ry="2.12"/>
<ellipse cx="445.96" cy="330.56" rx="2.48" ry="2.12"/>
</g>
<g stroke="#444" stroke-width="0.9">
<line x1="339.21" y1="389.11" x2="351.73" y2="388.55"/>
<line x1="425.44" y1="377.23" x2="432.24" y2="380.42"/>
<line x1="395.56" y1="382.07" x2="407.79" y2="381.52"/>
<line x1="372.34" y1="376.62" x2="378.64" y2="373.84"/>
<line x1="406.80" y1="370.57" x2="411.94" y2="368.64"/>
<line x1="414.29" y1="385.73" x2="426.80" y2="385.17"/>
<line x1="426.80" y1="385.17" x2="433.88" y2="389.85"/>
<line x1="407.29" y1="375.05" x2="412.72" y2="372.30"/>
<line x1="406.30" y1="367.49" x2="411.94" y2="368.64"/>
<line x1="379.58" y1="370.09" x2="390.37" y2="369.61"/>
<line x1="424.09" y1="371.79" x2="430.59" y2="374.00"/>
<line x1="358.00" y1="371.06" x2="364.30" y2="369.38"/>
<line x1="314.19" y1="390.24" x2="318.68" y2="395.03"/>
<line x1="408.28" y1="391.00" x2="414.29" y2="385.73"/>
<line x1="371.11" y1="383.18" x2="377.69" y2="379.38"/>
<line x1="389.26" y1="386.86" x2="395.48" y2="391.58"/>
<line x1="364.30" y1="369.38" x2="374.80" y2="368.91"/>
<line x1="372.34" y1="376.62" x2="377.69" y2="379.38"/>
<line x1="406.80" y1="370.57" x2="412.72" y2="372.30"/>
<line x1="373.57" y1="372.06" x2="379.58" y2="370.09"/>
<line x1="318.01" y1="382.06" x2="322.21" y2="385.38"/>
<line x1="378.64" y1="373.84" x2="390.00" y2="373.33"/>
<line x1="322.21" y1="385.38" x2="334.44" y2="384.83"/>
<line x1="337.39" y1="378.19" x2="344.55" y2="375.37"/>
<line x1="407.79" y1="381.52" x2="413.51" y2="377.77"/>
<line x1="329.27" y1="374.06" x2="340.35" y2="373.56"/>
<line x1="376.75" y1="387.42" x2="389.26" y2="386.86"/>
<line x1="325.74" y1="378.72" x2="337.39" y2="378.19"/>
<line x1="371.11" y1="383.18" x2="376.75" y2="387.42"/>
<line x1="395.48" y1="391.58" x2="408.28" y2="391.00"/>
<line x1="390.00" y1="373.33" x2="395.72" y2="371.07"/>
<line x1="325.64" y1="372.52" x2="332.80" y2="370.80"/>
<line x1="377.69" y1="379.38" x2="389.63" y2="378.84"/>
<line x1="373.57" y1="372.06" x2="378.64" y2="373.84"/>
<line x1="331.48" y1="394.46" x2="339.21" y2="389.11"/>
<line x1="353.82" y1="380.45" x2="360.69" y2="377.14"/>
<line x1="358.00" y1="371.06" x2="362.50" y2="372.56"/>
<line x1="358.88" y1="383.73" x2="371.11" y2="383.18"/>
<line x1="351.73" y1="388.55" x2="358.88" y2="383.73"/>
<line x1="321.82" y1="376.39" x2="329.27" y2="374.06"/>
<line x1="340.35" y1="373.56" x2="347.22" y2="371.55"/>
<line x1="343.30" y1="370.33" x2="347.22" y2="371.55"/>
<line x1="389.63" y1="378.84" x2="395.64" y2="375.57"/>
<line x1="334.44" y1="384.83" x2="341.88" y2="380.99"/>
<line x1="422.73" y1="368.15" x2="427.30" y2="366.55"/>
<line x1="369.88" y1="392.73" x2="376.75" y2="387.42"/>
<line x1="332.80" y1="370.80" x2="343.30" y2="370.33"/>
<line x1="407.29" y1="375.05" x2="413.51" y2="377.77"/>
<line x1="374.80" y1="368.91" x2="379.58" y2="370.09"/>
<line x1="407.79" y1="381.52" x2="414.29" y2="385.73"/>
<line x1="355.91" y1="374.86" x2="362.50" y2="372.56"/>
<line x1="390.37" y1="369.61" x2="395.80" y2="367.96"/>
<line x1="362.50" y1="372.56" x2="373.57" y2="372.06"/>
<line x1="360.69" y1="377.14" x2="372.34" y2="376.62"/>
<line x1="340.35" y1="373.56" x2="344.55" y2="375.37"/>
<line x1="337.39" y1="378.19" x2="341.88" y2="380.99"/>
<line x1="347.22" y1="371.55" x2="358.00" y2="371.06"/>
<line x1="430.59" y1="374.00" x2="442.24" y2="373.47"/>
<line x1="413.51" y1="377.77" x2="425.44" y2="377.23"/>
<line x1="395.80" y1="367.96" x2="406.30" y2="367.49"/>
<line x1="389.63" y1="378.84" x2="395.56" y2="382.07"/>
<line x1="318.68" y1="395.03" x2="331.48" y2="394.46"/>
<line x1="357.08" y1="393.31" x2="369.88" y2="392.73"/>
<line x1="432.24" y1="380.42" x2="444.46" y2="379.87"/>
<line x1="412.72" y1="372.30" x2="424.09" y2="371.79"/>
<line x1="355.91" y1="374.86" x2="360.69" y2="377.14"/>
<line x1="424.09" y1="371.79" x2="428.94" y2="369.57"/>
<line x1="353.82" y1="380.45" x2="358.88" y2="383.73"/>
<line x1="425.44" y1="377.23" x2="430.59" y2="374.00"/>
<line x1="411.94" y1="368.64" x2="422.73" y2="368.15"/>
<line x1="390.37" y1="369.61" x2="395.72" y2="371.07"/>
<line x1="318.01" y1="382.06" x2="325.74" y2="378.72"/>
<line x1="314.19" y1="390.24" x2="322.21" y2="385.38"/>
<line x1="334.44" y1="384.83" x2="339.21" y2="389.11"/>
<line x1="433.88" y1="389.85" x2="446.68" y2="389.27"/>
<line x1="395.64" y1="375.57" x2="407.29" y2="375.05"/>
<line x1="390.00" y1="373.33" x2="395.64" y2="375.57"/>
<line x1="389.26" y1="386.86" x2="395.56" y2="382.07"/>
<line x1="344.55" y1="375.37" x2="355.91" y2="374.86"/>
<line x1="325.64" y1="372.52" x2="329.27" y2="374.06"/>
<line x1="426.80" y1="385.17" x2="432.24" y2="380.42"/>
<line x1="395.72" y1="371.07" x2="406.80" y2="370.57"/>
<line x1="422.73" y1="368.15" x2="428.94" y2="369.57"/>
<line x1="341.88" y1="380.99" x2="353.82" y2="380.45"/>
<line x1="351.73" y1="388.55" x2="357.08" y2="393.31"/>
<line x1="321.82" y1="376.39" x2="325.74" y2="378.72"/>
</g>
<g fill="url(#atom)">
<ellipse cx="332.80" cy="370.80" rx="1.51" ry="1.29"/>
<ellipse cx="343.30" cy="370.33" rx="1.51" ry="1.29"/>
<ellipse cx="364.30" cy="369.38" rx="1.51" ry="1.29"/>
<ellipse cx="374.80" cy="368.91" rx="1.51" ry="1.29"/>
<ellipse cx="395.80" cy="367.96" rx="1.51" ry="1.29"/>
<ellipse cx="406.30" cy="367.49" rx="1.51" ry="1.29"/>
<ellipse cx="427.30" cy="366.55" rx="1.51" ry="1.29"/>
<ellipse cx="325.64" cy="372.52" rx="1.66" ry="1.41"/>
<ellipse cx="347.22" cy="371.55" rx="1.66" ry="1.41"/>
<ellipse cx="358.00" cy="371.06" rx="1.66" ry="1.41"/>
<ellipse cx="379.58" cy="370.09" rx="1.66" ry="1.41"/>
<ellipse cx="390.37" cy="369.61" rx="1.66" ry="1.41"/>
<ellipse cx="411.94" cy="368.64" rx="1.66" ry="1.41"/>
<ellipse cx="422.73" cy="368.15" rx="1.66" ry="1.41"/>
<ellipse cx="329.27" cy="374.06" rx="1.81" ry="1.54"/>
<ellipse cx="340.35" cy="373.56" rx="1.81" ry="1.54"/>
<ellipse cx="362.50" cy="372.56" rx="1.81" ry="1.54"/>
<ellipse cx="373.57" cy="372.06" rx="1.81" ry="1.54"/>
<ellipse cx="395.72" cy="371.07" rx="1.81" ry="1.54"/>
<ellipse cx="406.80" cy="370.57" rx="1.81" ry="1.54"/>
<ellipse cx="428.94" cy="369.57" rx="1.81" ry="1.54"/>
<ellipse cx="344.55" cy="375.37" rx="1.96" ry="1.67"/>
<ellipse cx="378.64" cy="373.84" rx="1.96" ry="1.67"/>
<ellipse cx="412.72" cy="372.30" rx="1.96" ry="1.67"/>
<ellipse cx="321.82" cy="376.39" rx="1.96" ry="1.67"/>
<ellipse cx="355.91" cy="374.86" rx="1.96" ry="1.67"/>
<ellipse cx="390.00" cy="373.33" rx="1.96" ry="1.67"/>
<ellipse cx="424.09" cy="371.79" rx="1.96" ry="1.67"/>
<ellipse cx="325.74" cy="378.72" rx="2.11" ry="1.79"/>
<ellipse cx="337.39" cy="378.19" rx="2.11" ry="1.79"/>
<ellipse cx="360.69" cy="377.14" rx="2.11" ry="1.79"/>
<ellipse cx="372.34" cy="376.62" rx="2.11" ry="1.79"/>
<ellipse cx="395.64" cy="375.57" rx="2.11" ry="1.79"/>
<ellipse cx="407.29" cy="375.05" rx="2.11" ry="1.79"/>
<ellipse cx="430.59" cy="374.00" rx="2.11" ry="1.79"/>
<ellipse cx="442.24" cy="373.47" rx="2.11" ry="1.79"/>
<ellipse cx="318.01" cy="382.06" rx="2.25" ry="1.92"/>
<ellipse cx="341.88" cy="380.99" rx="2.25" ry="1.92"/>
<ellipse cx="353.82" cy="380.45" rx="2.25" ry="1.92"/>
<ellipse cx="377.69" cy="379.38" rx="2.25" ry="1.92"/>
<ellipse cx="389.63" cy="378.84" rx="2.25" ry="1.92"/>
<ellipse cx="413.51" cy="377.77" rx="2.25" ry="1.92"/>
<ellipse cx="425.44" cy="377.23" rx="2.25" ry="1.92"/>
<ellipse cx="322.21" cy="385.38" rx="2.40" ry="2.05"/>
<ellipse cx="334.44" cy="384.83" rx="2.40" ry="2.05"/>
<ellipse cx="358.88" cy="383.73" rx="2.40" ry="2.05"/>
<ellipse cx="371.11" cy="383.18" rx="2.40" ry="2.05"/>
<ellipse cx="395.56" cy="382.07" rx="2.40" ry="2.05"/>
<ellipse cx="407.79" cy="381.52" rx="2.40" ry="2.05"/>
<ellipse cx="432.24" cy="380.42" rx="2.40" ry="2.05"/>
<ellipse cx="444.46" cy="379.87" rx="2.40" ry="2.05"/>
<ellipse cx="314.19" cy="390.24" rx="2.55" ry="2.17"/>
<ellipse cx="339.21" cy="389.11" rx="2.55" ry="2.17"/>
<ellipse cx="351.73" cy="388.55" rx="2.55" ry="2.17"/>
<ellipse cx="376.75" cy="387.42" rx="2.55" ry="2.17"/>
<ellipse cx="389.26" cy="386.86" rx="2.55" ry="2.17"/>
<ellipse cx="414.29" cy="385.73" rx="2.55" ry="2.17"/>
<ellipse cx="426.80" cy="385.17" rx="2.55" ry="2.17"/>
<ellipse cx="318.68" cy="395.03" rx="2.70" ry="2.30"/>
<ellipse cx="357.08" cy="393.31" rx="2.70" ry="2.30"/>
<ellipse cx="395.48" cy="391.58" rx="2.70" ry="2.30"/>
<ellipse cx="433.88" cy="389.85" rx="2.70" ry="2.30"/>
<ellipse cx="331.48" cy="394.46" rx="2.70" ry="2.30"/>
<ellipse cx="369.88" cy="392.73" rx="2.70" ry="2.30"/>
<ellipse cx="408.28" cy="391.00" rx="2.70" ry="2.30"/>
<ellipse cx="446.68" cy="389.27" rx="2.70" ry="2.30"/>
</g>
<g stroke="#444" stroke-width="0.9">
<line x1="513.44" y1="334.18" x2="525.80" y2="334.50"/>
<line x1="594.90" y1="343.67" x2="603.28" y2="339.85"/>
<line x1="568.13" y1="340.15" x2="579.85" y2="340.15"/>
<line x1="545.45" y1="347.18" x2="550.72" y2="349.99"/>
<line x1="573.63" y1="351.92" x2="576.32" y2="353.33"/>
<line x1="587.58" y1="335.32" x2="599.94" y2="335.32"/>
<line x1="599.94" y1="335.32" x2="608.96" y2="330.36"/>
<line x1="576.74" y1="347.24" x2="580.07" y2="349.72"/>
<line x1="550.82" y1="353.69" x2="559.32" y2="353.74"/>
<line x1="589.86" y1="349.30" x2="597.59" y2="346.52"/>
<line x1="488.73" y1="333.38" x2="491.96" y2="328.61"/>
<line x1="582.96" y1="329.97" x2="587.58" y2="335.32"/>
<line x1="544.71" y1="339.88" x2="550.61" y2="343.99"/>
<line x1="562.87" y1="335.15" x2="569.96" y2="329.78"/>
<line x1="545.45" y1="347.18" x2="550.61" y2="343.99"/>
<line x1="573.63" y1="351.92" x2="580.07" y2="349.72"/>
<line x1="546.20" y1="351.99" x2="550.82" y2="353.69"/>
<line x1="495.26" y1="341.51" x2="497.85" y2="338.20"/>
<line x1="591.91" y1="351.01" x2="601.05" y2="350.29"/>
<line x1="550.72" y1="349.99" x2="560.50" y2="350.06"/>
<line x1="497.85" y1="338.20" x2="509.56" y2="338.76"/>
<line x1="514.17" y1="345.77" x2="521.36" y2="348.76"/>
<line x1="579.85" y1="340.15" x2="583.83" y2="343.94"/>
<line x1="509.63" y1="349.65" x2="518.77" y2="350.50"/>
<line x1="550.51" y1="334.99" x2="562.87" y2="335.15"/>
<line x1="503.74" y1="345.00" x2="514.17" y2="345.77"/>
<line x1="544.71" y1="339.88" x2="550.51" y2="334.99"/>
<line x1="569.96" y1="329.78" x2="582.96" y2="329.97"/>
<line x1="560.50" y1="350.06" x2="564.48" y2="352.12"/>
<line x1="550.61" y1="343.99" x2="561.69" y2="344.10"/>
<line x1="546.20" y1="351.99" x2="550.72" y2="349.99"/>
<line x1="504.96" y1="328.80" x2="513.44" y2="334.18"/>
<line x1="528.47" y1="343.38" x2="535.02" y2="346.86"/>
<line x1="533.82" y1="353.06" x2="537.05" y2="351.67"/>
<line x1="532.99" y1="339.60" x2="544.71" y2="339.88"/>
<line x1="525.80" y1="334.50" x2="532.99" y2="339.60"/>
<line x1="501.79" y1="347.12" x2="509.63" y2="349.65"/>
<line x1="518.77" y1="350.50" x2="525.32" y2="352.48"/>
<line x1="561.69" y1="344.10" x2="566.31" y2="347.37"/>
<line x1="509.56" y1="338.76" x2="517.40" y2="342.88"/>
<line x1="543.96" y1="329.39" x2="550.51" y2="334.99"/>
<line x1="576.74" y1="347.24" x2="583.83" y2="343.94"/>
<line x1="579.85" y1="340.15" x2="587.58" y2="335.32"/>
<line x1="531.15" y1="349.34" x2="537.05" y2="351.67"/>
<line x1="537.05" y1="351.67" x2="546.20" y2="351.99"/>
<line x1="535.02" y1="346.86" x2="545.45" y2="347.18"/>
<line x1="518.77" y1="350.50" x2="521.36" y2="348.76"/>
<line x1="514.17" y1="345.77" x2="517.40" y2="342.88"/>
<line x1="525.32" y1="352.48" x2="533.82" y2="353.06"/>
<line x1="597.59" y1="346.52" x2="608.02" y2="345.94"/>
<line x1="583.83" y1="343.94" x2="594.90" y2="343.67"/>
<line x1="561.69" y1="344.10" x2="568.13" y2="340.15"/>
<line x1="491.96" y1="328.61" x2="504.96" y2="328.80"/>
<line x1="530.96" y1="329.19" x2="543.96" y2="329.39"/>
<line x1="603.28" y1="339.85" x2="614.99" y2="339.56"/>
<line x1="580.07" y1="349.72" x2="589.86" y2="349.30"/>
<line x1="531.15" y1="349.34" x2="535.02" y2="346.86"/>
<line x1="589.86" y1="349.30" x2="591.91" y2="351.01"/>
<line x1="528.47" y1="343.38" x2="532.99" y2="339.60"/>
<line x1="594.90" y1="343.67" x2="597.59" y2="346.52"/>
<line x1="576.32" y1="353.33" x2="584.82" y2="352.85"/>
<line x1="559.32" y1="353.74" x2="564.48" y2="352.12"/>
<line x1="495.26" y1="341.51" x2="503.74" y2="345.00"/>
<line x1="488.73" y1="333.38" x2="497.85" y2="338.20"/>
<line x1="509.56" y1="338.76" x2="513.44" y2="334.18"/>
<line x1="608.96" y1="330.36" x2="621.96" y2="330.56"/>
<line x1="566.31" y1="347.37" x2="576.74" y2="347.24"/>
<line x1="560.50" y1="350.06" x2="566.31" y2="347.37"/>
<line x1="562.87" y1="335.15" x2="568.13" y2="340.15"/>
<line x1="521.36" y1="348.76" x2="531.15" y2="349.34"/>
<line x1="508.32" y1="350.79" x2="509.63" y2="349.65"/>
<line x1="599.94" y1="335.32" x2="603.28" y2="339.85"/>
<line x1="564.48" y1="352.12" x2="573.63" y2="351.92"/>
<line x1="584.82" y1="352.85" x2="591.91" y2="351.01"/>
<line x1="517.40" y1="342.88" x2="528.47" y2="343.38"/>
<line x1="525.80" y1="334.50" x2="530.96" y2="329.19"/>
<line x1="501.79" y1="347.12" x2="503.74" y2="345.00"/>
</g>
<g fill="url(#atom)">
<ellipse cx="508.32" cy="350.79" rx="1.62" ry="1.38"/>
<ellipse cx="525.32" cy="352.48" rx="1.62" ry="1.38"/>
<ellipse cx="533.82" cy="353.06" rx="1.62" ry="1.38"/>
<ellipse cx="550.82" cy="353.69" rx="1.62" ry="1.38"/>
<ellipse cx="559.32" cy="353.74" rx="1.62" ry="1.38"/>
<ellipse cx="576.32" cy="353.33" rx="1.62" ry="1.38"/>
<ellipse cx="584.82" cy="352.85" rx="1.62" ry="1.38"/>
<ellipse cx="509.63" cy="349.65" rx="1.74" ry="1.49"/>
<ellipse cx="518.77" cy="350.50" rx="1.74" ry="1.49"/>
<ellipse cx="537.05" cy="351.67" rx="1.74" ry="1.49"/>
<ellipse cx="546.20" cy="351.99" rx="1.74" ry="1.49"/>
<ellipse cx="564.48" cy="352.12" rx="1.74" ry="1.49"/>
<ellipse cx="573.63" cy="351.92" rx="1.74" ry="1.49"/>
<ellipse cx="591.91" cy="351.01" rx="1.74" ry="1.49"/>
<ellipse cx="601.05" cy="350.29" rx="1.74" ry="1.49"/>
<ellipse cx="521.36" cy="348.76" rx="1.87" ry="1.59"/>
<ellipse cx="550.72" cy="349.99" rx="1.87" ry="1.59"/>
<ellipse cx="580.07" cy="349.72" rx="1.87" ry="1.59"/>
<ellipse cx="501.79" cy="347.12" rx="1.87" ry="1.59"/>
<ellipse cx="531.15" cy="349.34" rx="1.87" ry="1.59"/>
<ellipse cx="560.50" cy="350.06" rx="1.87" ry="1.59"/>
<ellipse cx="589.86" cy="349.30" rx="1.87" ry="1.59"/>
<ellipse cx="503.74" cy="345.00" rx="1.99" ry="1.70"/>
<ellipse cx="514.17" cy="345.77" rx="1.99" ry="1.70"/>
<ellipse cx="535.02" cy="346.86" rx="1.99" ry="1.70"/>
<ellipse cx="545.45" cy="347.18" rx="1.99" ry="1.70"/>
<ellipse cx="566.31" cy="347.37" rx="1.99" ry="1.70"/>
<ellipse cx="576.74" cy="347.24" rx="1.99" ry="1.70"/>
<ellipse cx="597.59" cy="346.52" rx="1.99" ry="1.70"/>
<ellipse cx="608.02" cy="345.94" rx="1.99" ry="1.70"/>
<ellipse cx="495.26" cy="341.51" rx="2.11" ry="1.80"/>
<ellipse cx="517.40" cy="342.88" rx="2.11" ry="1.80"/>
<ellipse cx="528.47" cy="343.38" rx="2.11" ry="1.80"/>
<ellipse cx="550.61" cy="343.99" rx="2.11" ry="1.80"/>
<ellipse cx="561.69" cy="344.10" rx="2.11" ry="1.80"/>
<ellipse cx="583.83" cy="343.94" rx="2.11" ry="1.80"/>
<ellipse cx="594.90" cy="343.67" rx="2.11" ry="1.80"/>
<ellipse cx="497.85" cy="338.20" rx="2.24" ry="1.91"/>
<ellipse cx="509.56" cy="338.76" rx="2.24" ry="1.91"/>
<ellipse cx="532.99" cy="339.60" rx="2.24" ry="1.91"/>
<ellipse cx="544.71" cy="339.88" rx="2.24" ry="1.91"/>
<ellipse cx="568.13" cy="340.15" rx="2.24" ry="1.91"/>
<ellipse cx="579.85" cy="340.15" rx="2.24" ry="1.91"/>
<ellipse cx="603.28" cy="339.85" rx="2.24" ry="1.91"/>
<ellipse cx="614.99" cy="339.56" rx="2.24" ry="1.91"/>
<ellipse cx="488.73" cy="333.38" rx="2.36" ry="2.01"/>
<ellipse cx="513.44" cy="334.18" rx="2.36" ry="2.01"/>
<ellipse cx="525.80" cy="334.50" rx="2.36" ry="2.01"/>
<ellipse cx="550.51" cy="334.99" rx="2.36" ry="2.01"/>
<ellipse cx="562.87" cy="335.15" rx="2.36" ry="2.01"/>
<ellipse cx="587.58" cy="335.32" rx="2.36" ry="2.01"/>
<ellipse cx="599.94" cy="335.32" rx="2.36" ry="2.01"/>
<ellipse cx="491.96" cy="328.61" rx="2.48" ry="2.12"/>
<ellipse cx="530.96" cy="329.19" rx="2.48" ry="2.12"/>
<ellipse cx="569.96" cy="329.78" rx="2.48" ry="2.12"/>
<ellipse cx="608.96" cy="330.36" rx="2.48" ry="2.12"/>
<ellipse cx="504.96" cy="328.80" rx="2.48" ry="2.12"/>
<ellipse cx="543.96" cy="329.39" rx="2.48" ry="2.12"/>
<ellipse cx="582.96" cy="329.97" rx="2.48" ry="2.12"/>
<ellipse cx="621.96" cy="330.56" rx="2.48" ry="2.12"/>
</g>
<g stroke="#444" stroke-width="0.9">
<line x1="515.21" y1="389.11" x2="527.73" y2="388.55"/>
<line x1="601.44" y1="377.23" x2="608.24" y2="380.42"/>
<line x1="571.56" y1="382.07" x2="583.78" y2="381.52"/>
<line x1="548.34" y1="376.62" x2="554.64" y2="373.84"/>
<line x1="582.79" y1="370.57" x2="587.94" y2="368.64"/>
<line x1="590.29" y1="385.73" x2="602.80" y2="385.17"/>
<line x1="602.80" y1="385.17" x2="609.88" y2="389.85"/>
<line x1="583.29" y1="375.05" x2="588.72" y2="372.30"/>
<line x1="582.30" y1="367.49" x2="587.94" y2="368.64"/>
<line x1="555.58" y1="370.09" x2="566.37" y2="369.61"/>
<line x1="600.09" y1="371.79" x2="606.59" y2="374.00"/>
<line x1="534.00" y1="371.06" x2="540.30" y2="369.38"/>
<line x1="490.19" y1="390.24" x2="494.68" y2="395.03"/>
<line x1="584.28" y1="391.00" x2="590.29" y2="385.73"/>
<line x1="547.11" y1="383.18" x2="553.69" y2="379.38"/>
<line x1="565.26" y1="386.86" x2="571.48" y2="391.58"/>
<line x1="540.30" y1="369.38" x2="550.80" y2="368.91"/>
<line x1="548.34" y1="376.62" x2="553.69" y2="379.38"/>
<line x1="582.79" y1="370.57" x2="588.72" y2="372.30"/>
<line x1="549.57" y1="372.06" x2="555.58" y2="370.09"/>
<line x1="494.01" y1="382.06" x2="498.21" y2="385.38"/>
<line x1="554.64" y1="373.84" x2="566.00" y2="373.33"/>
<line x1="498.21" y1="385.38" x2="510.44" y2="384.83"/>
<line x1="513.39" y1="378.19" x2="520.55" y2="375.37"/>
<line x1="583.78" y1="381.52" x2="589.51" y2="377.77"/>
<line x1="505.27" y1="374.06" x2="516.35" y2="373.56"/>
<line x1="552.75" y1="387.42" x2="565.26" y2="386.86"/>
<line x1="501.74" y1="378.72" x2="513.39" y2="378.19"/>
<line x1="547.11" y1="383.18" x2="552.75" y2="387.42"/>
<line x1="571.48" y1="391.58" x2="584.28" y2="391.00"/>
<line x1="566.00" y1="373.33" x2="571.72" y2="371.07"/>
<line x1="501.64" y1="372.52" x2="508.80" y2="370.80"/>
<line x1="553.69" y1="379.38" x2="565.63" y2="378.84"/>
<line x1="549.57" y1="372.06" x2="554.64" y2="373.84"/>
<line x1="507.48" y1="394.46" x2="515.21" y2="389.11"/>
<line x1="529.82" y1="380.45" x2="536.69" y2="377.14"/>
<line x1="534.00" y1="371.06" x2="538.50" y2="372.56"/>
<line x1="534.88" y1="383.73" x2="547.11" y2="383.18"/>
<line x1="527.73" y1="388.55" x2="534.88" y2="383.73"/>
<line x1="497.82" y1="376.39" x2="505.27" y2="374.06"/>
<line x1="516.35" y1="373.56" x2="523.22" y2="371.55"/>
<line x1="519.30" y1="370.33" x2="523.22" y2="371.55"/>
<line x1="565.63" y1="378.84" x2="571.64" y2="375.57"/>
<line x1="510.44" y1="384.83" x2="517.88" y2="380.99"/>
<line x1="598.73" y1="368.15" x2="603.30" y2="366.55"/>
<line x1="545.88" y1="392.73" x2="552.75" y2="387.42"/>
<line x1="508.80" y1="370.80" x2="519.30" y2="370.33"/>
<line x1="583.29" y1="375.05" x2="589.51" y2="377.77"/>
<line x1="550.80" y1="368.91" x2="555.58" y2="370.09"/>
<line x1="583.78" y1="381.52" x2="590.29" y2="385.73"/>
<line x1="531.91" y1="374.86" x2="538.50" y2="372.56"/>
<line x1="566.37" y1="369.61" x2="571.80" y2="367.96"/>
<line x1="538.50" y1="372.56" x2="549.57" y2="372.06"/>
<line x1="536.69" y1="377.14" x2="548.34" y2="376.62"/>
<line x1="516.35" y1="373.56" x2="520.55" y2="375.37"/>
<line x1="513.39" y1="378.19" x2="517.88" y2="380.99"/>
<line x1="523.22" y1="371.55" x2="534.00" y2="371.06"/>
<line x1="606.59" y1="374.00" x2="618.24" y2="373.47"/>
<line x1="589.51" y1="377.77" x2="601.44" y2="377.23"/>
<line x1="571.80" y1="367.96" x2="582.30" y2="367.49"/>
<line x1="565.63" y1="378.84" x2="571.56" y2="382.07"/>
<line x1="494.68" y1="395.03" x2="507.48" y2="394.46"/>
<line x1="533.08" y1="393.31" x2="545.88" y2="392.73"/>
<line x1="608.24" y1="380.42" x2="620.46" y2="379.87"/>
<line x1="588.72" y1="372.30" x2="600.09" y2="371.79"/>
<line x1="531.91" y1="374.86" x2="536.69" y2="377.14"/>
<line x1="600.09" y1="371.79" x2="604.94" y2="369.57"/>
<line x1="529.82" y1="380.45" x2="534.88" y2="383.73"/>
<line x1="601.44" y1="377.23" x2="606.59" y2="374.00"/>
<line x1="587.94" y1="368.64" x2="598.73" y2="368.15"/>
<line x1="566.37" y1="369.61" x2="571.72" y2="371.07"/>
<line x1="494.01" y1="382.06" x2="501.74" y2="378.72"/>
<line x1="490.19" y1="390.24" x2="498.21" y2="385.38"/>
<line x1="510.44" y1="384.83" x2="515.21" y2="389.11"/>
<line x1="609.88" y1="389.85" x2="622.68" y2="389.27"/>
<line x1="571.64" y1="375.57" x2="583.29" y2="375.05"/>
<line x1="566.00" y1="373.33" x2="571.64" y2="375.57"/>
<line x1="565.26" y1="386.86" x2="571.56" y2="382.07"/>
<line x1="520.55" y1="375.37" x2="531.91" y2="374.86"/>
<line x1="501.64" y1="372.52" x2="505.27" y2="374.06"/>
<line x1="602.80" y1="385.17" x2="608.24" y2="380.42"/>
<line x1="571.72" y1="371.07" x2="582.79" y2="370.57"/>
<line x1="598.73" y1="368.15" x2="604.94" y2="369.57"/>
<line x1="517.88" y1="380.99" x2="529.82" y2="380.45"/>
<line x1="527.73" y1="388.55" x2="533.08" y2="393.31"/>
<line x1="497.82" y1="376.39" x2="501.74" y2="378.72"/>
</g>
<g fill="url(#atom)">
<ellipse cx="508.80" cy="370.80" rx="1.51" ry="1.29"/>
<ellipse cx="519.30" cy="370.33" rx="1.51" ry="1.29"/>
<ellipse cx="540.30" cy="369.38" rx="1.51" ry="1.29"/>
<ellipse cx="550.80" cy="368.91" rx="1.51" ry="1.29"/>
<ellipse cx="571.80" cy="367.96" rx="1.51" ry="1.29"/>
<ellipse cx="582.30" cy="367.49" rx="1.51" ry="1.29"/>
<ellipse cx="603.30" cy="366.55" rx="1.51" ry="1.29"/>
<ellipse cx="501.64" cy="372.52" rx="1.66" ry="1.41"/>
<ellipse cx="523.22" cy="371.55" rx="1.66" ry="1.41"/>
<ellipse cx="534.00" cy="371.06" rx="1.66" ry="1.41"/>
<ellipse cx="555.58" cy="370.09" rx="1.66" ry="1.41"/>
<ellipse cx="566.37" cy="369.61" rx="1.66" ry="1.41"/>
<ellipse cx="587.94" cy="368.64" rx="1.66" ry="1.41"/>
<ellipse cx="598.73" cy="368.15" rx="1.66" ry="1.41"/>
<ellipse cx="505.27" cy="374.06" rx="1.81" ry="1.54"/>
<ellipse cx="516.35" cy="373.56" rx="1.81" ry="1.54"/>
<ellipse cx="538.50" cy="372.56" rx="1.81" ry="1.54"/>
<ellipse cx="549.57" cy="372.06" rx="1.81" ry="1.54"/>
<ellipse cx="571.72" cy="371.07" rx="1.81" ry="1.54"/>
<ellipse cx="582.79" cy="370.57" rx="1.81" ry="1.54"/>
<ellipse cx="604.94" cy="369.57" rx="1.81" ry="1.54"/>
<ellipse cx="520.55" cy="375.37" rx="1.96" ry="1.67"/>
<ellipse cx="554.64" cy="373.84" rx="1.96" ry="1.67"/>
<ellipse cx="588.72" cy="372.30" rx="1.96" ry="1.67"/>
<ellipse cx="497.82" cy="376.39" rx="1.96" ry="1.67"/>
<ellipse cx="531.91" cy="374.86" rx="1.96" ry="1.67"/>
<ellipse cx="566.00" cy="373.33" rx="1.96" ry="1.67"/>
<ellipse cx="600.09" cy="371.79" rx="1.96" ry="1.67"/>
<ellipse cx="501.74" cy="378.72" rx="2.11" ry="1.79"/>
<ellipse cx="513.39" cy="378.19" rx="2.11" ry="1.79"/>
<ellipse cx="536.69" cy="377.14" rx="2.11" ry="1.79"/>
<ellipse cx="548.34" cy="376.62" rx="2.11" ry="1.79"/>
<ellipse cx="571.64" cy="375.57" rx="2.11" ry="1.79"/>
<ellipse cx="583.29" cy="375.05" rx="2.11" ry="1.79"/>
<ellipse cx="606.59" cy="374.00" rx="2.11" ry="1.79"/>
<ellipse cx="618.24" cy="373.47" rx="2.11" ry="1.79"/>
<ellipse cx="494.01" cy="382.06" rx="2.25" ry="1.92"/>
<ellipse cx="517.88" cy="380.99" rx="2.25" ry="1.92"/>
<ellipse cx="529.82" cy="380.45" rx="2.25" ry="1.92"/>
<ellipse cx="553.69" cy="379.38" rx="2.25" ry="1.92"/>
<ellipse cx="565.63" cy="378.84" rx="2.25" ry="1.92"/>
<ellipse cx="589.51" cy="377.77" rx="2.25" ry="1.92"/>
<ellipse cx="601.44" cy="377.23" rx="2.25" ry="1.92"/>
<ellipse cx="498.21" cy="385.38" rx="2.40" ry="2.05"/>
<ellipse cx="510.44" cy="384.83" rx="2.40" ry="2.05"/>
<ellipse cx="534.88" cy="383.73" rx="2.40" ry="2.05"/>
<ellipse cx="547.11" cy="383.18" rx="2.40" ry="2.05"/>
<ellipse cx="571.56" cy="382.07" rx="2.40" ry="2.05"/>
<ellipse cx="583.78" cy="381.52" rx="2.40" ry="2.05"/>
<ellipse cx="608.24" cy="380.42" rx="2.40" ry="2.05"/>
<ellipse cx="620.46" cy="379.87" rx="2.40" ry="2.05"/>
<ellipse cx="490.19" cy="390.24" rx="2.55" ry="2.17"/>
<ellipse cx="515.21" cy="389.11" rx="2.55" ry="2.17"/>
<ellipse cx="527.73" cy="388.55" rx="2.55" ry="2.17"/>
<ellipse cx="552.75" cy="387.42" rx="2.55" ry="2.17"/>
<ellipse cx="565.26" cy="386.86" rx="2.55" ry="2.17"/>
<ellipse cx="590.29" cy="385.73" rx="2.55" ry="2.17"/>
<ellipse cx="602.80" cy="385.17" rx="2.55" ry="2.17"/>
<ellipse cx="494.68" cy="395.03" rx="2.70" ry="2.30"/>
<ellipse cx="533.08" cy="393.31" rx="2.70" ry="2.30"/>
<ellipse cx="571.48" cy="391.58" rx="2.70" ry="2.30"/>
<ellipse cx="609.88" cy="389.85" rx="2.70" ry="2.30"/>
<ellipse cx="507.48" cy="394.46" rx="2.70" ry="2.30"/>
<ellipse cx="545.88" cy="392.73" rx="2.70" ry="2.30"/>
<ellipse cx="584.28" cy="391.00" rx="2.70" ry="2.30"/>
<ellipse cx="622.68" cy="389.27" rx="2.70" ry="2.30"/>
</g>
<circle cx="335.00" cy="383.40" r="5.9" fill="url(#eball)"/>
<rect x="331.34" y="382.50" width="7.32" height="1.8" fill="#0a1650" rx="0.4"/>
<circle cx="380.80" cy="372.60" r="5.9" fill="url(#eball)"/>
<rect x="377.14" y="371.70" width="7.32" height="1.8" fill="#0a1650" rx="0.4"/>
<circle cx="421.00" cy="383.40" r="5.9" fill="url(#eball)"/>
<rect x="417.34" y="382.50" width="7.32" height="1.8" fill="#0a1650" rx="0.4"/>
<circle cx="498.50" cy="380.40" r="6.1" fill="url(#eball)"/>
<rect x="494.72" y="379.50" width="7.56" height="1.8" fill="#0a1650" rx="0.4"/>
<circle cx="527.60" cy="373.40" r="6.1" fill="url(#eball)"/>
<rect x="523.82" y="372.50" width="7.56" height="1.8" fill="#0a1650" rx="0.4"/>
<circle cx="546.00" cy="383.50" r="6.1" fill="url(#eball)"/>
<rect x="542.22" y="382.60" width="7.56" height="1.8" fill="#0a1650" rx="0.4"/>
<circle cx="571.50" cy="371.50" r="6.1" fill="url(#eball)"/>
<rect x="567.72" y="370.60" width="7.56" height="1.8" fill="#0a1650" rx="0.4"/>
<circle cx="596.20" cy="382.30" r="6.1" fill="url(#eball)"/>
<rect x="592.42" y="381.40" width="7.56" height="1.8" fill="#0a1650" rx="0.4"/>
<circle cx="272.40" cy="383.80" r="6.1" fill="url(#eball)"/>
<rect x="268.62" y="382.90" width="7.56" height="1.8" fill="#0a1650" rx="0.4"/>
<circle cx="277.70" cy="399.30" r="6.1" fill="url(#eball)"/>
<rect x="273.92" y="398.40" width="7.56" height="1.8" fill="#0a1650" rx="0.4"/>
<path d="M256.8,361.8 L275.4,361.8 L277.5,332.4 L279.7,361.8 L297.7,361.8" fill="none" stroke="#555" stroke-width="1.2" stroke-linejoin="miter"/>
<text x="256.5" y="347.3" font-size="10.3" fill="#4a4a4a" font-style="italic" stroke="#4a4a4a" stroke-width="0.08">V<tspan font-size="6.5" dy="3" font-style="normal">BG</tspan></text>
<path d="M252,367.6 L296,367.6 L296,371.2 L252,371.2 Z" fill="url(#darr)"/>
<path d="M289.5,363.6 L303.8,369.4 L289.5,375.2 L292.5,371.2 L296.5,369.4 L292.5,367.6 Z" fill="#343e58"/>
<path d="M285.11,389.92 L314.28,381.88 L312.67,385.61 L322.00,377.80 L310.04,375.55 L313.27,378.01 L283.89,385.28 Z" fill="#f39a1f"/>
<text x="348.1" y="317.1" font-size="11" fill="#4a4a4a" stroke="#4a4a4a" stroke-width="0.08"><tspan font-style="italic">V</tspan><tspan font-size="6.8" dy="3">BG</tspan><tspan dy="-3"> pulse</tspan></text>
<text x="514.3" y="315.2" font-size="11" fill="#4a4a4a" stroke="#4a4a4a" stroke-width="0.08"><tspan font-style="italic">V</tspan><tspan font-size="6.8" dy="3">BG</tspan><tspan dy="-3"> grounded</tspan></text>
<line x1="436.1" y1="327" x2="436.1" y2="309" stroke="#555" stroke-width="1"/>
<path d="M434.3,310.5 L436.1,306.5 L437.90000000000003,310.5 Z" fill="#555"/>
<text x="426" y="312.7" font-size="9" font-style="italic" fill="#333" stroke="#333" stroke-width="0.08">z</text>
<line x1="609.5" y1="327" x2="609.5" y2="309" stroke="#555" stroke-width="1"/>
<path d="M607.7,310.5 L609.5,306.5 L611.3,310.5 Z" fill="#555"/>
<text x="600" y="312.7" font-size="9" font-style="italic" fill="#333" stroke="#333" stroke-width="0.08">z</text>
<line x1="435" y1="368.4" x2="435" y2="357.2" stroke="#d2333f" stroke-width="1.8"/>
<path d="M432.5,358.2 L435,353.2 L437.5,358.2 Z" fill="#d2333f"/>
<text x="438.6" y="365" font-size="10" font-style="italic" fill="#d2333f" stroke="#d2333f" stroke-width="0.08">ρ</text>
<line x1="608.5" y1="374.7" x2="608.5" y2="352" stroke="#d2333f" stroke-width="1.8"/>
<path d="M606.0,353 L608.5,348 L611.0,353 Z" fill="#d2333f"/>
<text x="613" y="364" font-size="10" font-style="italic" fill="#d2333f" stroke="#d2333f" stroke-width="0.08">ρ</text>
</svg></body></html>
